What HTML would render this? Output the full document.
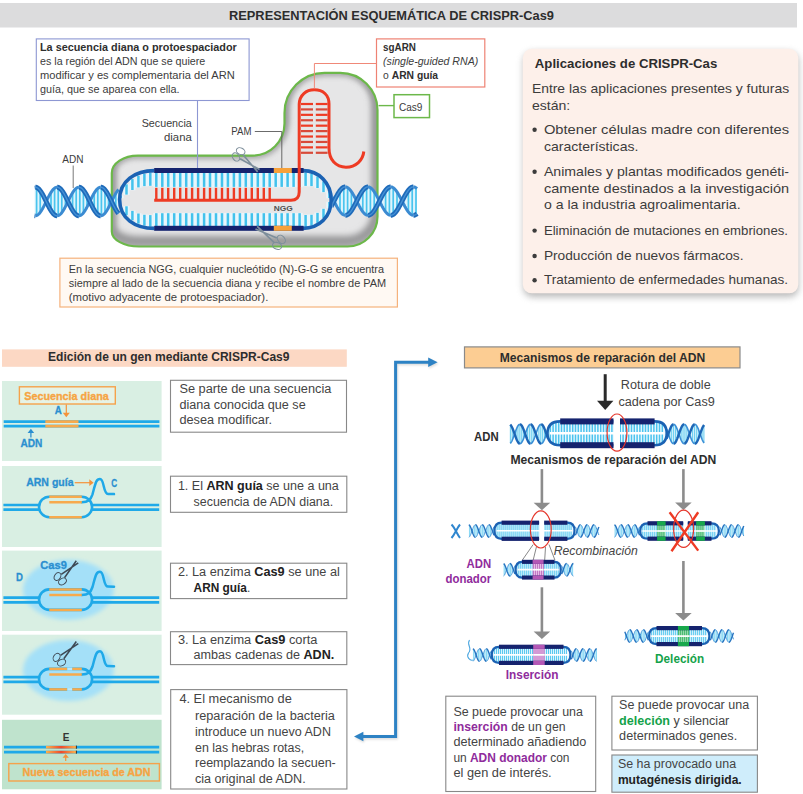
<!DOCTYPE html><html><head><meta charset="utf-8"><title>CRISPR-Cas9</title>
<style>html,body{margin:0;padding:0;background:#fff}svg{display:block}</style></head><body>
<svg width="803" height="794" viewBox="0 0 803 794" style="font-family:'Liberation Sans',sans-serif">
<defs>
<filter id="sh" x="-10%" y="-10%" width="120%" height="125%"><feGaussianBlur stdDeviation="3.6"/></filter>
<filter id="blur6" x="-20%" y="-20%" width="140%" height="140%"><feGaussianBlur stdDeviation="5"/></filter>
<filter id="blur3" x="-20%" y="-20%" width="140%" height="140%"><feGaussianBlur stdDeviation="2.5"/></filter>
<filter id="blur2" x="-20%" y="-20%" width="140%" height="140%"><feGaussianBlur stdDeviation="2"/></filter>
<filter id="blur1" x="-20%" y="-5%" width="140%" height="110%"><feGaussianBlur stdDeviation="1"/></filter>
<filter id="blurE" x="-20%" y="-20%" width="140%" height="140%"><feGaussianBlur stdDeviation="3"/></filter>
<linearGradient id="ng" x1="0" x2="1" y1="0" y2="0"><stop offset="0" stop-color="#f9b34e"/><stop offset="0.5" stop-color="#ef4a2a"/><stop offset="1" stop-color="#f9b34e"/></linearGradient>
</defs>
<rect x="0.00" y="0.00" width="803.00" height="794.00" fill="#ffffff" stroke="none" stroke-width="1" rx="0" />
<rect x="0.00" y="3.00" width="797.00" height="24.50" fill="#dcdcdd" stroke="none" stroke-width="1" rx="0" />
<text x="229.0" y="20.4" font-size="12.8" fill="#2d2d2d" text-anchor="start" font-weight="bold" font-style="normal" textLength="325.0" lengthAdjust="spacingAndGlyphs"  xml:space="preserve">REPRESENTACIÓN ESQUEMÁTICA DE CRISPR-Cas9</text>
<clipPath id="bc"><path d="M138,155.6 L252.5,155.6 A32,32 0 0 0 284.5,123.6 L284.5,113 A40,40.2 0 0 1 324.5,72.8 L340.3,72.8 A37.2,37.2 0 0 1 377.5,110 L377.5,216.5 A30,30 0 0 1 347.5,246.5 L139,246.5 A27.2,15 0 0 1 111.8,231.5 L111.8,173 A26.2,17.4 0 0 1 138,155.6 Z"/></clipPath>
<path d="M138,155.6 L252.5,155.6 A32,32 0 0 0 284.5,123.6 L284.5,113 A40,40.2 0 0 1 324.5,72.8 L340.3,72.8 A37.2,37.2 0 0 1 377.5,110 L377.5,216.5 A30,30 0 0 1 347.5,246.5 L139,246.5 A27.2,15 0 0 1 111.8,231.5 L111.8,173 A26.2,17.4 0 0 1 138,155.6 Z" fill="#e6e6e7" stroke="none" stroke-width="1" />
<g clip-path="url(#bc)"><path d="M138,155.6 L252.5,155.6 A32,32 0 0 0 284.5,123.6 L284.5,113 A40,40.2 0 0 1 324.5,72.8 L340.3,72.8 A37.2,37.2 0 0 1 377.5,110 L377.5,216.5 A30,30 0 0 1 347.5,246.5 L139,246.5 A27.2,15 0 0 1 111.8,231.5 L111.8,173 A26.2,17.4 0 0 1 138,155.6 Z" fill="none" stroke="#b9b9ba" stroke-width="8" filter="url(#blur3)"/><path d="M138,155.6 L252.5,155.6 A32,32 0 0 0 284.5,123.6 L284.5,113 A40,40.2 0 0 1 324.5,72.8 L340.3,72.8 A37.2,37.2 0 0 1 377.5,110 L377.5,216.5 A30,30 0 0 1 347.5,246.5 L139,246.5 A27.2,15 0 0 1 111.8,231.5 L111.8,173 A26.2,17.4 0 0 1 138,155.6 Z" fill="none" stroke="#969698" stroke-width="10" filter="url(#blurE)" transform="translate(-1,-5.5)"/></g>
<path d="M138,155.6 L252.5,155.6 A32,32 0 0 0 284.5,123.6 L284.5,113 A40,40.2 0 0 1 324.5,72.8 L340.3,72.8 A37.2,37.2 0 0 1 377.5,110 L377.5,216.5 A30,30 0 0 1 347.5,246.5 L139,246.5 A27.2,15 0 0 1 111.8,231.5 L111.8,173 A26.2,17.4 0 0 1 138,155.6 Z" fill="none" stroke="#6cb84a" stroke-width="2.2" />
<path d="M34.60,187.27 L35.10,187.21 L35.59,187.21 L36.09,187.29 L36.59,187.44 L37.08,187.67 L37.58,187.96 L38.08,188.33 L38.57,188.76 L39.07,189.26 L39.56,189.82 L40.06,190.44 L40.56,191.11 L41.05,191.84 L41.55,192.62 L42.05,193.44 L42.54,194.31 L43.04,195.21 L43.54,196.14 L44.03,197.11 L44.53,198.09 L45.03,199.09 L45.52,200.10 L46.02,201.13 L46.51,200.85 L47.01,199.83 L47.51,198.82 L48.00,197.82 L48.50,196.85 L49.00,195.89 L49.49,194.96 L49.99,194.07 L50.49,193.22 L50.98,192.41 L51.48,191.64 L51.98,190.93 L52.47,190.26 L52.97,189.66 L53.47,189.12 L53.96,188.64 L54.46,188.22 L54.95,187.88 L55.45,187.60 L55.95,187.40 L56.44,187.26 L56.94,187.20 L57.44,187.22 L57.93,187.30 L58.43,187.46 L58.93,187.69 L59.42,187.99 L59.92,188.36 L60.42,188.80 L60.91,189.30 L61.41,189.87 L61.90,190.49 L62.40,191.17 L62.90,191.91 L63.39,192.69 L63.89,193.52 L64.39,194.39 L64.88,195.29 L65.38,196.23 L65.88,197.19 L66.37,198.18 L66.87,199.18 L67.37,200.19 L67.86,201.22 L68.36,200.76 L68.86,199.74 L69.35,198.73 L69.85,197.74 L70.34,196.76 L70.84,195.81 L71.34,194.88 L71.83,194.00 L72.33,193.14 L72.83,192.34 L73.32,191.58 L73.82,190.86 L74.32,190.21 L74.81,189.61 L75.31,189.07 L75.81,188.60 L76.30,188.19 L76.80,187.85 L77.29,187.58 L77.79,187.38 L78.29,187.26 L78.78,187.20 L79.28,187.22 L79.78,187.31 L80.27,187.48 L80.77,187.72 L81.27,188.02 L81.76,188.40 L82.26,188.84 L82.76,189.35 L83.25,189.92 L83.75,190.55 L84.24,191.24 L84.74,191.97 L85.24,192.76 L85.73,193.59 L86.23,194.46 L86.73,195.37 L87.22,196.31 L87.72,197.28 L88.22,198.27 L88.71,199.27 L89.21,200.28 L89.71,201.31 L90.20,200.67 L90.70,199.65 L91.20,198.64 L91.69,197.65 L92.19,196.68 L92.68,195.73 L93.18,194.80 L93.68,193.92 L94.17,193.07 L94.67,192.27 L95.17,191.51 L95.66,190.80 L96.16,190.15 L96.66,189.56 L97.15,189.03 L97.65,188.56 L98.15,188.16 L98.64,187.82 L99.14,187.56 L99.63,187.37 L100.13,187.25 L100.63,187.20 L101.12,187.23 L101.62,187.33 L102.12,187.50 L102.61,187.74 L103.11,188.05 L103.61,188.44 L104.10,188.89 L104.60,189.40 L105.10,189.97 L105.59,190.61 L106.09,191.30 L106.59,192.04 L107.08,192.83 L107.58,193.67 L108.07,194.54 L108.57,195.45 L109.07,196.40 L109.56,197.36 L110.06,198.35 L110.56,199.36 L111.05,200.37 L111.55,201.40 L112.05,200.58 L112.54,199.56 L113.04,198.56 L113.54,197.56 L114.03,196.59 L114.53,195.64 L115.02,194.73 L115.52,193.84 L116.02,193.00 L116.51,192.20 L117.01,191.45 L117.51,190.74 L118.00,190.10 L118.50,189.51 L118.50,213.49 L118.00,212.90 L117.51,212.26 L117.01,211.55 L116.51,210.80 L116.02,210.00 L115.52,209.16 L115.02,208.27 L114.53,207.36 L114.03,206.41 L113.54,205.44 L113.04,204.44 L112.54,203.44 L112.05,202.42 L111.55,201.60 L111.05,202.63 L110.56,203.64 L110.06,204.65 L109.56,205.64 L109.07,206.60 L108.57,207.55 L108.07,208.46 L107.58,209.33 L107.08,210.17 L106.59,210.96 L106.09,211.70 L105.59,212.39 L105.10,213.03 L104.60,213.60 L104.10,214.11 L103.61,214.56 L103.11,214.95 L102.61,215.26 L102.12,215.50 L101.62,215.67 L101.12,215.77 L100.63,215.80 L100.13,215.75 L99.63,215.63 L99.14,215.44 L98.64,215.18 L98.15,214.84 L97.65,214.44 L97.15,213.97 L96.66,213.44 L96.16,212.85 L95.66,212.20 L95.17,211.49 L94.67,210.73 L94.17,209.93 L93.68,209.08 L93.18,208.20 L92.68,207.27 L92.19,206.32 L91.69,205.35 L91.20,204.36 L90.70,203.35 L90.20,202.33 L89.71,201.69 L89.21,202.72 L88.71,203.73 L88.22,204.73 L87.72,205.72 L87.22,206.69 L86.73,207.63 L86.23,208.54 L85.73,209.41 L85.24,210.24 L84.74,211.03 L84.24,211.76 L83.75,212.45 L83.25,213.08 L82.76,213.65 L82.26,214.16 L81.76,214.60 L81.27,214.98 L80.77,215.28 L80.27,215.52 L79.78,215.69 L79.28,215.78 L78.78,215.80 L78.29,215.74 L77.79,215.62 L77.29,215.42 L76.80,215.15 L76.30,214.81 L75.81,214.40 L75.31,213.93 L74.81,213.39 L74.32,212.79 L73.82,212.14 L73.32,211.42 L72.83,210.66 L72.33,209.86 L71.83,209.00 L71.34,208.12 L70.84,207.19 L70.34,206.24 L69.85,205.26 L69.35,204.27 L68.86,203.26 L68.36,202.24 L67.86,201.78 L67.37,202.81 L66.87,203.82 L66.37,204.82 L65.88,205.81 L65.38,206.77 L64.88,207.71 L64.39,208.61 L63.89,209.48 L63.39,210.31 L62.90,211.09 L62.40,211.83 L61.90,212.51 L61.41,213.13 L60.91,213.70 L60.42,214.20 L59.92,214.64 L59.42,215.01 L58.93,215.31 L58.43,215.54 L57.93,215.70 L57.44,215.78 L56.94,215.80 L56.44,215.74 L55.95,215.60 L55.45,215.40 L54.95,215.12 L54.46,214.78 L53.96,214.36 L53.47,213.88 L52.97,213.34 L52.47,212.74 L51.98,212.07 L51.48,211.36 L50.98,210.59 L50.49,209.78 L49.99,208.93 L49.49,208.04 L49.00,207.11 L48.50,206.15 L48.00,205.18 L47.51,204.18 L47.01,203.17 L46.51,202.15 L46.02,201.87 L45.52,202.90 L45.03,203.91 L44.53,204.91 L44.03,205.89 L43.54,206.86 L43.04,207.79 L42.54,208.69 L42.05,209.56 L41.55,210.38 L41.05,211.16 L40.56,211.89 L40.06,212.56 L39.56,213.18 L39.07,213.74 L38.57,214.24 L38.08,214.67 L37.58,215.04 L37.08,215.33 L36.59,215.56 L36.09,215.71 L35.59,215.79 L35.10,215.79 L34.60,215.73 Z" fill="#dff4fc" stroke="none" stroke-width="1" />
<g stroke="#49c4ee" stroke-width="1.7">
<line x1="36.60" y1="187.95" x2="36.60" y2="215.05"/>
<line x1="40.20" y1="191.12" x2="40.20" y2="211.88"/>
<line x1="51.00" y1="192.88" x2="51.00" y2="210.12"/>
<line x1="54.60" y1="188.62" x2="54.60" y2="214.38"/>
<line x1="58.20" y1="187.88" x2="58.20" y2="215.12"/>
<line x1="61.80" y1="190.86" x2="61.80" y2="212.14"/>
<line x1="65.40" y1="196.77" x2="65.40" y2="206.23"/>
<line x1="72.60" y1="193.20" x2="72.60" y2="209.80"/>
<line x1="76.20" y1="188.77" x2="76.20" y2="214.23"/>
<line x1="79.80" y1="187.82" x2="79.80" y2="215.18"/>
<line x1="83.40" y1="190.60" x2="83.40" y2="212.40"/>
<line x1="87.00" y1="196.39" x2="87.00" y2="206.61"/>
<line x1="94.20" y1="193.53" x2="94.20" y2="209.47"/>
<line x1="97.80" y1="188.93" x2="97.80" y2="214.07"/>
<line x1="101.40" y1="187.77" x2="101.40" y2="215.23"/>
<line x1="105.00" y1="190.36" x2="105.00" y2="212.64"/>
<line x1="108.60" y1="196.01" x2="108.60" y2="206.99"/>
<line x1="115.80" y1="193.86" x2="115.80" y2="209.14"/>
</g>
<path d="M34.60,187.27 L34.95,187.22 L35.30,187.20" fill="none" stroke="#3b8bd2" stroke-width="3.0" stroke-linecap="butt"/>
<path d="M35.30,215.80 L35.81,215.76 L36.31,215.65 L36.82,215.46 L37.33,215.19 L37.83,214.86 L38.34,214.45 L38.85,213.97 L39.36,213.43 L39.86,212.82 L40.37,212.15 L40.88,211.43 L41.38,210.65 L41.89,209.82 L42.40,208.95 L42.90,208.04 L43.41,207.09 L43.92,206.12 L44.43,205.12 L44.93,204.10 L45.44,203.06 L45.95,202.02 L46.45,200.98 L46.96,199.94 L47.47,198.90 L47.97,197.88 L48.48,196.88 L48.99,195.91 L49.50,194.96 L50.00,194.05 L50.51,193.18 L51.02,192.35 L51.52,191.57 L52.03,190.85 L52.54,190.18 L53.04,189.57 L53.55,189.03 L54.06,188.55 L54.57,188.14 L55.07,187.81 L55.58,187.54 L56.09,187.35 L56.59,187.24 L57.10,187.20" fill="none" stroke="#3b8bd2" stroke-width="3.0" stroke-linecap="butt"/>
<path d="M57.10,215.80 L57.61,215.76 L58.11,215.65 L58.62,215.46 L59.13,215.19 L59.63,214.86 L60.14,214.45 L60.65,213.97 L61.16,213.43 L61.66,212.82 L62.17,212.15 L62.68,211.43 L63.18,210.65 L63.69,209.82 L64.20,208.95 L64.70,208.04 L65.21,207.09 L65.72,206.12 L66.23,205.12 L66.73,204.10 L67.24,203.06 L67.75,202.02 L68.25,200.98 L68.76,199.94 L69.27,198.90 L69.77,197.88 L70.28,196.88 L70.79,195.91 L71.30,194.96 L71.80,194.05 L72.31,193.18 L72.82,192.35 L73.32,191.57 L73.83,190.85 L74.34,190.18 L74.84,189.57 L75.35,189.03 L75.86,188.55 L76.37,188.14 L76.87,187.81 L77.38,187.54 L77.89,187.35 L78.39,187.24 L78.90,187.20" fill="none" stroke="#3b8bd2" stroke-width="3.0" stroke-linecap="butt"/>
<path d="M78.90,215.80 L79.41,215.76 L79.91,215.65 L80.42,215.46 L80.93,215.19 L81.43,214.86 L81.94,214.45 L82.45,213.97 L82.96,213.43 L83.46,212.82 L83.97,212.15 L84.48,211.43 L84.98,210.65 L85.49,209.82 L86.00,208.95 L86.50,208.04 L87.01,207.09 L87.52,206.12 L88.03,205.12 L88.53,204.10 L89.04,203.06 L89.55,202.02 L90.05,200.98 L90.56,199.94 L91.07,198.90 L91.57,197.88 L92.08,196.88 L92.59,195.91 L93.10,194.96 L93.60,194.05 L94.11,193.18 L94.62,192.35 L95.12,191.57 L95.63,190.85 L96.14,190.18 L96.64,189.57 L97.15,189.03 L97.66,188.55 L98.17,188.14 L98.67,187.81 L99.18,187.54 L99.69,187.35 L100.19,187.24 L100.70,187.20" fill="none" stroke="#3b8bd2" stroke-width="3.0" stroke-linecap="butt"/>
<path d="M100.70,215.80 L101.21,215.76 L101.72,215.65 L102.23,215.46 L102.73,215.19 L103.24,214.85 L103.75,214.44 L104.26,213.96 L104.77,213.41 L105.28,212.80 L105.79,212.13 L106.29,211.40 L106.80,210.62 L107.31,209.79 L107.82,208.91 L108.33,207.99 L108.84,207.04 L109.35,206.06 L109.85,205.06 L110.36,204.04 L110.87,203.00 L111.38,201.95 L111.89,200.91 L112.40,199.86 L112.91,198.83 L113.41,197.80 L113.92,196.80 L114.43,195.83 L114.94,194.88 L115.45,193.97 L115.96,193.10 L116.47,192.27 L116.97,191.50 L117.48,190.78 L117.99,190.11 L118.50,189.51" fill="none" stroke="#3b8bd2" stroke-width="3.0" stroke-linecap="butt"/>
<path d="M34.60,215.73 L34.95,215.78 L35.30,215.80" fill="none" stroke="#1f6bba" stroke-width="4.8" stroke-linecap="butt"/>
<path d="M34.60,215.73 L34.95,215.78 L35.30,215.80" fill="none" stroke="#4f9bdc" stroke-width="1.344" stroke-linecap="butt" opacity="0.8"/>
<path d="M35.30,187.20 L35.81,187.24 L36.31,187.35 L36.82,187.54 L37.33,187.81 L37.83,188.14 L38.34,188.55 L38.85,189.03 L39.36,189.57 L39.86,190.18 L40.37,190.85 L40.88,191.57 L41.38,192.35 L41.89,193.18 L42.40,194.05 L42.90,194.96 L43.41,195.91 L43.92,196.88 L44.43,197.88 L44.93,198.90 L45.44,199.94 L45.95,200.98 L46.45,202.02 L46.96,203.06 L47.47,204.10 L47.97,205.12 L48.48,206.12 L48.99,207.09 L49.50,208.04 L50.00,208.95 L50.51,209.82 L51.02,210.65 L51.52,211.43 L52.03,212.15 L52.54,212.82 L53.04,213.43 L53.55,213.97 L54.06,214.45 L54.57,214.86 L55.07,215.19 L55.58,215.46 L56.09,215.65 L56.59,215.76 L57.10,215.80" fill="none" stroke="#1f6bba" stroke-width="4.8" stroke-linecap="butt"/>
<path d="M35.30,187.20 L35.81,187.24 L36.31,187.35 L36.82,187.54 L37.33,187.81 L37.83,188.14 L38.34,188.55 L38.85,189.03 L39.36,189.57 L39.86,190.18 L40.37,190.85 L40.88,191.57 L41.38,192.35 L41.89,193.18 L42.40,194.05 L42.90,194.96 L43.41,195.91 L43.92,196.88 L44.43,197.88 L44.93,198.90 L45.44,199.94 L45.95,200.98 L46.45,202.02 L46.96,203.06 L47.47,204.10 L47.97,205.12 L48.48,206.12 L48.99,207.09 L49.50,208.04 L50.00,208.95 L50.51,209.82 L51.02,210.65 L51.52,211.43 L52.03,212.15 L52.54,212.82 L53.04,213.43 L53.55,213.97 L54.06,214.45 L54.57,214.86 L55.07,215.19 L55.58,215.46 L56.09,215.65 L56.59,215.76 L57.10,215.80" fill="none" stroke="#4f9bdc" stroke-width="1.344" stroke-linecap="butt" opacity="0.8"/>
<path d="M57.10,187.20 L57.61,187.24 L58.11,187.35 L58.62,187.54 L59.13,187.81 L59.63,188.14 L60.14,188.55 L60.65,189.03 L61.16,189.57 L61.66,190.18 L62.17,190.85 L62.68,191.57 L63.18,192.35 L63.69,193.18 L64.20,194.05 L64.70,194.96 L65.21,195.91 L65.72,196.88 L66.23,197.88 L66.73,198.90 L67.24,199.94 L67.75,200.98 L68.25,202.02 L68.76,203.06 L69.27,204.10 L69.77,205.12 L70.28,206.12 L70.79,207.09 L71.30,208.04 L71.80,208.95 L72.31,209.82 L72.82,210.65 L73.32,211.43 L73.83,212.15 L74.34,212.82 L74.84,213.43 L75.35,213.97 L75.86,214.45 L76.37,214.86 L76.87,215.19 L77.38,215.46 L77.89,215.65 L78.39,215.76 L78.90,215.80" fill="none" stroke="#1f6bba" stroke-width="4.8" stroke-linecap="butt"/>
<path d="M57.10,187.20 L57.61,187.24 L58.11,187.35 L58.62,187.54 L59.13,187.81 L59.63,188.14 L60.14,188.55 L60.65,189.03 L61.16,189.57 L61.66,190.18 L62.17,190.85 L62.68,191.57 L63.18,192.35 L63.69,193.18 L64.20,194.05 L64.70,194.96 L65.21,195.91 L65.72,196.88 L66.23,197.88 L66.73,198.90 L67.24,199.94 L67.75,200.98 L68.25,202.02 L68.76,203.06 L69.27,204.10 L69.77,205.12 L70.28,206.12 L70.79,207.09 L71.30,208.04 L71.80,208.95 L72.31,209.82 L72.82,210.65 L73.32,211.43 L73.83,212.15 L74.34,212.82 L74.84,213.43 L75.35,213.97 L75.86,214.45 L76.37,214.86 L76.87,215.19 L77.38,215.46 L77.89,215.65 L78.39,215.76 L78.90,215.80" fill="none" stroke="#4f9bdc" stroke-width="1.344" stroke-linecap="butt" opacity="0.8"/>
<path d="M78.90,187.20 L79.41,187.24 L79.91,187.35 L80.42,187.54 L80.93,187.81 L81.43,188.14 L81.94,188.55 L82.45,189.03 L82.96,189.57 L83.46,190.18 L83.97,190.85 L84.48,191.57 L84.98,192.35 L85.49,193.18 L86.00,194.05 L86.50,194.96 L87.01,195.91 L87.52,196.88 L88.03,197.88 L88.53,198.90 L89.04,199.94 L89.55,200.98 L90.05,202.02 L90.56,203.06 L91.07,204.10 L91.57,205.12 L92.08,206.12 L92.59,207.09 L93.10,208.04 L93.60,208.95 L94.11,209.82 L94.62,210.65 L95.12,211.43 L95.63,212.15 L96.14,212.82 L96.64,213.43 L97.15,213.97 L97.66,214.45 L98.17,214.86 L98.67,215.19 L99.18,215.46 L99.69,215.65 L100.19,215.76 L100.70,215.80" fill="none" stroke="#1f6bba" stroke-width="4.8" stroke-linecap="butt"/>
<path d="M78.90,187.20 L79.41,187.24 L79.91,187.35 L80.42,187.54 L80.93,187.81 L81.43,188.14 L81.94,188.55 L82.45,189.03 L82.96,189.57 L83.46,190.18 L83.97,190.85 L84.48,191.57 L84.98,192.35 L85.49,193.18 L86.00,194.05 L86.50,194.96 L87.01,195.91 L87.52,196.88 L88.03,197.88 L88.53,198.90 L89.04,199.94 L89.55,200.98 L90.05,202.02 L90.56,203.06 L91.07,204.10 L91.57,205.12 L92.08,206.12 L92.59,207.09 L93.10,208.04 L93.60,208.95 L94.11,209.82 L94.62,210.65 L95.12,211.43 L95.63,212.15 L96.14,212.82 L96.64,213.43 L97.15,213.97 L97.66,214.45 L98.17,214.86 L98.67,215.19 L99.18,215.46 L99.69,215.65 L100.19,215.76 L100.70,215.80" fill="none" stroke="#4f9bdc" stroke-width="1.344" stroke-linecap="butt" opacity="0.8"/>
<path d="M100.70,187.20 L101.21,187.24 L101.72,187.35 L102.23,187.54 L102.73,187.81 L103.24,188.15 L103.75,188.56 L104.26,189.04 L104.77,189.59 L105.28,190.20 L105.79,190.87 L106.29,191.60 L106.80,192.38 L107.31,193.21 L107.82,194.09 L108.33,195.01 L108.84,195.96 L109.35,196.94 L109.85,197.94 L110.36,198.96 L110.87,200.00 L111.38,201.05 L111.89,202.09 L112.40,203.14 L112.91,204.17 L113.41,205.20 L113.92,206.20 L114.43,207.17 L114.94,208.12 L115.45,209.03 L115.96,209.90 L116.47,210.73 L116.97,211.50 L117.48,212.22 L117.99,212.89 L118.50,213.49" fill="none" stroke="#1f6bba" stroke-width="4.8" stroke-linecap="butt"/>
<path d="M100.70,187.20 L101.21,187.24 L101.72,187.35 L102.23,187.54 L102.73,187.81 L103.24,188.15 L103.75,188.56 L104.26,189.04 L104.77,189.59 L105.28,190.20 L105.79,190.87 L106.29,191.60 L106.80,192.38 L107.31,193.21 L107.82,194.09 L108.33,195.01 L108.84,195.96 L109.35,196.94 L109.85,197.94 L110.36,198.96 L110.87,200.00 L111.38,201.05 L111.89,202.09 L112.40,203.14 L112.91,204.17 L113.41,205.20 L113.92,206.20 L114.43,207.17 L114.94,208.12 L115.45,209.03 L115.96,209.90 L116.47,210.73 L116.97,211.50 L117.48,212.22 L117.99,212.89 L118.50,213.49" fill="none" stroke="#4f9bdc" stroke-width="1.344" stroke-linecap="butt" opacity="0.8"/>
<path d="M331.00,195.37 L331.49,196.27 L331.99,197.20 L332.48,198.14 L332.98,199.10 L333.47,200.06 L333.97,201.03 L334.46,200.20 L334.95,199.23 L335.45,198.27 L335.94,197.33 L336.44,196.40 L336.93,195.50 L337.43,194.62 L337.92,193.77 L338.41,192.96 L338.91,192.18 L339.40,191.45 L339.90,190.76 L340.39,190.12 L340.89,189.53 L341.38,188.99 L341.87,188.51 L342.37,188.09 L342.86,187.73 L343.36,187.44 L343.85,187.20 L344.34,187.04 L344.84,186.94 L345.33,186.90 L345.83,186.93 L346.32,187.03 L346.82,187.19 L347.31,187.42 L347.80,187.71 L348.30,188.07 L348.79,188.48 L349.29,188.96 L349.78,189.49 L350.28,190.07 L350.77,190.71 L351.26,191.40 L351.76,192.13 L352.25,192.90 L352.75,193.71 L353.24,194.56 L353.74,195.44 L354.23,196.34 L354.72,197.27 L355.22,198.21 L355.71,199.17 L356.21,200.13 L356.70,201.10 L357.20,200.13 L357.69,199.16 L358.18,198.20 L358.68,197.26 L359.17,196.34 L359.67,195.43 L360.16,194.56 L360.66,193.71 L361.15,192.90 L361.64,192.12 L362.14,191.39 L362.63,190.71 L363.13,190.07 L363.62,189.49 L364.11,188.95 L364.61,188.48 L365.10,188.06 L365.60,187.71 L366.09,187.42 L366.59,187.19 L367.08,187.03 L367.57,186.93 L368.07,186.90 L368.56,186.94 L369.06,187.04 L369.55,187.21 L370.05,187.44 L370.54,187.73 L371.03,188.09 L371.53,188.51 L372.02,188.99 L372.52,189.53 L373.01,190.12 L373.51,190.76 L374.00,191.45 L374.49,192.18 L374.99,192.96 L375.48,193.77 L375.98,194.62 L376.47,195.50 L376.97,196.41 L377.46,197.33 L377.95,198.28 L378.45,199.24 L378.94,200.20 L379.44,201.03 L379.93,200.06 L380.43,199.09 L380.92,198.14 L381.41,197.19 L381.91,196.27 L382.40,195.37 L382.90,194.49 L383.39,193.65 L383.89,192.84 L384.38,192.07 L384.87,191.34 L385.37,190.66 L385.86,190.03 L386.36,189.45 L386.85,188.92 L387.34,188.45 L387.84,188.04 L388.33,187.69 L388.83,187.40 L389.32,187.18 L389.82,187.02 L390.31,186.93 L390.80,186.90 L391.30,186.94 L391.79,187.05 L392.29,187.22 L392.78,187.46 L393.28,187.76 L393.77,188.12 L394.26,188.55 L394.76,189.03 L395.25,189.57 L395.75,190.16 L396.24,190.81 L396.74,191.50 L397.23,192.24 L397.72,193.02 L398.22,193.83 L398.71,194.68 L399.21,195.57 L399.70,196.47 L400.20,197.40 L400.69,198.35 L401.18,199.30 L401.68,200.27 L402.17,200.96 L402.67,199.99 L403.16,199.02 L403.66,198.07 L404.15,197.13 L404.64,196.20 L405.14,195.30 L405.63,194.43 L406.13,193.59 L406.62,192.78 L407.11,192.02 L407.61,191.29 L408.10,190.61 L408.60,189.98 L409.09,189.41 L409.59,188.88 L410.08,188.42 L410.57,188.01 L411.07,187.66 L411.56,187.38 L412.06,187.16 L412.55,187.01 L413.05,186.92 L413.54,186.90 L414.03,186.95 L414.53,187.06 L415.02,187.24 L415.52,187.48 L416.01,187.78 L416.51,188.15 L417.00,188.58 L417.00,213.62 L416.51,214.05 L416.01,214.42 L415.52,214.72 L415.02,214.96 L414.53,215.14 L414.03,215.25 L413.54,215.30 L413.05,215.28 L412.55,215.19 L412.06,215.04 L411.56,214.82 L411.07,214.54 L410.57,214.19 L410.08,213.78 L409.59,213.32 L409.09,212.79 L408.60,212.22 L408.10,211.59 L407.61,210.91 L407.11,210.18 L406.62,209.42 L406.13,208.61 L405.63,207.77 L405.14,206.90 L404.64,206.00 L404.15,205.07 L403.66,204.13 L403.16,203.18 L402.67,202.21 L402.17,201.24 L401.68,201.93 L401.18,202.90 L400.69,203.85 L400.20,204.80 L399.70,205.73 L399.21,206.63 L398.71,207.52 L398.22,208.37 L397.72,209.18 L397.23,209.96 L396.74,210.70 L396.24,211.39 L395.75,212.04 L395.25,212.63 L394.76,213.17 L394.26,213.65 L393.77,214.08 L393.28,214.44 L392.78,214.74 L392.29,214.98 L391.79,215.15 L391.30,215.26 L390.80,215.30 L390.31,215.27 L389.82,215.18 L389.32,215.02 L388.83,214.80 L388.33,214.51 L387.84,214.16 L387.34,213.75 L386.85,213.28 L386.36,212.75 L385.86,212.17 L385.37,211.54 L384.87,210.86 L384.38,210.13 L383.89,209.36 L383.39,208.55 L382.90,207.71 L382.40,206.83 L381.91,205.93 L381.41,205.01 L380.92,204.06 L380.43,203.11 L379.93,202.14 L379.44,201.17 L378.94,202.00 L378.45,202.96 L377.95,203.92 L377.46,204.87 L376.97,205.79 L376.47,206.70 L375.98,207.58 L375.48,208.43 L374.99,209.24 L374.49,210.02 L374.00,210.75 L373.51,211.44 L373.01,212.08 L372.52,212.67 L372.02,213.21 L371.53,213.69 L371.03,214.11 L370.54,214.47 L370.05,214.76 L369.55,214.99 L369.06,215.16 L368.56,215.26 L368.07,215.30 L367.57,215.27 L367.08,215.17 L366.59,215.01 L366.09,214.78 L365.60,214.49 L365.10,214.14 L364.61,213.72 L364.11,213.25 L363.62,212.71 L363.13,212.13 L362.63,211.49 L362.14,210.81 L361.64,210.08 L361.15,209.30 L360.66,208.49 L360.16,207.64 L359.67,206.77 L359.17,205.86 L358.68,204.94 L358.18,204.00 L357.69,203.04 L357.20,202.07 L356.70,201.10 L356.21,202.07 L355.71,203.03 L355.22,203.99 L354.72,204.93 L354.23,205.86 L353.74,206.76 L353.24,207.64 L352.75,208.49 L352.25,209.30 L351.76,210.07 L351.26,210.80 L350.77,211.49 L350.28,212.13 L349.78,212.71 L349.29,213.24 L348.79,213.72 L348.30,214.13 L347.80,214.49 L347.31,214.78 L346.82,215.01 L346.32,215.17 L345.83,215.27 L345.33,215.30 L344.84,215.26 L344.34,215.16 L343.85,215.00 L343.36,214.76 L342.86,214.47 L342.37,214.11 L341.87,213.69 L341.38,213.21 L340.89,212.67 L340.39,212.08 L339.90,211.44 L339.40,210.75 L338.91,210.02 L338.41,209.24 L337.92,208.43 L337.43,207.58 L336.93,206.70 L336.44,205.80 L335.94,204.87 L335.45,203.93 L334.95,202.97 L334.46,202.00 L333.97,201.17 L333.47,202.14 L332.98,203.10 L332.48,204.06 L331.99,205.00 L331.49,205.93 L331.00,206.83 Z" fill="#dff4fc" stroke="none" stroke-width="1" />
<g stroke="#49c4ee" stroke-width="1.7">
<line x1="340.00" y1="191.12" x2="340.00" y2="211.08"/>
<line x1="343.80" y1="187.73" x2="343.80" y2="214.47"/>
<line x1="347.60" y1="188.08" x2="347.60" y2="214.12"/>
<line x1="351.40" y1="192.09" x2="351.40" y2="210.11"/>
<line x1="362.80" y1="190.99" x2="362.80" y2="211.21"/>
<line x1="366.60" y1="187.68" x2="366.60" y2="214.52"/>
<line x1="370.40" y1="188.14" x2="370.40" y2="214.06"/>
<line x1="374.20" y1="192.24" x2="374.20" y2="209.96"/>
<line x1="385.60" y1="190.86" x2="385.60" y2="211.34"/>
<line x1="389.40" y1="187.65" x2="389.40" y2="214.55"/>
<line x1="393.20" y1="188.21" x2="393.20" y2="213.99"/>
<line x1="397.00" y1="192.39" x2="397.00" y2="209.81"/>
<line x1="408.40" y1="190.73" x2="408.40" y2="211.47"/>
<line x1="412.20" y1="187.61" x2="412.20" y2="214.59"/>
<line x1="416.00" y1="188.28" x2="416.00" y2="213.92"/>
</g>
<path d="M331.00,195.37 L331.51,196.31 L332.02,197.27 L332.54,198.25 L333.05,199.24 L333.56,200.24 L334.07,201.25 L334.59,202.25 L335.10,203.25 L335.61,204.24 L336.12,205.22 L336.64,206.17 L337.15,207.10 L337.66,207.99 L338.18,208.86 L338.69,209.68 L339.20,210.46 L339.71,211.19 L340.23,211.88 L340.74,212.50 L341.25,213.07 L341.76,213.59 L342.28,214.03 L342.79,214.42 L343.30,214.73 L343.81,214.98 L344.33,215.16 L344.84,215.26 L345.35,215.30" fill="none" stroke="#3b8bd2" stroke-width="3.0" stroke-linecap="butt"/>
<path d="M345.35,186.90 L345.85,186.93 L346.36,187.04 L346.86,187.21 L347.37,187.45 L347.87,187.76 L348.38,188.13 L348.88,188.56 L349.39,189.06 L349.89,189.61 L350.39,190.22 L350.90,190.89 L351.40,191.60 L351.91,192.36 L352.41,193.16 L352.92,194.00 L353.42,194.88 L353.93,195.78 L354.43,196.71 L354.93,197.66 L355.44,198.63 L355.94,199.62 L356.45,200.60 L356.95,201.60 L357.46,202.58 L357.96,203.57 L358.47,204.54 L358.97,205.49 L359.47,206.42 L359.98,207.32 L360.48,208.20 L360.99,209.04 L361.49,209.84 L362.00,210.60 L362.50,211.31 L363.01,211.98 L363.51,212.59 L364.01,213.14 L364.52,213.64 L365.02,214.07 L365.53,214.44 L366.03,214.75 L366.54,214.99 L367.04,215.16 L367.55,215.27 L368.05,215.30" fill="none" stroke="#3b8bd2" stroke-width="3.0" stroke-linecap="butt"/>
<path d="M368.05,186.90 L368.55,186.93 L369.06,187.04 L369.56,187.21 L370.07,187.45 L370.57,187.76 L371.08,188.13 L371.58,188.56 L372.09,189.06 L372.59,189.61 L373.09,190.22 L373.60,190.89 L374.10,191.60 L374.61,192.36 L375.11,193.16 L375.62,194.00 L376.12,194.88 L376.63,195.78 L377.13,196.71 L377.63,197.66 L378.14,198.63 L378.64,199.62 L379.15,200.60 L379.65,201.60 L380.16,202.58 L380.66,203.57 L381.17,204.54 L381.67,205.49 L382.17,206.42 L382.68,207.32 L383.18,208.20 L383.69,209.04 L384.19,209.84 L384.70,210.60 L385.20,211.31 L385.71,211.98 L386.21,212.59 L386.71,213.14 L387.22,213.64 L387.72,214.07 L388.23,214.44 L388.73,214.75 L389.24,214.99 L389.74,215.16 L390.25,215.27 L390.75,215.30" fill="none" stroke="#3b8bd2" stroke-width="3.0" stroke-linecap="butt"/>
<path d="M390.75,186.90 L391.25,186.93 L391.76,187.04 L392.26,187.21 L392.77,187.45 L393.27,187.76 L393.78,188.13 L394.28,188.56 L394.79,189.06 L395.29,189.61 L395.79,190.22 L396.30,190.89 L396.80,191.60 L397.31,192.36 L397.81,193.16 L398.32,194.00 L398.82,194.88 L399.33,195.78 L399.83,196.71 L400.33,197.66 L400.84,198.63 L401.34,199.62 L401.85,200.60 L402.35,201.60 L402.86,202.58 L403.36,203.57 L403.87,204.54 L404.37,205.49 L404.87,206.42 L405.38,207.32 L405.88,208.20 L406.39,209.04 L406.89,209.84 L407.40,210.60 L407.90,211.31 L408.41,211.98 L408.91,212.59 L409.41,213.14 L409.92,213.64 L410.42,214.07 L410.93,214.44 L411.43,214.75 L411.94,214.99 L412.44,215.16 L412.95,215.27 L413.45,215.30" fill="none" stroke="#3b8bd2" stroke-width="3.0" stroke-linecap="butt"/>
<path d="M413.45,186.90 L413.96,186.93 L414.46,187.04 L414.97,187.21 L415.48,187.46 L415.99,187.77 L416.49,188.14 L417.00,188.58" fill="none" stroke="#3b8bd2" stroke-width="3.0" stroke-linecap="butt"/>
<path d="M331.00,206.83 L331.51,205.89 L332.02,204.93 L332.54,203.95 L333.05,202.96 L333.56,201.96 L334.07,200.95 L334.59,199.95 L335.10,198.95 L335.61,197.96 L336.12,196.98 L336.64,196.03 L337.15,195.10 L337.66,194.21 L338.18,193.34 L338.69,192.52 L339.20,191.74 L339.71,191.01 L340.23,190.32 L340.74,189.70 L341.25,189.13 L341.76,188.61 L342.28,188.17 L342.79,187.78 L343.30,187.47 L343.81,187.22 L344.33,187.04 L344.84,186.94 L345.35,186.90" fill="none" stroke="#1f6bba" stroke-width="4.8" stroke-linecap="butt"/>
<path d="M331.00,206.83 L331.51,205.89 L332.02,204.93 L332.54,203.95 L333.05,202.96 L333.56,201.96 L334.07,200.95 L334.59,199.95 L335.10,198.95 L335.61,197.96 L336.12,196.98 L336.64,196.03 L337.15,195.10 L337.66,194.21 L338.18,193.34 L338.69,192.52 L339.20,191.74 L339.71,191.01 L340.23,190.32 L340.74,189.70 L341.25,189.13 L341.76,188.61 L342.28,188.17 L342.79,187.78 L343.30,187.47 L343.81,187.22 L344.33,187.04 L344.84,186.94 L345.35,186.90" fill="none" stroke="#4f9bdc" stroke-width="1.344" stroke-linecap="butt" opacity="0.8"/>
<path d="M345.35,215.30 L345.85,215.27 L346.36,215.16 L346.86,214.99 L347.37,214.75 L347.87,214.44 L348.38,214.07 L348.88,213.64 L349.39,213.14 L349.89,212.59 L350.39,211.98 L350.90,211.31 L351.40,210.60 L351.91,209.84 L352.41,209.04 L352.92,208.20 L353.42,207.32 L353.93,206.42 L354.43,205.49 L354.93,204.54 L355.44,203.57 L355.94,202.58 L356.45,201.60 L356.95,200.60 L357.46,199.62 L357.96,198.63 L358.47,197.66 L358.97,196.71 L359.47,195.78 L359.98,194.88 L360.48,194.00 L360.99,193.16 L361.49,192.36 L362.00,191.60 L362.50,190.89 L363.01,190.22 L363.51,189.61 L364.01,189.06 L364.52,188.56 L365.02,188.13 L365.53,187.76 L366.03,187.45 L366.54,187.21 L367.04,187.04 L367.55,186.93 L368.05,186.90" fill="none" stroke="#1f6bba" stroke-width="4.8" stroke-linecap="butt"/>
<path d="M345.35,215.30 L345.85,215.27 L346.36,215.16 L346.86,214.99 L347.37,214.75 L347.87,214.44 L348.38,214.07 L348.88,213.64 L349.39,213.14 L349.89,212.59 L350.39,211.98 L350.90,211.31 L351.40,210.60 L351.91,209.84 L352.41,209.04 L352.92,208.20 L353.42,207.32 L353.93,206.42 L354.43,205.49 L354.93,204.54 L355.44,203.57 L355.94,202.58 L356.45,201.60 L356.95,200.60 L357.46,199.62 L357.96,198.63 L358.47,197.66 L358.97,196.71 L359.47,195.78 L359.98,194.88 L360.48,194.00 L360.99,193.16 L361.49,192.36 L362.00,191.60 L362.50,190.89 L363.01,190.22 L363.51,189.61 L364.01,189.06 L364.52,188.56 L365.02,188.13 L365.53,187.76 L366.03,187.45 L366.54,187.21 L367.04,187.04 L367.55,186.93 L368.05,186.90" fill="none" stroke="#4f9bdc" stroke-width="1.344" stroke-linecap="butt" opacity="0.8"/>
<path d="M368.05,215.30 L368.55,215.27 L369.06,215.16 L369.56,214.99 L370.07,214.75 L370.57,214.44 L371.08,214.07 L371.58,213.64 L372.09,213.14 L372.59,212.59 L373.09,211.98 L373.60,211.31 L374.10,210.60 L374.61,209.84 L375.11,209.04 L375.62,208.20 L376.12,207.32 L376.63,206.42 L377.13,205.49 L377.63,204.54 L378.14,203.57 L378.64,202.58 L379.15,201.60 L379.65,200.60 L380.16,199.62 L380.66,198.63 L381.17,197.66 L381.67,196.71 L382.17,195.78 L382.68,194.88 L383.18,194.00 L383.69,193.16 L384.19,192.36 L384.70,191.60 L385.20,190.89 L385.71,190.22 L386.21,189.61 L386.71,189.06 L387.22,188.56 L387.72,188.13 L388.23,187.76 L388.73,187.45 L389.24,187.21 L389.74,187.04 L390.25,186.93 L390.75,186.90" fill="none" stroke="#1f6bba" stroke-width="4.8" stroke-linecap="butt"/>
<path d="M368.05,215.30 L368.55,215.27 L369.06,215.16 L369.56,214.99 L370.07,214.75 L370.57,214.44 L371.08,214.07 L371.58,213.64 L372.09,213.14 L372.59,212.59 L373.09,211.98 L373.60,211.31 L374.10,210.60 L374.61,209.84 L375.11,209.04 L375.62,208.20 L376.12,207.32 L376.63,206.42 L377.13,205.49 L377.63,204.54 L378.14,203.57 L378.64,202.58 L379.15,201.60 L379.65,200.60 L380.16,199.62 L380.66,198.63 L381.17,197.66 L381.67,196.71 L382.17,195.78 L382.68,194.88 L383.18,194.00 L383.69,193.16 L384.19,192.36 L384.70,191.60 L385.20,190.89 L385.71,190.22 L386.21,189.61 L386.71,189.06 L387.22,188.56 L387.72,188.13 L388.23,187.76 L388.73,187.45 L389.24,187.21 L389.74,187.04 L390.25,186.93 L390.75,186.90" fill="none" stroke="#4f9bdc" stroke-width="1.344" stroke-linecap="butt" opacity="0.8"/>
<path d="M390.75,215.30 L391.25,215.27 L391.76,215.16 L392.26,214.99 L392.77,214.75 L393.27,214.44 L393.78,214.07 L394.28,213.64 L394.79,213.14 L395.29,212.59 L395.79,211.98 L396.30,211.31 L396.80,210.60 L397.31,209.84 L397.81,209.04 L398.32,208.20 L398.82,207.32 L399.33,206.42 L399.83,205.49 L400.33,204.54 L400.84,203.57 L401.34,202.58 L401.85,201.60 L402.35,200.60 L402.86,199.62 L403.36,198.63 L403.87,197.66 L404.37,196.71 L404.87,195.78 L405.38,194.88 L405.88,194.00 L406.39,193.16 L406.89,192.36 L407.40,191.60 L407.90,190.89 L408.41,190.22 L408.91,189.61 L409.41,189.06 L409.92,188.56 L410.42,188.13 L410.93,187.76 L411.43,187.45 L411.94,187.21 L412.44,187.04 L412.95,186.93 L413.45,186.90" fill="none" stroke="#1f6bba" stroke-width="4.8" stroke-linecap="butt"/>
<path d="M390.75,215.30 L391.25,215.27 L391.76,215.16 L392.26,214.99 L392.77,214.75 L393.27,214.44 L393.78,214.07 L394.28,213.64 L394.79,213.14 L395.29,212.59 L395.79,211.98 L396.30,211.31 L396.80,210.60 L397.31,209.84 L397.81,209.04 L398.32,208.20 L398.82,207.32 L399.33,206.42 L399.83,205.49 L400.33,204.54 L400.84,203.57 L401.34,202.58 L401.85,201.60 L402.35,200.60 L402.86,199.62 L403.36,198.63 L403.87,197.66 L404.37,196.71 L404.87,195.78 L405.38,194.88 L405.88,194.00 L406.39,193.16 L406.89,192.36 L407.40,191.60 L407.90,190.89 L408.41,190.22 L408.91,189.61 L409.41,189.06 L409.92,188.56 L410.42,188.13 L410.93,187.76 L411.43,187.45 L411.94,187.21 L412.44,187.04 L412.95,186.93 L413.45,186.90" fill="none" stroke="#4f9bdc" stroke-width="1.344" stroke-linecap="butt" opacity="0.8"/>
<path d="M413.45,215.30 L413.96,215.27 L414.46,215.16 L414.97,214.99 L415.48,214.74 L415.99,214.43 L416.49,214.06 L417.00,213.62" fill="none" stroke="#1f6bba" stroke-width="4.8" stroke-linecap="butt"/>
<path d="M413.45,215.30 L413.96,215.27 L414.46,215.16 L414.97,214.99 L415.48,214.74 L415.99,214.43 L416.49,214.06 L417.00,213.62" fill="none" stroke="#4f9bdc" stroke-width="1.344" stroke-linecap="butt" opacity="0.8"/>
<g stroke="#42c2ec" stroke-width="2.5">
</g>
<g stroke="#e9f6fc" stroke-width="6.2">
<line x1="120.5" y1="195.4" x2="120.5" y2="198.3"/>
<line x1="126.5" y1="184.0" x2="126.5" y2="194.9"/>
<line x1="126.5" y1="206.0" x2="126.5" y2="215.4"/>
<line x1="132.4" y1="178.8" x2="132.4" y2="190.3"/>
<line x1="132.4" y1="210.6" x2="132.4" y2="220.6"/>
<line x1="138.4" y1="175.5" x2="138.4" y2="187.7"/>
<line x1="138.4" y1="213.2" x2="138.4" y2="223.9"/>
<line x1="144.4" y1="173.5" x2="144.4" y2="186.4"/>
<line x1="144.4" y1="214.5" x2="144.4" y2="225.9"/>
<line x1="150.3" y1="172.5" x2="150.3" y2="186.1"/>
<line x1="150.3" y1="214.8" x2="150.3" y2="226.9"/>
<line x1="156.3" y1="172.3" x2="156.3" y2="187.2"/>
<line x1="156.3" y1="212.9" x2="156.3" y2="226.5"/>
<line x1="162.3" y1="172.3" x2="162.3" y2="187.2"/>
<line x1="162.3" y1="212.9" x2="162.3" y2="226.5"/>
<line x1="168.2" y1="172.3" x2="168.2" y2="187.2"/>
<line x1="168.2" y1="212.9" x2="168.2" y2="226.5"/>
<line x1="174.2" y1="172.3" x2="174.2" y2="187.2"/>
<line x1="174.2" y1="212.9" x2="174.2" y2="226.5"/>
<line x1="180.2" y1="172.3" x2="180.2" y2="187.2"/>
<line x1="180.2" y1="212.9" x2="180.2" y2="226.5"/>
<line x1="186.2" y1="172.3" x2="186.2" y2="187.2"/>
<line x1="186.2" y1="212.9" x2="186.2" y2="226.5"/>
<line x1="192.1" y1="172.3" x2="192.1" y2="187.2"/>
<line x1="192.1" y1="212.9" x2="192.1" y2="226.5"/>
<line x1="198.1" y1="172.3" x2="198.1" y2="187.2"/>
<line x1="198.1" y1="212.9" x2="198.1" y2="226.5"/>
<line x1="204.1" y1="172.3" x2="204.1" y2="187.2"/>
<line x1="204.1" y1="212.9" x2="204.1" y2="226.5"/>
<line x1="210.0" y1="172.3" x2="210.0" y2="187.2"/>
<line x1="210.0" y1="212.9" x2="210.0" y2="226.5"/>
<line x1="216.0" y1="172.3" x2="216.0" y2="187.2"/>
<line x1="216.0" y1="212.9" x2="216.0" y2="226.5"/>
<line x1="222.0" y1="172.3" x2="222.0" y2="187.2"/>
<line x1="222.0" y1="212.9" x2="222.0" y2="226.5"/>
<line x1="227.9" y1="172.3" x2="227.9" y2="187.2"/>
<line x1="227.9" y1="212.9" x2="227.9" y2="226.5"/>
<line x1="233.9" y1="172.3" x2="233.9" y2="187.2"/>
<line x1="233.9" y1="212.9" x2="233.9" y2="226.5"/>
<line x1="239.9" y1="172.3" x2="239.9" y2="187.2"/>
<line x1="239.9" y1="212.9" x2="239.9" y2="226.5"/>
<line x1="245.8" y1="172.3" x2="245.8" y2="187.2"/>
<line x1="245.8" y1="212.9" x2="245.8" y2="226.5"/>
<line x1="251.8" y1="172.3" x2="251.8" y2="187.2"/>
<line x1="251.8" y1="212.9" x2="251.8" y2="226.5"/>
<line x1="257.8" y1="172.3" x2="257.8" y2="187.2"/>
<line x1="257.8" y1="212.9" x2="257.8" y2="226.5"/>
<line x1="263.8" y1="172.3" x2="263.8" y2="187.2"/>
<line x1="263.8" y1="212.9" x2="263.8" y2="226.5"/>
<line x1="269.7" y1="172.3" x2="269.7" y2="187.2"/>
<line x1="269.7" y1="212.9" x2="269.7" y2="226.5"/>
<line x1="275.7" y1="172.3" x2="275.7" y2="187.2"/>
<line x1="275.7" y1="212.9" x2="275.7" y2="226.5"/>
<line x1="281.7" y1="172.3" x2="281.7" y2="187.2"/>
<line x1="281.7" y1="212.9" x2="281.7" y2="226.5"/>
<line x1="287.6" y1="172.3" x2="287.6" y2="187.2"/>
<line x1="287.6" y1="212.9" x2="287.6" y2="226.5"/>
<line x1="293.6" y1="172.3" x2="293.6" y2="187.2"/>
<line x1="293.6" y1="212.9" x2="293.6" y2="226.5"/>
<line x1="299.6" y1="172.3" x2="299.6" y2="187.2"/>
<line x1="299.6" y1="212.9" x2="299.6" y2="226.5"/>
<line x1="305.6" y1="172.3" x2="305.6" y2="186.2"/>
<line x1="305.6" y1="214.7" x2="305.6" y2="227.1"/>
<line x1="311.5" y1="173.4" x2="311.5" y2="186.4"/>
<line x1="311.5" y1="214.5" x2="311.5" y2="226.0"/>
<line x1="317.5" y1="176.2" x2="317.5" y2="188.3"/>
<line x1="317.5" y1="212.6" x2="317.5" y2="223.2"/>
<line x1="323.5" y1="181.1" x2="323.5" y2="192.4"/>
<line x1="323.5" y1="208.5" x2="323.5" y2="218.3"/>
<line x1="329.4" y1="191.4" x2="329.4" y2="198.3"/>
<line x1="329.4" y1="201.7" x2="329.4" y2="208.0"/>
</g>
<g stroke="#42c2ec" stroke-width="2.5">
<line x1="120.5" y1="195.7" x2="120.5" y2="198.0"/>
<line x1="126.5" y1="184.3" x2="126.5" y2="194.6"/>
<line x1="126.5" y1="206.3" x2="126.5" y2="215.1"/>
<line x1="132.4" y1="179.1" x2="132.4" y2="190.0"/>
<line x1="132.4" y1="210.9" x2="132.4" y2="220.3"/>
<line x1="138.4" y1="175.8" x2="138.4" y2="187.4"/>
<line x1="138.4" y1="213.5" x2="138.4" y2="223.6"/>
<line x1="144.4" y1="173.8" x2="144.4" y2="186.1"/>
<line x1="144.4" y1="214.8" x2="144.4" y2="225.6"/>
<line x1="150.3" y1="172.8" x2="150.3" y2="185.8"/>
<line x1="150.3" y1="215.1" x2="150.3" y2="226.6"/>
<line x1="156.3" y1="172.6" x2="156.3" y2="186.9"/>
<line x1="156.3" y1="213.2" x2="156.3" y2="226.2"/>
<line x1="162.3" y1="172.6" x2="162.3" y2="186.9"/>
<line x1="162.3" y1="213.2" x2="162.3" y2="226.2"/>
<line x1="168.2" y1="172.6" x2="168.2" y2="186.9"/>
<line x1="168.2" y1="213.2" x2="168.2" y2="226.2"/>
<line x1="174.2" y1="172.6" x2="174.2" y2="186.9"/>
<line x1="174.2" y1="213.2" x2="174.2" y2="226.2"/>
<line x1="180.2" y1="172.6" x2="180.2" y2="186.9"/>
<line x1="180.2" y1="213.2" x2="180.2" y2="226.2"/>
<line x1="186.2" y1="172.6" x2="186.2" y2="186.9"/>
<line x1="186.2" y1="213.2" x2="186.2" y2="226.2"/>
<line x1="192.1" y1="172.6" x2="192.1" y2="186.9"/>
<line x1="192.1" y1="213.2" x2="192.1" y2="226.2"/>
<line x1="198.1" y1="172.6" x2="198.1" y2="186.9"/>
<line x1="198.1" y1="213.2" x2="198.1" y2="226.2"/>
<line x1="204.1" y1="172.6" x2="204.1" y2="186.9"/>
<line x1="204.1" y1="213.2" x2="204.1" y2="226.2"/>
<line x1="210.0" y1="172.6" x2="210.0" y2="186.9"/>
<line x1="210.0" y1="213.2" x2="210.0" y2="226.2"/>
<line x1="216.0" y1="172.6" x2="216.0" y2="186.9"/>
<line x1="216.0" y1="213.2" x2="216.0" y2="226.2"/>
<line x1="222.0" y1="172.6" x2="222.0" y2="186.9"/>
<line x1="222.0" y1="213.2" x2="222.0" y2="226.2"/>
<line x1="227.9" y1="172.6" x2="227.9" y2="186.9"/>
<line x1="227.9" y1="213.2" x2="227.9" y2="226.2"/>
<line x1="233.9" y1="172.6" x2="233.9" y2="186.9"/>
<line x1="233.9" y1="213.2" x2="233.9" y2="226.2"/>
<line x1="239.9" y1="172.6" x2="239.9" y2="186.9"/>
<line x1="239.9" y1="213.2" x2="239.9" y2="226.2"/>
<line x1="245.8" y1="172.6" x2="245.8" y2="186.9"/>
<line x1="245.8" y1="213.2" x2="245.8" y2="226.2"/>
<line x1="251.8" y1="172.6" x2="251.8" y2="186.9"/>
<line x1="251.8" y1="213.2" x2="251.8" y2="226.2"/>
<line x1="257.8" y1="172.6" x2="257.8" y2="186.9"/>
<line x1="257.8" y1="213.2" x2="257.8" y2="226.2"/>
<line x1="263.8" y1="172.6" x2="263.8" y2="186.9"/>
<line x1="263.8" y1="213.2" x2="263.8" y2="226.2"/>
<line x1="269.7" y1="172.6" x2="269.7" y2="186.9"/>
<line x1="269.7" y1="213.2" x2="269.7" y2="226.2"/>
<line x1="275.7" y1="172.6" x2="275.7" y2="186.9"/>
<line x1="275.7" y1="213.2" x2="275.7" y2="226.2"/>
<line x1="281.7" y1="172.6" x2="281.7" y2="186.9"/>
<line x1="281.7" y1="213.2" x2="281.7" y2="226.2"/>
<line x1="287.6" y1="172.6" x2="287.6" y2="186.9"/>
<line x1="287.6" y1="213.2" x2="287.6" y2="226.2"/>
<line x1="293.6" y1="172.6" x2="293.6" y2="186.9"/>
<line x1="293.6" y1="213.2" x2="293.6" y2="226.2"/>
<line x1="299.6" y1="172.6" x2="299.6" y2="186.9"/>
<line x1="299.6" y1="213.2" x2="299.6" y2="226.2"/>
<line x1="305.6" y1="172.6" x2="305.6" y2="185.9"/>
<line x1="305.6" y1="215.0" x2="305.6" y2="226.8"/>
<line x1="311.5" y1="173.7" x2="311.5" y2="186.1"/>
<line x1="311.5" y1="214.8" x2="311.5" y2="225.7"/>
<line x1="317.5" y1="176.5" x2="317.5" y2="188.0"/>
<line x1="317.5" y1="212.9" x2="317.5" y2="222.9"/>
<line x1="323.5" y1="181.4" x2="323.5" y2="192.1"/>
<line x1="323.5" y1="208.8" x2="323.5" y2="218.0"/>
<line x1="329.4" y1="191.7" x2="329.4" y2="198.0"/>
<line x1="329.4" y1="202.0" x2="329.4" y2="207.7"/>
</g>
<path d="M154.5,170.6 C135,170.6 119.6,181 119.6,199.6 C119.6,218.5 135,228.4 154.5,228.4" fill="none" stroke="#1b62b3" stroke-width="3.6" />
<path d="M303,170.6 C319,170.6 331.2,183 331.2,200 C331.2,217 319,228.4 303,228.4" fill="none" stroke="#1b62b3" stroke-width="3.6" />
<rect x="154.20" y="168.00" width="149.40" height="5.00" fill="#15236e" stroke="none" stroke-width="1" rx="0" />
<rect x="154.20" y="225.80" width="149.40" height="5.00" fill="#15236e" stroke="none" stroke-width="1" rx="0" />
<rect x="273.80" y="168.00" width="18.00" height="5.00" fill="#f7a13a" stroke="none" stroke-width="1" rx="0" />
<rect x="273.80" y="225.80" width="18.00" height="5.00" fill="#f7a13a" stroke="none" stroke-width="1" rx="0" />
<g stroke="#ee3b24" stroke-width="2.4">
<line x1="156.3" y1="187.8" x2="156.3" y2="200.3"/>
<line x1="162.3" y1="187.8" x2="162.3" y2="200.3"/>
<line x1="168.2" y1="187.8" x2="168.2" y2="200.3"/>
<line x1="174.2" y1="187.8" x2="174.2" y2="200.3"/>
<line x1="180.2" y1="187.8" x2="180.2" y2="200.3"/>
<line x1="186.2" y1="187.8" x2="186.2" y2="200.3"/>
<line x1="192.1" y1="187.8" x2="192.1" y2="200.3"/>
<line x1="198.1" y1="187.8" x2="198.1" y2="200.3"/>
<line x1="204.1" y1="187.8" x2="204.1" y2="200.3"/>
<line x1="210.0" y1="187.8" x2="210.0" y2="200.3"/>
<line x1="216.0" y1="187.8" x2="216.0" y2="200.3"/>
<line x1="222.0" y1="187.8" x2="222.0" y2="200.3"/>
<line x1="227.9" y1="187.8" x2="227.9" y2="200.3"/>
<line x1="233.9" y1="187.8" x2="233.9" y2="200.3"/>
<line x1="239.9" y1="187.8" x2="239.9" y2="200.3"/>
<line x1="245.8" y1="187.8" x2="245.8" y2="200.3"/>
<line x1="251.8" y1="187.8" x2="251.8" y2="200.3"/>
<line x1="257.8" y1="187.8" x2="257.8" y2="200.3"/>
<line x1="263.8" y1="187.8" x2="263.8" y2="200.3"/>
<line x1="269.7" y1="187.8" x2="269.7" y2="200.3"/>
</g>
<path d="M154.2,200.3 L291,200.3 C296.3,200.3 299.2,197.3 299.2,192 L299.2,104 C299.6,95 306,89.8 314.3,89.8 C323,89.8 329,95 329,104 L329,148 C329,160 336,167.2 346,167.2 C356,167.2 363,160 363.8,151.5" fill="none" stroke="#ee3b24" stroke-width="3.0" stroke-linecap="butt"/>
<g stroke-width="2.2">
<line x1="301" y1="104.00" x2="313" y2="104.00" stroke="#ee3b24"/><line x1="315.8" y1="104.00" x2="327.6" y2="104.00" stroke="#ee3b24"/>
<line x1="301" y1="109.42" x2="313" y2="109.42" stroke="#d84a3a"/><line x1="315.8" y1="109.42" x2="327.6" y2="109.42" stroke="#d84a3a"/>
<line x1="301" y1="114.84" x2="313" y2="114.84" stroke="#ee3b24"/><line x1="315.8" y1="114.84" x2="327.6" y2="114.84" stroke="#ee3b24"/>
<line x1="301" y1="120.26" x2="313" y2="120.26" stroke="#d84a3a"/><line x1="315.8" y1="120.26" x2="327.6" y2="120.26" stroke="#d84a3a"/>
<line x1="301" y1="125.68" x2="313" y2="125.68" stroke="#ee3b24"/><line x1="315.8" y1="125.68" x2="327.6" y2="125.68" stroke="#ee3b24"/>
<line x1="301" y1="131.10" x2="313" y2="131.10" stroke="#d84a3a"/><line x1="315.8" y1="131.10" x2="327.6" y2="131.10" stroke="#d84a3a"/>
<line x1="301" y1="136.52" x2="313" y2="136.52" stroke="#ee3b24"/><line x1="315.8" y1="136.52" x2="327.6" y2="136.52" stroke="#ee3b24"/>
<line x1="301" y1="141.94" x2="313" y2="141.94" stroke="#d84a3a"/><line x1="315.8" y1="141.94" x2="327.6" y2="141.94" stroke="#d84a3a"/>
<line x1="301" y1="147.36" x2="313" y2="147.36" stroke="#ee3b24"/><line x1="315.8" y1="147.36" x2="327.6" y2="147.36" stroke="#ee3b24"/>
<line x1="301" y1="152.78" x2="313" y2="152.78" stroke="#d84a3a"/><line x1="315.8" y1="152.78" x2="327.6" y2="152.78" stroke="#d84a3a"/>
</g>
<text x="273.8" y="211.4" font-size="7.4" fill="#505050" text-anchor="start" font-weight="bold" font-style="normal" textLength="19.0" lengthAdjust="spacingAndGlyphs"  xml:space="preserve">NGG</text>
<g transform="translate(247.0,161.2) rotate(129.3) scale(1.25)" fill="none" stroke="#7d8e9b" stroke-width="0.8">
<ellipse cx="-3" cy="9" rx="2.6" ry="3.6" transform="rotate(-15 -3 9)"/><ellipse cx="3" cy="9" rx="2.6" ry="3.6" transform="rotate(15 3 9)"/>
<path d="M-2,5.5 L1.2,-12 M2,5.5 L-1.2,-12" stroke-width="1.3"/>
</g>
<g transform="translate(269.4,236.2) rotate(-56.9) scale(1.30)" fill="none" stroke="#7d8e9b" stroke-width="0.8">
<ellipse cx="-3" cy="9" rx="2.6" ry="3.6" transform="rotate(-15 -3 9)"/><ellipse cx="3" cy="9" rx="2.6" ry="3.6" transform="rotate(15 3 9)"/>
<path d="M-2,5.5 L1.2,-12 M2,5.5 L-1.2,-12" stroke-width="1.3"/>
</g>
<rect x="36.30" y="38.90" width="212.80" height="61.60" fill="#ffffff" stroke="#8d97d3" stroke-width="1.1" rx="0" />
<text x="40.0" y="50.8" font-size="10.8" fill="#2f2f2f" text-anchor="start" font-weight="bold" font-style="normal" textLength="196.8" lengthAdjust="spacingAndGlyphs"  xml:space="preserve">La secuencia diana o protoespaciador</text>
<text x="40.0" y="64.9" font-size="10.8" fill="#3c3c3c" text-anchor="start" font-weight="normal" font-style="normal" textLength="165.3" lengthAdjust="spacingAndGlyphs"  xml:space="preserve">es la región del ADN que se quiere</text>
<text x="40.0" y="79.0" font-size="10.8" fill="#3c3c3c" text-anchor="start" font-weight="normal" font-style="normal" textLength="194.8" lengthAdjust="spacingAndGlyphs"  xml:space="preserve">modificar y es complementaria del ARN</text>
<text x="40.0" y="92.6" font-size="10.8" fill="#3c3c3c" text-anchor="start" font-weight="normal" font-style="normal" textLength="139.5" lengthAdjust="spacingAndGlyphs"  xml:space="preserve">guía, que se aparea con ella.</text>
<line x1="197.50" y1="100.50" x2="197.50" y2="168.00" stroke="#8d97d3" stroke-width="1.1" />
<text x="191.8" y="126.8" font-size="10.8" fill="#3c3c3c" text-anchor="end" font-weight="normal" font-style="normal" textLength="50.1" lengthAdjust="spacingAndGlyphs"  xml:space="preserve">Secuencia</text>
<text x="191.8" y="141.3" font-size="10.8" fill="#3c3c3c" text-anchor="end" font-weight="normal" font-style="normal" textLength="27.8" lengthAdjust="spacingAndGlyphs"  xml:space="preserve">diana</text>
<text x="231.3" y="135.0" font-size="10.8" fill="#3c3c3c" text-anchor="start" font-weight="normal" font-style="normal" textLength="20.1" lengthAdjust="spacingAndGlyphs"  xml:space="preserve">PAM</text>
<path d="M254.8,131.5 L281.8,131.5 L281.8,168" fill="none" stroke="#5a5a5a" stroke-width="0.9" />
<text x="62.3" y="162.6" font-size="10.8" fill="#3c3c3c" text-anchor="start" font-weight="normal" font-style="normal" textLength="21.2" lengthAdjust="spacingAndGlyphs"  xml:space="preserve">ADN</text>
<line x1="73.20" y1="165.50" x2="73.20" y2="188.00" stroke="#6a6a6a" stroke-width="0.9" />
<rect x="376.50" y="38.90" width="108.30" height="48.10" fill="#ffffff" stroke="#ee8273" stroke-width="1.2" rx="0" />
<text x="383.1" y="50.8" font-size="10.8" fill="#2f2f2f" text-anchor="start" font-weight="bold" font-style="normal" textLength="32.9" lengthAdjust="spacingAndGlyphs"  xml:space="preserve">sgARN</text>
<text x="383.1" y="65.3" font-size="10.8" fill="#3c3c3c" text-anchor="start" font-weight="normal" font-style="italic" textLength="95.1" lengthAdjust="spacingAndGlyphs"  xml:space="preserve">(single-guided RNA)</text>
<text x="383.1" y="79.3" font-size="10.8" fill="#3c3c3c" text-anchor="start" font-weight="normal" font-style="normal" textLength="55.0" lengthAdjust="spacingAndGlyphs"  xml:space="preserve">o <tspan font-weight="bold" fill="#2f2f2f">ARN guía</tspan></text>
<path d="M376.5,63.5 L314.4,63.5 L314.4,88.4" fill="none" stroke="#f08878" stroke-width="1.0" />
<rect x="394.00" y="94.70" width="35.50" height="22.90" fill="#ffffff" stroke="#6cb84a" stroke-width="1.5" rx="0" />
<text x="398.9" y="110.6" font-size="10.8" fill="#3c3c3c" text-anchor="start" font-weight="normal" font-style="normal" textLength="23.5" lengthAdjust="spacingAndGlyphs"  xml:space="preserve">Cas9</text>
<line x1="378.50" y1="105.60" x2="394.00" y2="105.60" stroke="#6cb84a" stroke-width="1.4" />
<rect x="59.90" y="258.20" width="337.50" height="48.80" fill="#fff9f3" stroke="#f5b27c" stroke-width="1.2" rx="0" />
<text x="68.8" y="272.6" font-size="10.3" fill="#3c3c3c" text-anchor="start" font-weight="normal" font-style="normal" textLength="315.2" lengthAdjust="spacingAndGlyphs"  xml:space="preserve">En la secuencia NGG, cualquier nucleótido (N)-G-G se encuentra</text>
<text x="68.8" y="287.0" font-size="10.3" fill="#3c3c3c" text-anchor="start" font-weight="normal" font-style="normal" textLength="317.4" lengthAdjust="spacingAndGlyphs"  xml:space="preserve">siempre al lado de la secuencia diana y recibe el nombre de PAM</text>
<text x="68.8" y="301.3" font-size="10.3" fill="#3c3c3c" text-anchor="start" font-weight="normal" font-style="normal" textLength="199.5" lengthAdjust="spacingAndGlyphs"  xml:space="preserve">(motivo adyacente de protoespaciador).</text>
<rect x="523.5" y="52" width="275" height="245" rx="9" fill="#8f8f8f" opacity="0.62" filter="url(#sh)"/>
<rect x="522.80" y="48.80" width="275.50" height="244.50" fill="#fdf0ea" stroke="none" stroke-width="1" rx="9" />
<text x="534.8" y="67.5" font-size="13" fill="#2d2d2d" text-anchor="start" font-weight="bold" font-style="normal" textLength="182.5" lengthAdjust="spacingAndGlyphs"  xml:space="preserve">Aplicaciones de CRISPR-Cas</text>
<text x="531.9" y="92.6" font-size="12.8" fill="#3c3c3c" text-anchor="start" font-weight="normal" font-style="normal" textLength="257.2" lengthAdjust="spacingAndGlyphs"  xml:space="preserve">Entre las aplicaciones presentes y futuras</text>
<text x="531.9" y="109.7" font-size="12.8" fill="#3c3c3c" text-anchor="start" font-weight="normal" font-style="normal" textLength="38.3" lengthAdjust="spacingAndGlyphs"  xml:space="preserve">están:</text>
<circle cx="534.6" cy="129.8" r="2.2" fill="#3c3c3c"/>
<text x="543.9" y="133.8" font-size="12.8" fill="#3c3c3c" text-anchor="start" font-weight="normal" font-style="normal" textLength="245.2" lengthAdjust="spacingAndGlyphs"  xml:space="preserve">Obtener células madre con diferentes</text>
<text x="543.9" y="151.2" font-size="12.8" fill="#3c3c3c" text-anchor="start" font-weight="normal" font-style="normal" textLength="94.5" lengthAdjust="spacingAndGlyphs"  xml:space="preserve">características.</text>
<circle cx="534.6" cy="171.7" r="2.2" fill="#3c3c3c"/>
<text x="543.9" y="175.7" font-size="12.8" fill="#3c3c3c" text-anchor="start" font-weight="normal" font-style="normal" textLength="245.2" lengthAdjust="spacingAndGlyphs"  xml:space="preserve">Animales y plantas modificados genéti-</text>
<text x="543.9" y="192.6" font-size="12.8" fill="#3c3c3c" text-anchor="start" font-weight="normal" font-style="normal" textLength="245.2" lengthAdjust="spacingAndGlyphs"  xml:space="preserve">camente destinados a la investigación</text>
<text x="543.9" y="209.3" font-size="12.8" fill="#3c3c3c" text-anchor="start" font-weight="normal" font-style="normal" textLength="196.7" lengthAdjust="spacingAndGlyphs"  xml:space="preserve">o a la industria agroalimentaria.</text>
<circle cx="534.6" cy="230.6" r="2.2" fill="#3c3c3c"/>
<text x="543.9" y="234.6" font-size="12.8" fill="#3c3c3c" text-anchor="start" font-weight="normal" font-style="normal" textLength="244.1" lengthAdjust="spacingAndGlyphs"  xml:space="preserve">Eliminación de mutaciones en embriones.</text>
<circle cx="534.6" cy="256.0" r="2.2" fill="#3c3c3c"/>
<text x="543.9" y="260.0" font-size="12.8" fill="#3c3c3c" text-anchor="start" font-weight="normal" font-style="normal" textLength="199.6" lengthAdjust="spacingAndGlyphs"  xml:space="preserve">Producción de nuevos fármacos.</text>
<circle cx="534.6" cy="280.2" r="2.2" fill="#3c3c3c"/>
<text x="543.9" y="284.2" font-size="12.8" fill="#3c3c3c" text-anchor="start" font-weight="normal" font-style="normal" textLength="244.1" lengthAdjust="spacingAndGlyphs"  xml:space="preserve">Tratamiento de enfermedades humanas.</text>
<rect x="2.00" y="349.40" width="344.80" height="17.40" fill="#fcd8c4" stroke="none" stroke-width="1" rx="0" />
<text x="48.0" y="360.9" font-size="12.4" fill="#2d2d2d" text-anchor="start" font-weight="bold" font-style="normal" textLength="241.5" lengthAdjust="spacingAndGlyphs"  xml:space="preserve">Edición de un gen mediante CRISPR-Cas9</text>
<rect x="2.00" y="381.00" width="159.60" height="80.00" fill="#d9efe3" stroke="none" stroke-width="1" rx="0" />
<rect x="2.00" y="466.00" width="159.60" height="81.00" fill="#d9efe3" stroke="none" stroke-width="1" rx="0" />
<rect x="2.00" y="550.60" width="159.60" height="80.40" fill="#d9efe3" stroke="none" stroke-width="1" rx="0" />
<rect x="2.00" y="634.70" width="159.60" height="80.00" fill="#d9efe3" stroke="none" stroke-width="1" rx="0" />
<rect x="2.00" y="719.80" width="159.60" height="69.50" fill="#bfe3cd" stroke="none" stroke-width="1" rx="0" />
<rect x="19.40" y="386.80" width="95.90" height="17.20" fill="#e6f3e6" stroke="#f5a24b" stroke-width="1.4" rx="0" />
<text x="24.2" y="399.8" font-size="11" fill="#f6a443" text-anchor="start" font-weight="bold" font-style="normal" textLength="84.6" lengthAdjust="spacingAndGlyphs" stroke="#f6a443" stroke-width="0.35" xml:space="preserve">Secuencia diana</text>
<text x="54.8" y="414.2" font-size="11" fill="#2b8fd0" text-anchor="start" font-weight="bold" font-style="normal" textLength="7.0" lengthAdjust="spacingAndGlyphs" stroke="#2b8fd0" stroke-width="0.3" xml:space="preserve">A</text>
<line x1="66.30" y1="404.60" x2="66.30" y2="413.50" stroke="#f5923a" stroke-width="1.2" />
<path d="M62.8,412.8 L69.8,412.8 L66.3,417.3 Z" fill="#f5923a" stroke="none" stroke-width="1" />
<line x1="3.70" y1="421.60" x2="159.40" y2="421.60" stroke="#1fa9e8" stroke-width="2.8" />
<line x1="45.30" y1="421.60" x2="78.50" y2="421.60" stroke="#f7aa4d" stroke-width="2.8" />
<line x1="3.70" y1="426.20" x2="159.40" y2="426.20" stroke="#1fa9e8" stroke-width="2.8" />
<line x1="45.30" y1="426.20" x2="78.50" y2="426.20" stroke="#f7aa4d" stroke-width="2.8" />
<line x1="30.90" y1="437.60" x2="30.90" y2="432.00" stroke="#2b8fd0" stroke-width="1.3" />
<path d="M27.6,433 L34.2,433 L30.9,428.8 Z" fill="#2b8fd0" stroke="none" stroke-width="1" />
<text x="20.4" y="446.6" font-size="11" fill="#2b8fd0" text-anchor="start" font-weight="bold" font-style="normal" textLength="21.9" lengthAdjust="spacingAndGlyphs" stroke="#2b8fd0" stroke-width="0.3" xml:space="preserve">ADN</text>
<line x1="3.40" y1="505.00" x2="39.65" y2="505.00" stroke="#1fa9e8" stroke-width="2.7" />
<line x1="91.45" y1="505.00" x2="159.20" y2="505.00" stroke="#1fa9e8" stroke-width="2.7" />
<line x1="3.40" y1="509.60" x2="39.65" y2="509.60" stroke="#1fa9e8" stroke-width="2.7" />
<line x1="91.45" y1="509.60" x2="159.20" y2="509.60" stroke="#1fa9e8" stroke-width="2.7" />
<path d="M49.30,496.70 L81.80,496.70 A10.25,10.25 0 0 1 81.80,517.20 L49.30,517.20 A10.25,10.25 0 0 1 49.30,496.70 Z" fill="none" stroke="#1fa9e8" stroke-width="2.6" />
<path d="M81.80,502.20 C88,502.20 90.5,500.30 92.5,494.30 C95.5,483.30 96,479.10 100,479.10 C104.5,479.10 103,493.90 108,493.90 L114,494.10" fill="none" stroke="#1fa9e8" stroke-width="2.5" stroke-linecap="round"/>
<line x1="49.30" y1="496.70" x2="81.80" y2="496.70" stroke="#f7aa4d" stroke-width="2.5" />
<line x1="49.30" y1="517.20" x2="81.80" y2="517.20" stroke="#f7aa4d" stroke-width="2.5" />
<line x1="49.30" y1="502.20" x2="81.80" y2="502.20" stroke="#f7aa4d" stroke-width="2.5" />
<text x="26.2" y="486.0" font-size="11" fill="#2b8fd0" text-anchor="start" font-weight="bold" font-style="normal" textLength="47.3" lengthAdjust="spacingAndGlyphs" stroke="#2b8fd0" stroke-width="0.3" xml:space="preserve">ARN guía</text>
<line x1="74.70" y1="482.70" x2="90.00" y2="482.70" stroke="#f5923a" stroke-width="1.2" />
<path d="M89.3,479.3 L89.3,486.1 L93.6,482.7 Z" fill="#f5923a" stroke="none" stroke-width="1" />
<text x="111.3" y="487.2" font-size="11" fill="#2b8fd0" text-anchor="start" font-weight="bold" font-style="normal" textLength="5.9" lengthAdjust="spacingAndGlyphs" stroke="#2b8fd0" stroke-width="0.3" xml:space="preserve">C</text>
<ellipse cx="68.4" cy="589.8" rx="45.5" ry="30" fill="#a4e0f8" filter="url(#blur2)"/>
<line x1="3.40" y1="597.70" x2="39.65" y2="597.70" stroke="#1fa9e8" stroke-width="2.7" />
<line x1="91.45" y1="597.70" x2="159.20" y2="597.70" stroke="#1fa9e8" stroke-width="2.7" />
<line x1="3.40" y1="602.30" x2="39.65" y2="602.30" stroke="#1fa9e8" stroke-width="2.7" />
<line x1="91.45" y1="602.30" x2="159.20" y2="602.30" stroke="#1fa9e8" stroke-width="2.7" />
<path d="M49.30,589.40 L81.80,589.40 A10.25,10.25 0 0 1 81.80,609.90 L49.30,609.90 A10.25,10.25 0 0 1 49.30,589.40 Z" fill="none" stroke="#1fa9e8" stroke-width="2.6" />
<path d="M81.80,594.90 C88,594.90 90.5,593.00 92.5,587.00 C95.5,576.00 96,571.80 100,571.80 C104.5,571.80 103,586.60 108,586.60 L114,586.80" fill="none" stroke="#1fa9e8" stroke-width="2.5" stroke-linecap="round"/>
<line x1="49.30" y1="589.40" x2="81.80" y2="589.40" stroke="#f7aa4d" stroke-width="2.5" />
<line x1="49.30" y1="609.90" x2="81.80" y2="609.90" stroke="#f7aa4d" stroke-width="2.5" />
<line x1="49.30" y1="594.90" x2="81.80" y2="594.90" stroke="#f7aa4d" stroke-width="2.5" />
<text x="40.3" y="568.5" font-size="11" fill="#2b8fd0" text-anchor="start" font-weight="bold" font-style="normal" textLength="26.5" lengthAdjust="spacingAndGlyphs" stroke="#2b8fd0" stroke-width="0.3" xml:space="preserve">Cas9</text>
<text x="16.1" y="581.3" font-size="11" fill="#2b8fd0" text-anchor="start" font-weight="bold" font-style="normal" textLength="6.9" lengthAdjust="spacingAndGlyphs" stroke="#2b8fd0" stroke-width="0.3" xml:space="preserve">D</text>
<g transform="translate(67.4,571.6) rotate(45.2) scale(1.16)" fill="none" stroke="#3f4a55" stroke-width="0.8">
<ellipse cx="-3" cy="9" rx="2.6" ry="3.6" transform="rotate(-15 -3 9)"/><ellipse cx="3" cy="9" rx="2.6" ry="3.6" transform="rotate(15 3 9)"/>
<path d="M-2,5.5 L1.2,-12 M2,5.5 L-1.2,-12" stroke-width="1.3"/>
</g>
<clipPath id="p4"><rect x="2" y="634.7" width="159.6" height="80"/></clipPath>
<g clip-path="url(#p4)"><ellipse cx="68.4" cy="670.5" rx="45.5" ry="30.5" fill="#a4e0f8" filter="url(#blur2)"/></g>
<line x1="3.40" y1="677.20" x2="39.65" y2="677.20" stroke="#1fa9e8" stroke-width="2.7" />
<line x1="91.45" y1="677.20" x2="159.20" y2="677.20" stroke="#1fa9e8" stroke-width="2.7" />
<line x1="3.40" y1="681.80" x2="39.65" y2="681.80" stroke="#1fa9e8" stroke-width="2.7" />
<line x1="91.45" y1="681.80" x2="159.20" y2="681.80" stroke="#1fa9e8" stroke-width="2.7" />
<path d="M49.30,668.90 L81.80,668.90 A10.25,10.25 0 0 1 81.80,689.40 L49.30,689.40 A10.25,10.25 0 0 1 49.30,668.90 Z" fill="none" stroke="#1fa9e8" stroke-width="2.6" />
<path d="M81.80,674.40 C88,674.40 90.5,672.50 92.5,666.50 C95.5,655.50 96,651.30 100,651.30 C104.5,651.30 103,666.10 108,666.10 L114,666.30" fill="none" stroke="#1fa9e8" stroke-width="2.5" stroke-linecap="round"/>
<line x1="49.30" y1="668.90" x2="67.20" y2="668.90" stroke="#f7aa4d" stroke-width="2.5" />
<line x1="72.20" y1="668.90" x2="81.80" y2="668.90" stroke="#f7aa4d" stroke-width="2.5" />
<line x1="67.20" y1="668.90" x2="72.20" y2="668.90" stroke="#bfe9f8" stroke-width="2.7" />
<line x1="49.30" y1="689.40" x2="67.20" y2="689.40" stroke="#f7aa4d" stroke-width="2.5" />
<line x1="72.20" y1="689.40" x2="81.80" y2="689.40" stroke="#f7aa4d" stroke-width="2.5" />
<line x1="67.20" y1="689.40" x2="72.20" y2="689.40" stroke="#bfe9f8" stroke-width="2.7" />
<line x1="49.30" y1="674.40" x2="81.80" y2="674.40" stroke="#f7aa4d" stroke-width="2.5" />
<g transform="translate(66.9,652.5) rotate(46.3) scale(1.20)" fill="none" stroke="#3f4a55" stroke-width="0.8">
<ellipse cx="-3" cy="9" rx="2.6" ry="3.6" transform="rotate(-15 -3 9)"/><ellipse cx="3" cy="9" rx="2.6" ry="3.6" transform="rotate(15 3 9)"/>
<path d="M-2,5.5 L1.2,-12 M2,5.5 L-1.2,-12" stroke-width="1.3"/>
</g>
<text x="62.8" y="741.1" font-size="10.5" fill="#333" text-anchor="start" font-weight="bold" font-style="normal" textLength="6.7" lengthAdjust="spacingAndGlyphs"  xml:space="preserve">E</text>
<line x1="4.00" y1="747.20" x2="159.20" y2="747.20" stroke="#1fa9e8" stroke-width="2.8" />
<rect x="46" y="745.90" width="30.2" height="2.6" fill="url(#ng)"/>
<line x1="4.00" y1="752.10" x2="159.20" y2="752.10" stroke="#1fa9e8" stroke-width="2.8" />
<rect x="46" y="750.80" width="30.2" height="2.6" fill="url(#ng)"/>
<line x1="76.40" y1="745.60" x2="76.40" y2="748.80" stroke="#333" stroke-width="1" />
<line x1="76.40" y1="750.60" x2="76.40" y2="753.70" stroke="#333" stroke-width="1" />
<line x1="65.70" y1="761.00" x2="65.70" y2="757.00" stroke="#f5923a" stroke-width="1.2" />
<path d="M62.6,757.8 L68.8,757.8 L65.7,754 Z" fill="#f5923a" stroke="none" stroke-width="1" />
<rect x="8.80" y="763.60" width="150.60" height="17.40" fill="none" stroke="#f5a24b" stroke-width="1.4" rx="0" />
<text x="22.4" y="775.6" font-size="11" fill="#f6a443" text-anchor="start" font-weight="bold" font-style="normal" textLength="128.2" lengthAdjust="spacingAndGlyphs" stroke="#f6a443" stroke-width="0.35" xml:space="preserve">Nueva secuencia de ADN</text>
<rect x="170.50" y="380.30" width="176.00" height="51.90" fill="#fff" stroke="#888888" stroke-width="1.1" rx="0" />
<text x="179.4" y="393.0" font-size="12" fill="#444444" text-anchor="start" font-weight="normal" font-style="normal" textLength="152.0" lengthAdjust="spacingAndGlyphs"  xml:space="preserve">Se parte de una secuencia</text>
<text x="179.4" y="408.5" font-size="12" fill="#444444" text-anchor="start" font-weight="normal" font-style="normal" textLength="126.3" lengthAdjust="spacingAndGlyphs"  xml:space="preserve">diana conocida que se</text>
<text x="179.4" y="424.0" font-size="12" fill="#444444" text-anchor="start" font-weight="normal" font-style="normal" textLength="92.6" lengthAdjust="spacingAndGlyphs"  xml:space="preserve">desea modificar.</text>
<rect x="170.50" y="476.20" width="176.30" height="36.10" fill="#fff" stroke="#888888" stroke-width="1.1" rx="0" />
<text x="177.9" y="490.4" font-size="12" fill="#444444" text-anchor="start" font-weight="normal" font-style="normal" textLength="160.9" lengthAdjust="spacingAndGlyphs"  xml:space="preserve">1. El <tspan font-weight="bold" fill="#222222">ARN guía</tspan> se une a una</text>
<text x="193.6" y="506.1" font-size="12" fill="#444444" text-anchor="start" font-weight="normal" font-style="normal" textLength="139.5" lengthAdjust="spacingAndGlyphs"  xml:space="preserve">secuencia de ADN diana.</text>
<rect x="170.50" y="563.20" width="176.30" height="35.40" fill="#fff" stroke="#888888" stroke-width="1.1" rx="0" />
<text x="177.9" y="576.2" font-size="12" fill="#444444" text-anchor="start" font-weight="normal" font-style="normal" textLength="161.9" lengthAdjust="spacingAndGlyphs"  xml:space="preserve">2. La enzima <tspan font-weight="bold" fill="#222222">Cas9</tspan> se une al</text>
<text x="193.6" y="591.9" font-size="12" fill="#444444" text-anchor="start" font-weight="normal" font-style="normal" textLength="56.6" lengthAdjust="spacingAndGlyphs"  xml:space="preserve"><tspan font-weight="bold" fill="#222222">ARN guía</tspan>.</text>
<rect x="170.50" y="631.70" width="176.30" height="32.90" fill="#fff" stroke="#888888" stroke-width="1.1" rx="0" />
<text x="177.9" y="643.9" font-size="12" fill="#444444" text-anchor="start" font-weight="normal" font-style="normal" textLength="139.5" lengthAdjust="spacingAndGlyphs"  xml:space="preserve">3. La enzima <tspan font-weight="bold" fill="#222222">Cas9</tspan> corta</text>
<text x="193.6" y="659.1" font-size="12" fill="#444444" text-anchor="start" font-weight="normal" font-style="normal" textLength="140.7" lengthAdjust="spacingAndGlyphs"  xml:space="preserve">ambas cadenas de <tspan font-weight="bold" fill="#222222">ADN.</tspan></text>
<rect x="170.70" y="689.60" width="176.20" height="99.40" fill="#fff" stroke="#888888" stroke-width="1.1" rx="0" />
<text x="179.4" y="703.2" font-size="12" fill="#444444" text-anchor="start" font-weight="normal" font-style="normal" textLength="112.4" lengthAdjust="spacingAndGlyphs"  xml:space="preserve">4. El mecanismo de</text>
<text x="195.0" y="719.5" font-size="12" fill="#444444" text-anchor="start" font-weight="normal" font-style="normal" textLength="139.9" lengthAdjust="spacingAndGlyphs"  xml:space="preserve">reparación de la bacteria</text>
<text x="195.0" y="735.7" font-size="12" fill="#444444" text-anchor="start" font-weight="normal" font-style="normal" textLength="136.0" lengthAdjust="spacingAndGlyphs"  xml:space="preserve">introduce un nuevo ADN</text>
<text x="195.0" y="751.8" font-size="12" fill="#444444" text-anchor="start" font-weight="normal" font-style="normal" textLength="109.1" lengthAdjust="spacingAndGlyphs"  xml:space="preserve">en las hebras rotas,</text>
<text x="195.0" y="767.0" font-size="12" fill="#444444" text-anchor="start" font-weight="normal" font-style="normal" textLength="140.8" lengthAdjust="spacingAndGlyphs"  xml:space="preserve">reemplazando la secuen-</text>
<text x="195.0" y="782.8" font-size="12" fill="#444444" text-anchor="start" font-weight="normal" font-style="normal" textLength="110.7" lengthAdjust="spacingAndGlyphs"  xml:space="preserve">cia original de ADN.</text>
<use href="#conn" transform="translate(0.8,1.6)" opacity="0.28" filter="url(#blur1)" style="filter:url(#blur1) grayscale(1)"/>
<g id="conn">
<path d="M361,736.5 L395.6,736.5 L395.6,362.2 L431,362.2" fill="none" stroke="#2d82c4" stroke-width="3.0" stroke-linejoin="miter"/>
<path d="M354.0,736.5 L363.4,731.8 L363.4,741.2 Z" fill="#2d82c4" stroke="none" stroke-width="1" />
<path d="M437.6,362.2 L428.2,357.5 L428.2,366.9 Z" fill="#2d82c4" stroke="none" stroke-width="1" />
</g>
<rect x="464.50" y="346.90" width="275.50" height="21.00" fill="#fccd93" stroke="#8a8a8a" stroke-width="1.2" rx="0" />
<text x="499.7" y="361.9" font-size="12.4" fill="#2d2d2d" text-anchor="start" font-weight="bold" font-style="normal" textLength="205.5" lengthAdjust="spacingAndGlyphs"  xml:space="preserve">Mecanismos de reparación del ADN</text>
<line x1="605.20" y1="374.20" x2="605.20" y2="401.70" stroke="#2a2a2a" stroke-width="3.0" />
<path d="M597.00,400.70 L613.40,400.70 L605.20,409.90 Z" fill="#2a2a2a" stroke="none" stroke-width="1" />
<text x="620.8" y="389.3" font-size="12" fill="#444444" text-anchor="start" font-weight="normal" font-style="normal" textLength="89.9" lengthAdjust="spacingAndGlyphs"  xml:space="preserve">Rotura de doble</text>
<text x="618.4" y="405.8" font-size="12" fill="#444444" text-anchor="start" font-weight="normal" font-style="normal" textLength="96.4" lengthAdjust="spacingAndGlyphs"  xml:space="preserve">cadena por Cas9</text>
<text x="474.0" y="440.9" font-size="12" fill="#2d2d2d" text-anchor="start" font-weight="bold" font-style="normal" textLength="24.6" lengthAdjust="spacingAndGlyphs"  xml:space="preserve">ADN</text>
<path d="M510.20,424.64 L510.69,425.11 L511.18,425.77 L511.67,426.60 L512.16,427.59 L512.65,428.71 L513.15,429.95 L513.64,431.27 L514.13,432.65 L514.62,433.95 L515.11,432.54 L515.60,431.17 L516.09,429.85 L516.58,428.62 L517.07,427.51 L517.56,426.53 L518.05,425.72 L518.55,425.07 L519.04,424.62 L519.53,424.36 L520.02,424.31 L520.51,424.46 L521.00,424.81 L521.49,425.36 L521.98,426.09 L522.47,426.99 L522.96,428.03 L523.45,429.20 L523.95,430.48 L524.44,431.82 L524.93,433.22 L525.42,433.37 L525.91,431.98 L526.40,430.62 L526.89,429.34 L527.38,428.16 L527.87,427.10 L528.36,426.18 L528.85,425.43 L529.35,424.86 L529.84,424.49 L530.33,424.31 L530.82,424.34 L531.31,424.58 L531.80,425.01 L532.29,425.63 L532.78,426.43 L533.27,427.40 L533.76,428.49 L534.25,429.71 L534.75,431.02 L535.24,432.39 L535.73,433.79 L536.22,432.80 L536.71,431.42 L537.20,430.09 L537.69,428.84 L538.18,427.71 L538.67,426.70 L539.16,425.85 L539.65,425.18 L540.15,424.69 L540.64,424.39 L541.13,424.30 L541.62,424.41 L542.11,424.73 L542.60,425.24 L543.09,425.94 L543.58,426.81 L544.07,427.83 L544.56,428.98 L545.05,430.23 L545.55,431.57 L546.04,432.96 L546.53,433.63 L547.02,432.23 L547.51,430.87 L548.00,429.57 L548.00,438.43 L547.51,437.13 L547.02,435.77 L546.53,434.37 L546.04,435.04 L545.55,436.43 L545.05,437.77 L544.56,439.02 L544.07,440.17 L543.58,441.19 L543.09,442.06 L542.60,442.76 L542.11,443.27 L541.62,443.59 L541.13,443.70 L540.64,443.61 L540.15,443.31 L539.65,442.82 L539.16,442.15 L538.67,441.30 L538.18,440.29 L537.69,439.16 L537.20,437.91 L536.71,436.58 L536.22,435.20 L535.73,434.21 L535.24,435.61 L534.75,436.98 L534.25,438.29 L533.76,439.51 L533.27,440.60 L532.78,441.57 L532.29,442.37 L531.80,442.99 L531.31,443.42 L530.82,443.66 L530.33,443.69 L529.84,443.51 L529.35,443.14 L528.85,442.57 L528.36,441.82 L527.87,440.90 L527.38,439.84 L526.89,438.66 L526.40,437.38 L525.91,436.02 L525.42,434.63 L524.93,434.78 L524.44,436.18 L523.95,437.52 L523.45,438.80 L522.96,439.97 L522.47,441.01 L521.98,441.91 L521.49,442.64 L521.00,443.19 L520.51,443.54 L520.02,443.69 L519.53,443.64 L519.04,443.38 L518.55,442.93 L518.05,442.28 L517.56,441.47 L517.07,440.49 L516.58,439.38 L516.09,438.15 L515.60,436.83 L515.11,435.46 L514.62,434.05 L514.13,435.35 L513.64,436.73 L513.15,438.05 L512.65,439.29 L512.16,440.41 L511.67,441.40 L511.18,442.23 L510.69,442.89 L510.20,443.36 Z" fill="#dff4fc" stroke="none" stroke-width="1" />
<g stroke="#49c4ee" stroke-width="0.8">
<line x1="510.35" y1="425.27" x2="510.35" y2="442.73"/>
<line x1="512.25" y1="428.28" x2="512.25" y2="439.72"/>
<line x1="516.05" y1="430.46" x2="516.05" y2="437.54"/>
<line x1="517.95" y1="426.38" x2="517.95" y2="441.62"/>
<line x1="519.85" y1="424.80" x2="519.85" y2="443.20"/>
<line x1="521.75" y1="426.22" x2="521.75" y2="441.78"/>
<line x1="523.65" y1="430.20" x2="523.65" y2="437.80"/>
<line x1="527.45" y1="428.50" x2="527.45" y2="439.50"/>
<line x1="529.35" y1="425.36" x2="529.35" y2="442.64"/>
<line x1="531.25" y1="425.04" x2="531.25" y2="442.96"/>
<line x1="533.15" y1="427.64" x2="533.15" y2="440.36"/>
<line x1="538.85" y1="426.88" x2="538.85" y2="441.12"/>
<line x1="540.75" y1="424.85" x2="540.75" y2="443.15"/>
<line x1="542.65" y1="425.81" x2="542.65" y2="442.19"/>
<line x1="544.55" y1="429.44" x2="544.55" y2="438.56"/>
</g>
<path d="M510.20,443.36 L510.71,442.86 L511.22,442.17 L511.73,441.29 L512.24,440.24 L512.75,439.05 L513.26,437.74 L513.77,436.35 L514.28,434.91 L514.79,433.44 L515.31,431.99 L515.82,430.58 L516.33,429.25 L516.84,428.03 L517.35,426.95 L517.86,426.02 L518.37,425.28 L518.88,424.74 L519.39,424.41 L519.90,424.30" fill="none" stroke="#3a8fd6" stroke-width="1.6" stroke-linecap="butt"/>
<path d="M519.90,443.70 L520.40,443.59 L520.91,443.27 L521.41,442.74 L521.92,442.01 L522.42,441.11 L522.93,440.05 L523.43,438.85 L523.94,437.54 L524.44,436.16 L524.95,434.72 L525.45,433.28 L525.96,431.84 L526.46,430.46 L526.97,429.15 L527.47,427.95 L527.98,426.89 L528.48,425.99 L528.99,425.26 L529.49,424.73 L530.00,424.41 L530.50,424.30" fill="none" stroke="#3a8fd6" stroke-width="1.6" stroke-linecap="butt"/>
<path d="M530.50,443.70 L531.00,443.59 L531.51,443.27 L532.01,442.74 L532.52,442.01 L533.02,441.11 L533.53,440.05 L534.03,438.85 L534.54,437.54 L535.04,436.16 L535.55,434.72 L536.05,433.28 L536.56,431.84 L537.06,430.46 L537.57,429.15 L538.07,427.95 L538.58,426.89 L539.08,425.99 L539.59,425.26 L540.09,424.73 L540.60,424.41 L541.10,424.30" fill="none" stroke="#3a8fd6" stroke-width="1.6" stroke-linecap="butt"/>
<path d="M541.10,443.70 L541.63,443.58 L542.16,443.22 L542.69,442.64 L543.22,441.84 L543.75,440.85 L544.28,439.69 L544.82,438.39 L545.35,436.98 L545.88,435.50 L546.41,433.98 L546.94,432.46 L547.47,430.98 L548.00,429.57" fill="none" stroke="#3a8fd6" stroke-width="1.6" stroke-linecap="butt"/>
<path d="M510.20,424.64 L510.71,425.14 L511.22,425.83 L511.73,426.71 L512.24,427.76 L512.75,428.95 L513.26,430.26 L513.77,431.65 L514.28,433.09 L514.79,434.56 L515.31,436.01 L515.82,437.42 L516.33,438.75 L516.84,439.97 L517.35,441.05 L517.86,441.98 L518.37,442.72 L518.88,443.26 L519.39,443.59 L519.90,443.70" fill="none" stroke="#1d66b6" stroke-width="2.4" stroke-linecap="butt"/>
<path d="M519.90,424.30 L520.40,424.41 L520.91,424.73 L521.41,425.26 L521.92,425.99 L522.42,426.89 L522.93,427.95 L523.43,429.15 L523.94,430.46 L524.44,431.84 L524.95,433.28 L525.45,434.72 L525.96,436.16 L526.46,437.54 L526.97,438.85 L527.47,440.05 L527.98,441.11 L528.48,442.01 L528.99,442.74 L529.49,443.27 L530.00,443.59 L530.50,443.70" fill="none" stroke="#1d66b6" stroke-width="2.4" stroke-linecap="butt"/>
<path d="M530.50,424.30 L531.00,424.41 L531.51,424.73 L532.01,425.26 L532.52,425.99 L533.02,426.89 L533.53,427.95 L534.03,429.15 L534.54,430.46 L535.04,431.84 L535.55,433.28 L536.05,434.72 L536.56,436.16 L537.06,437.54 L537.57,438.85 L538.07,440.05 L538.58,441.11 L539.08,442.01 L539.59,442.74 L540.09,443.27 L540.60,443.59 L541.10,443.70" fill="none" stroke="#1d66b6" stroke-width="2.4" stroke-linecap="butt"/>
<path d="M541.10,424.30 L541.63,424.42 L542.16,424.78 L542.69,425.36 L543.22,426.16 L543.75,427.15 L544.28,428.31 L544.82,429.61 L545.35,431.02 L545.88,432.50 L546.41,434.02 L546.94,435.54 L547.47,437.02 L548.00,438.43" fill="none" stroke="#1d66b6" stroke-width="2.4" stroke-linecap="butt"/>
<path d="M666.50,429.07 L666.99,430.32 L667.48,431.66 L667.96,433.04 L668.45,433.56 L668.94,432.17 L669.43,430.81 L669.92,429.52 L670.41,428.33 L670.89,427.25 L671.38,426.32 L671.87,425.55 L672.36,424.95 L672.85,424.54 L673.34,424.33 L673.82,424.32 L674.31,424.52 L674.80,424.91 L675.29,425.49 L675.78,426.25 L676.27,427.17 L676.75,428.24 L677.24,429.43 L677.73,430.71 L678.22,432.06 L678.71,433.45 L679.20,433.15 L679.68,431.77 L680.17,430.43 L680.66,429.16 L681.15,428.00 L681.64,426.97 L682.13,426.08 L682.61,425.35 L683.10,424.81 L683.59,424.46 L684.08,424.31 L684.57,424.36 L685.06,424.61 L685.54,425.06 L686.03,425.70 L686.52,426.51 L687.01,427.47 L687.50,428.57 L687.99,429.79 L688.47,431.10 L688.96,432.46 L689.45,433.86 L689.94,432.74 L690.43,431.37 L690.92,430.05 L691.40,428.81 L691.89,427.68 L692.38,426.69 L692.87,425.85 L693.36,425.17 L693.85,424.69 L694.33,424.39 L694.82,424.30 L695.31,424.41 L695.80,424.72 L696.29,425.23 L696.78,425.92 L697.26,426.77 L697.75,427.78 L698.24,428.92 L698.73,430.17 L699.22,431.49 L699.71,432.87 L700.19,433.73 L700.68,432.34 L701.17,430.97 L701.66,429.68 L702.15,428.47 L702.64,427.38 L703.12,426.43 L703.61,425.63 L704.10,425.01 L704.10,442.99 L703.61,442.37 L703.12,441.57 L702.64,440.62 L702.15,439.53 L701.66,438.32 L701.17,437.03 L700.68,435.66 L700.19,434.27 L699.71,435.13 L699.22,436.51 L698.73,437.83 L698.24,439.08 L697.75,440.22 L697.26,441.23 L696.78,442.08 L696.29,442.77 L695.80,443.28 L695.31,443.59 L694.82,443.70 L694.33,443.61 L693.85,443.31 L693.36,442.83 L692.87,442.15 L692.38,441.31 L691.89,440.32 L691.40,439.19 L690.92,437.95 L690.43,436.63 L689.94,435.26 L689.45,434.14 L688.96,435.54 L688.47,436.90 L687.99,438.21 L687.50,439.43 L687.01,440.53 L686.52,441.49 L686.03,442.30 L685.54,442.94 L685.06,443.39 L684.57,443.64 L684.08,443.69 L683.59,443.54 L683.10,443.19 L682.61,442.65 L682.13,441.92 L681.64,441.03 L681.15,440.00 L680.66,438.84 L680.17,437.57 L679.68,436.23 L679.20,434.85 L678.71,434.55 L678.22,435.94 L677.73,437.29 L677.24,438.57 L676.75,439.76 L676.27,440.83 L675.78,441.75 L675.29,442.51 L674.80,443.09 L674.31,443.48 L673.82,443.68 L673.34,443.67 L672.85,443.46 L672.36,443.05 L671.87,442.45 L671.38,441.68 L670.89,440.75 L670.41,439.67 L669.92,438.48 L669.43,437.19 L668.94,435.83 L668.45,434.44 L667.96,434.96 L667.48,436.34 L666.99,437.68 L666.50,438.93 Z" fill="#dff4fc" stroke="none" stroke-width="1" />
<g stroke="#49c4ee" stroke-width="0.8">
<line x1="669.75" y1="430.46" x2="669.75" y2="437.54"/>
<line x1="671.65" y1="426.38" x2="671.65" y2="441.62"/>
<line x1="673.55" y1="424.80" x2="673.55" y2="443.20"/>
<line x1="675.45" y1="426.22" x2="675.45" y2="441.78"/>
<line x1="677.35" y1="430.20" x2="677.35" y2="437.80"/>
<line x1="681.15" y1="428.50" x2="681.15" y2="439.50"/>
<line x1="683.05" y1="425.36" x2="683.05" y2="442.64"/>
<line x1="684.95" y1="425.04" x2="684.95" y2="442.96"/>
<line x1="686.85" y1="427.64" x2="686.85" y2="440.36"/>
<line x1="692.55" y1="426.88" x2="692.55" y2="441.12"/>
<line x1="694.45" y1="424.85" x2="694.45" y2="443.15"/>
<line x1="696.35" y1="425.81" x2="696.35" y2="442.19"/>
<line x1="698.25" y1="429.44" x2="698.25" y2="438.56"/>
<line x1="702.05" y1="429.20" x2="702.05" y2="438.80"/>
<line x1="703.95" y1="425.68" x2="703.95" y2="442.32"/>
</g>
<path d="M666.50,429.07 L667.01,430.37 L667.51,431.76 L668.02,433.20 L668.53,434.66 L669.04,436.10 L669.54,437.49 L670.05,438.81 L670.56,440.02 L671.06,441.09 L671.57,442.00 L672.08,442.73 L672.59,443.27 L673.09,443.59 L673.60,443.70" fill="none" stroke="#3a8fd6" stroke-width="1.6" stroke-linecap="butt"/>
<path d="M673.60,424.30 L674.10,424.41 L674.61,424.73 L675.11,425.26 L675.62,425.99 L676.12,426.89 L676.63,427.95 L677.13,429.15 L677.64,430.46 L678.14,431.84 L678.65,433.28 L679.15,434.72 L679.66,436.16 L680.16,437.54 L680.67,438.85 L681.17,440.05 L681.68,441.11 L682.18,442.01 L682.69,442.74 L683.19,443.27 L683.70,443.59 L684.20,443.70" fill="none" stroke="#3a8fd6" stroke-width="1.6" stroke-linecap="butt"/>
<path d="M684.20,424.30 L684.70,424.41 L685.21,424.73 L685.71,425.26 L686.22,425.99 L686.72,426.89 L687.23,427.95 L687.73,429.15 L688.24,430.46 L688.74,431.84 L689.25,433.28 L689.75,434.72 L690.26,436.16 L690.76,437.54 L691.27,438.85 L691.77,440.05 L692.28,441.11 L692.78,442.01 L693.29,442.74 L693.79,443.27 L694.30,443.59 L694.80,443.70" fill="none" stroke="#3a8fd6" stroke-width="1.6" stroke-linecap="butt"/>
<path d="M694.80,424.30 L695.32,424.41 L695.83,424.75 L696.35,425.31 L696.87,426.06 L697.38,427.01 L697.90,428.11 L698.42,429.36 L698.93,430.71 L699.45,432.14 L699.97,433.62 L700.48,435.10 L701.00,436.56 L701.52,437.95 L702.03,439.26 L702.55,440.44 L703.07,441.47 L703.58,442.33 L704.10,442.99" fill="none" stroke="#3a8fd6" stroke-width="1.6" stroke-linecap="butt"/>
<path d="M666.50,438.93 L667.01,437.63 L667.51,436.24 L668.02,434.80 L668.53,433.34 L669.04,431.90 L669.54,430.51 L670.05,429.19 L670.56,427.98 L671.06,426.91 L671.57,426.00 L672.08,425.27 L672.59,424.73 L673.09,424.41 L673.60,424.30" fill="none" stroke="#1d66b6" stroke-width="2.4" stroke-linecap="butt"/>
<path d="M673.60,443.70 L674.10,443.59 L674.61,443.27 L675.11,442.74 L675.62,442.01 L676.12,441.11 L676.63,440.05 L677.13,438.85 L677.64,437.54 L678.14,436.16 L678.65,434.72 L679.15,433.28 L679.66,431.84 L680.16,430.46 L680.67,429.15 L681.17,427.95 L681.68,426.89 L682.18,425.99 L682.69,425.26 L683.19,424.73 L683.70,424.41 L684.20,424.30" fill="none" stroke="#1d66b6" stroke-width="2.4" stroke-linecap="butt"/>
<path d="M684.20,443.70 L684.70,443.59 L685.21,443.27 L685.71,442.74 L686.22,442.01 L686.72,441.11 L687.23,440.05 L687.73,438.85 L688.24,437.54 L688.74,436.16 L689.25,434.72 L689.75,433.28 L690.26,431.84 L690.76,430.46 L691.27,429.15 L691.77,427.95 L692.28,426.89 L692.78,425.99 L693.29,425.26 L693.79,424.73 L694.30,424.41 L694.80,424.30" fill="none" stroke="#1d66b6" stroke-width="2.4" stroke-linecap="butt"/>
<path d="M694.80,443.70 L695.32,443.59 L695.83,443.25 L696.35,442.69 L696.87,441.94 L697.38,440.99 L697.90,439.89 L698.42,438.64 L698.93,437.29 L699.45,435.86 L699.97,434.38 L700.48,432.90 L701.00,431.44 L701.52,430.05 L702.03,428.74 L702.55,427.56 L703.07,426.53 L703.58,425.67 L704.10,425.01" fill="none" stroke="#1d66b6" stroke-width="2.4" stroke-linecap="butt"/>
<path d="M560.20,421.40 L654.60,421.40 C663.00,421.40 666.70,425.10 666.70,433.30 C666.70,441.49 663.00,445.20 654.60,445.20 L560.20,445.20 C551.80,445.20 547.50,441.49 547.50,433.30 C547.50,425.10 551.80,421.40 560.20,421.40 Z" fill="#ecf9fe" stroke="none" stroke-width="1" />
<g stroke="#4cc3ee" stroke-width="1.5">
<line x1="550.30" y1="425.39" x2="550.30" y2="441.21"/>
<line x1="553.10" y1="423.54" x2="553.10" y2="443.06"/>
<line x1="555.90" y1="422.48" x2="555.90" y2="444.12"/>
<line x1="558.70" y1="421.97" x2="558.70" y2="444.63"/>
<line x1="561.50" y1="421.90" x2="561.50" y2="444.70"/>
<line x1="564.30" y1="421.90" x2="564.30" y2="444.70"/>
<line x1="567.10" y1="421.90" x2="567.10" y2="444.70"/>
<line x1="569.90" y1="421.90" x2="569.90" y2="444.70"/>
<line x1="572.70" y1="421.90" x2="572.70" y2="444.70"/>
<line x1="575.50" y1="421.90" x2="575.50" y2="444.70"/>
<line x1="578.30" y1="421.90" x2="578.30" y2="444.70"/>
<line x1="581.10" y1="421.90" x2="581.10" y2="444.70"/>
<line x1="583.90" y1="421.90" x2="583.90" y2="444.70"/>
<line x1="586.70" y1="421.90" x2="586.70" y2="444.70"/>
<line x1="589.50" y1="421.90" x2="589.50" y2="444.70"/>
<line x1="592.30" y1="421.90" x2="592.30" y2="444.70"/>
<line x1="595.10" y1="421.90" x2="595.10" y2="444.70"/>
<line x1="597.90" y1="421.90" x2="597.90" y2="444.70"/>
<line x1="600.70" y1="421.90" x2="600.70" y2="444.70"/>
<line x1="603.50" y1="421.90" x2="603.50" y2="444.70"/>
<line x1="606.30" y1="421.90" x2="606.30" y2="444.70"/>
<line x1="609.10" y1="421.90" x2="609.10" y2="444.70"/>
<line x1="611.90" y1="421.90" x2="611.90" y2="444.70"/>
<line x1="614.70" y1="421.90" x2="614.70" y2="444.70"/>
<line x1="617.50" y1="421.90" x2="617.50" y2="444.70"/>
<line x1="620.30" y1="421.90" x2="620.30" y2="444.70"/>
<line x1="623.10" y1="421.90" x2="623.10" y2="444.70"/>
<line x1="625.90" y1="421.90" x2="625.90" y2="444.70"/>
<line x1="628.70" y1="421.90" x2="628.70" y2="444.70"/>
<line x1="631.50" y1="421.90" x2="631.50" y2="444.70"/>
<line x1="634.30" y1="421.90" x2="634.30" y2="444.70"/>
<line x1="637.10" y1="421.90" x2="637.10" y2="444.70"/>
<line x1="639.90" y1="421.90" x2="639.90" y2="444.70"/>
<line x1="642.70" y1="421.90" x2="642.70" y2="444.70"/>
<line x1="645.50" y1="421.90" x2="645.50" y2="444.70"/>
<line x1="648.30" y1="421.90" x2="648.30" y2="444.70"/>
<line x1="651.10" y1="421.90" x2="651.10" y2="444.70"/>
<line x1="653.90" y1="421.90" x2="653.90" y2="444.70"/>
<line x1="656.70" y1="422.12" x2="656.70" y2="444.48"/>
<line x1="659.50" y1="422.86" x2="659.50" y2="443.74"/>
<line x1="662.30" y1="424.22" x2="662.30" y2="442.38"/>
</g>
<line x1="549.80" y1="433.30" x2="664.40" y2="433.30" stroke="#ffffff" stroke-width="2.6" />
<path d="M560.20,421.40 L654.60,421.40 C663.00,421.40 666.70,425.10 666.70,433.30 C666.70,441.49 663.00,445.20 654.60,445.20 L560.20,445.20 C551.80,445.20 547.50,441.49 547.50,433.30 C547.50,425.10 551.80,421.40 560.20,421.40 Z" fill="none" stroke="#1b62b3" stroke-width="2.6" />
<rect x="560.20" y="418.40" width="53.50" height="6.00" fill="#15236e" stroke="none" stroke-width="1" rx="0" />
<rect x="560.20" y="442.20" width="53.50" height="6.00" fill="#15236e" stroke="none" stroke-width="1" rx="0" />
<rect x="620.00" y="418.40" width="34.60" height="6.00" fill="#15236e" stroke="none" stroke-width="1" rx="0" />
<rect x="620.00" y="442.20" width="34.60" height="6.00" fill="#15236e" stroke="none" stroke-width="1" rx="0" />
<rect x="613.70" y="417.90" width="6.30" height="30.80" fill="#ffffff" stroke="none" stroke-width="1" rx="0" />
<ellipse cx="617" cy="432.6" rx="9.9" ry="18.6" fill="none" stroke="#e5352a" stroke-width="1.2"/>
<text x="510.4" y="464.0" font-size="12.4" fill="#2d2d2d" text-anchor="start" font-weight="bold" font-style="normal" textLength="206.0" lengthAdjust="spacingAndGlyphs"  xml:space="preserve">Mecanismos de reparación del ADN</text>
<line x1="541.90" y1="469.10" x2="541.90" y2="503.70" stroke="#8c8c8c" stroke-width="2.6" />
<path d="M533.60,502.70 L550.20,502.70 L541.90,510.20 Z" fill="#8c8c8c" stroke="none" stroke-width="1" />
<line x1="683.40" y1="469.10" x2="683.40" y2="503.60" stroke="#8c8c8c" stroke-width="2.6" />
<path d="M675.10,502.60 L691.70,502.60 L683.40,510.10 Z" fill="#8c8c8c" stroke="none" stroke-width="1" />
<path d="M451.5,524.5 C455,528 457,534 460,538 M460,524.5 C457,528 455,534 451.5,538" fill="none" stroke="#2f86cf" stroke-width="2.0" />
<path d="M468.80,524.73 L469.28,525.01 L469.77,525.60 L470.25,526.45 L470.74,527.53 L471.22,528.79 L471.71,530.15 L472.19,530.44 L472.68,529.06 L473.16,527.78 L473.65,526.66 L474.13,525.75 L474.62,525.11 L475.10,524.76 L475.58,524.72 L476.07,525.00 L476.55,525.57 L477.04,526.42 L477.52,527.50 L478.01,528.75 L478.49,530.11 L478.98,530.49 L479.46,529.10 L479.95,527.82 L480.43,526.69 L480.92,525.78 L481.40,525.13 L481.88,524.77 L482.37,524.72 L482.85,524.99 L483.34,525.55 L483.82,526.39 L484.31,527.46 L484.79,528.70 L485.28,530.06 L485.76,530.53 L486.25,529.15 L486.73,527.86 L487.22,526.72 L487.70,525.80 L488.18,525.14 L488.67,524.77 L489.15,524.72 L489.64,524.97 L490.12,525.53 L490.61,526.36 L491.09,527.42 L491.58,528.66 L492.06,530.02 L492.55,530.57 L493.03,529.19 L493.52,527.90 L494.00,526.76 L494.00,535.24 L493.52,534.10 L493.03,532.81 L492.55,531.43 L492.06,531.98 L491.58,533.34 L491.09,534.58 L490.61,535.64 L490.12,536.47 L489.64,537.03 L489.15,537.28 L488.67,537.23 L488.18,536.86 L487.70,536.20 L487.22,535.28 L486.73,534.14 L486.25,532.85 L485.76,531.47 L485.28,531.94 L484.79,533.30 L484.31,534.54 L483.82,535.61 L483.34,536.45 L482.85,537.01 L482.37,537.28 L481.88,537.23 L481.40,536.87 L480.92,536.22 L480.43,535.31 L479.95,534.18 L479.46,532.90 L478.98,531.51 L478.49,531.89 L478.01,533.25 L477.52,534.50 L477.04,535.58 L476.55,536.43 L476.07,537.00 L475.58,537.28 L475.10,537.24 L474.62,536.89 L474.13,536.25 L473.65,535.34 L473.16,534.22 L472.68,532.94 L472.19,531.56 L471.71,531.85 L471.22,533.21 L470.74,534.47 L470.25,535.55 L469.77,536.40 L469.28,536.99 L468.80,537.27 Z" fill="#dff4fc" stroke="none" stroke-width="1" />
<g stroke="#49c4ee" stroke-width="0.6">
<line x1="469.60" y1="525.86" x2="469.60" y2="536.14"/>
<line x1="471.20" y1="529.22" x2="471.20" y2="532.78"/>
<line x1="472.80" y1="529.22" x2="472.80" y2="532.78"/>
<line x1="474.40" y1="525.86" x2="474.40" y2="536.14"/>
<line x1="476.00" y1="525.44" x2="476.00" y2="536.56"/>
<line x1="477.60" y1="528.18" x2="477.60" y2="533.82"/>
<line x1="480.80" y1="526.47" x2="480.80" y2="535.53"/>
<line x1="482.40" y1="525.23" x2="482.40" y2="536.77"/>
<line x1="484.00" y1="527.26" x2="484.00" y2="534.74"/>
<line x1="487.20" y1="527.26" x2="487.20" y2="534.74"/>
<line x1="488.80" y1="525.23" x2="488.80" y2="536.77"/>
<line x1="490.40" y1="526.47" x2="490.40" y2="535.53"/>
<line x1="493.60" y1="528.18" x2="493.60" y2="533.82"/>
</g>
<path d="M468.80,537.27 L469.31,536.97 L469.82,536.33 L470.32,535.41 L470.83,534.24 L471.34,532.90 L471.85,531.45 L472.35,529.97 L472.86,528.56 L473.37,527.28 L473.88,526.20 L474.38,525.38 L474.89,524.87 L475.40,524.70" fill="none" stroke="#4a9cdc" stroke-width="1.0" stroke-linecap="butt"/>
<path d="M475.40,537.30 L475.92,537.12 L476.45,536.58 L476.97,535.72 L477.49,534.58 L478.02,533.23 L478.54,531.76 L479.06,530.24 L479.58,528.77 L480.11,527.42 L480.63,526.28 L481.15,525.42 L481.68,524.88 L482.20,524.70" fill="none" stroke="#4a9cdc" stroke-width="1.0" stroke-linecap="butt"/>
<path d="M482.20,537.30 L482.72,537.12 L483.25,536.58 L483.77,535.72 L484.29,534.58 L484.82,533.23 L485.34,531.76 L485.86,530.24 L486.38,528.77 L486.91,527.42 L487.43,526.28 L487.95,525.42 L488.48,524.88 L489.00,524.70" fill="none" stroke="#4a9cdc" stroke-width="1.0" stroke-linecap="butt"/>
<path d="M489.00,537.30 L489.50,537.13 L490.00,536.64 L490.50,535.85 L491.00,534.80 L491.50,533.54 L492.00,532.16 L492.50,530.71 L493.00,529.28 L493.50,527.93 L494.00,526.76" fill="none" stroke="#4a9cdc" stroke-width="1.0" stroke-linecap="butt"/>
<path d="M468.80,524.73 L469.31,525.03 L469.82,525.67 L470.32,526.59 L470.83,527.76 L471.34,529.10 L471.85,530.55 L472.35,532.03 L472.86,533.44 L473.37,534.72 L473.88,535.80 L474.38,536.62 L474.89,537.13 L475.40,537.30" fill="none" stroke="#2673c0" stroke-width="1.4" stroke-linecap="butt"/>
<path d="M475.40,524.70 L475.92,524.88 L476.45,525.42 L476.97,526.28 L477.49,527.42 L478.02,528.77 L478.54,530.24 L479.06,531.76 L479.58,533.23 L480.11,534.58 L480.63,535.72 L481.15,536.58 L481.68,537.12 L482.20,537.30" fill="none" stroke="#2673c0" stroke-width="1.4" stroke-linecap="butt"/>
<path d="M482.20,524.70 L482.72,524.88 L483.25,525.42 L483.77,526.28 L484.29,527.42 L484.82,528.77 L485.34,530.24 L485.86,531.76 L486.38,533.23 L486.91,534.58 L487.43,535.72 L487.95,536.58 L488.48,537.12 L489.00,537.30" fill="none" stroke="#2673c0" stroke-width="1.4" stroke-linecap="butt"/>
<path d="M489.00,524.70 L489.50,524.87 L490.00,525.36 L490.50,526.15 L491.00,527.20 L491.50,528.46 L492.00,529.84 L492.50,531.29 L493.00,532.72 L493.50,534.07 L494.00,535.24" fill="none" stroke="#2673c0" stroke-width="1.4" stroke-linecap="butt"/>
<path d="M575.40,526.76 L575.88,527.88 L576.36,529.16 L576.84,530.53 L577.32,530.08 L577.80,528.73 L578.28,527.49 L578.76,526.43 L579.24,525.59 L579.72,525.01 L580.20,524.73 L580.68,524.75 L581.16,525.08 L581.63,525.70 L582.11,526.57 L582.59,527.67 L583.07,528.92 L583.55,530.28 L584.03,530.32 L584.51,528.96 L584.99,527.70 L585.47,526.60 L585.95,525.72 L586.43,525.09 L586.91,524.76 L587.39,524.72 L587.87,525.00 L588.35,525.57 L588.83,526.40 L589.31,527.46 L589.79,528.69 L590.27,530.04 L590.75,530.57 L591.23,529.20 L591.71,527.92 L592.19,526.79 L592.67,525.86 L593.14,525.19 L593.62,524.79 L594.10,524.71 L594.58,524.93 L595.06,525.44 L595.54,526.23 L596.02,527.26 L596.50,528.46 L596.98,529.79 L597.46,530.82 L597.94,529.44 L598.42,528.14 L598.90,526.98 L598.90,535.02 L598.42,533.86 L597.94,532.56 L597.46,531.18 L596.98,532.21 L596.50,533.54 L596.02,534.74 L595.54,535.77 L595.06,536.56 L594.58,537.07 L594.10,537.29 L593.62,537.21 L593.14,536.81 L592.67,536.14 L592.19,535.21 L591.71,534.08 L591.23,532.80 L590.75,531.43 L590.27,531.96 L589.79,533.31 L589.31,534.54 L588.83,535.60 L588.35,536.43 L587.87,537.00 L587.39,537.28 L586.91,537.24 L586.43,536.91 L585.95,536.28 L585.47,535.40 L584.99,534.30 L584.51,533.04 L584.03,531.68 L583.55,531.72 L583.07,533.08 L582.59,534.33 L582.11,535.43 L581.63,536.30 L581.16,536.92 L580.68,537.25 L580.20,537.27 L579.72,536.99 L579.24,536.41 L578.76,535.57 L578.28,534.51 L577.80,533.27 L577.32,531.92 L576.84,531.47 L576.36,532.84 L575.88,534.12 L575.40,535.24 Z" fill="#dff4fc" stroke="none" stroke-width="1" />
<g stroke="#49c4ee" stroke-width="0.6">
<line x1="578.20" y1="528.18" x2="578.20" y2="533.82"/>
<line x1="579.80" y1="525.44" x2="579.80" y2="536.56"/>
<line x1="581.40" y1="525.86" x2="581.40" y2="536.14"/>
<line x1="583.00" y1="529.22" x2="583.00" y2="532.78"/>
<line x1="584.60" y1="529.22" x2="584.60" y2="532.78"/>
<line x1="586.20" y1="525.86" x2="586.20" y2="536.14"/>
<line x1="587.80" y1="525.44" x2="587.80" y2="536.56"/>
<line x1="589.40" y1="528.18" x2="589.40" y2="533.82"/>
<line x1="592.60" y1="526.47" x2="592.60" y2="535.53"/>
<line x1="594.20" y1="525.23" x2="594.20" y2="536.77"/>
<line x1="595.80" y1="527.26" x2="595.80" y2="534.74"/>
</g>
<path d="M575.40,526.76 L575.90,527.93 L576.40,529.28 L576.90,530.71 L577.40,532.16 L577.90,533.54 L578.40,534.80 L578.90,535.85 L579.40,536.64 L579.90,537.13 L580.40,537.30" fill="none" stroke="#4a9cdc" stroke-width="1.0" stroke-linecap="butt"/>
<path d="M580.40,524.70 L580.92,524.88 L581.45,525.42 L581.97,526.28 L582.49,527.42 L583.02,528.77 L583.54,530.24 L584.06,531.76 L584.58,533.23 L585.11,534.58 L585.63,535.72 L586.15,536.58 L586.68,537.12 L587.20,537.30" fill="none" stroke="#4a9cdc" stroke-width="1.0" stroke-linecap="butt"/>
<path d="M587.20,524.70 L587.72,524.88 L588.25,525.42 L588.77,526.28 L589.29,527.42 L589.82,528.77 L590.34,530.24 L590.86,531.76 L591.38,533.23 L591.91,534.58 L592.43,535.72 L592.95,536.58 L593.48,537.12 L594.00,537.30" fill="none" stroke="#4a9cdc" stroke-width="1.0" stroke-linecap="butt"/>
<path d="M594.00,524.70 L594.54,524.90 L595.09,525.48 L595.63,526.41 L596.18,527.63 L596.72,529.06 L597.27,530.61 L597.81,532.19 L598.36,533.69 L598.90,535.02" fill="none" stroke="#4a9cdc" stroke-width="1.0" stroke-linecap="butt"/>
<path d="M575.40,535.24 L575.90,534.07 L576.40,532.72 L576.90,531.29 L577.40,529.84 L577.90,528.46 L578.40,527.20 L578.90,526.15 L579.40,525.36 L579.90,524.87 L580.40,524.70" fill="none" stroke="#2673c0" stroke-width="1.4" stroke-linecap="butt"/>
<path d="M580.40,537.30 L580.92,537.12 L581.45,536.58 L581.97,535.72 L582.49,534.58 L583.02,533.23 L583.54,531.76 L584.06,530.24 L584.58,528.77 L585.11,527.42 L585.63,526.28 L586.15,525.42 L586.68,524.88 L587.20,524.70" fill="none" stroke="#2673c0" stroke-width="1.4" stroke-linecap="butt"/>
<path d="M587.20,537.30 L587.72,537.12 L588.25,536.58 L588.77,535.72 L589.29,534.58 L589.82,533.23 L590.34,531.76 L590.86,530.24 L591.38,528.77 L591.91,527.42 L592.43,526.28 L592.95,525.42 L593.48,524.88 L594.00,524.70" fill="none" stroke="#2673c0" stroke-width="1.4" stroke-linecap="butt"/>
<path d="M594.00,537.30 L594.54,537.10 L595.09,536.52 L595.63,535.59 L596.18,534.37 L596.72,532.94 L597.27,531.39 L597.81,529.81 L598.36,528.31 L598.90,526.98" fill="none" stroke="#2673c0" stroke-width="1.4" stroke-linecap="butt"/>
<path d="M501.60,522.70 L567.40,522.70 C572.32,522.70 574.50,525.17 574.50,530.75 C574.50,536.33 572.32,538.80 567.40,538.80 L501.60,538.80 C496.68,538.80 494.50,536.33 494.50,530.75 C494.50,525.17 496.68,522.70 501.60,522.70 Z" fill="#ecf9fe" stroke="none" stroke-width="1" />
<g stroke="#4cc3ee" stroke-width="1.0">
<line x1="497.10" y1="524.52" x2="497.10" y2="536.98"/>
<line x1="499.10" y1="523.58" x2="499.10" y2="537.92"/>
<line x1="501.10" y1="523.21" x2="501.10" y2="538.29"/>
<line x1="503.10" y1="523.20" x2="503.10" y2="538.30"/>
<line x1="505.10" y1="523.20" x2="505.10" y2="538.30"/>
<line x1="507.10" y1="523.20" x2="507.10" y2="538.30"/>
<line x1="509.10" y1="523.20" x2="509.10" y2="538.30"/>
<line x1="511.10" y1="523.20" x2="511.10" y2="538.30"/>
<line x1="513.10" y1="523.20" x2="513.10" y2="538.30"/>
<line x1="515.10" y1="523.20" x2="515.10" y2="538.30"/>
<line x1="517.10" y1="523.20" x2="517.10" y2="538.30"/>
<line x1="519.10" y1="523.20" x2="519.10" y2="538.30"/>
<line x1="521.10" y1="523.20" x2="521.10" y2="538.30"/>
<line x1="523.10" y1="523.20" x2="523.10" y2="538.30"/>
<line x1="525.10" y1="523.20" x2="525.10" y2="538.30"/>
<line x1="527.10" y1="523.20" x2="527.10" y2="538.30"/>
<line x1="529.10" y1="523.20" x2="529.10" y2="538.30"/>
<line x1="531.10" y1="523.20" x2="531.10" y2="538.30"/>
<line x1="533.10" y1="523.20" x2="533.10" y2="538.30"/>
<line x1="535.10" y1="523.20" x2="535.10" y2="538.30"/>
<line x1="537.10" y1="523.20" x2="537.10" y2="538.30"/>
<line x1="539.10" y1="523.20" x2="539.10" y2="538.30"/>
<line x1="541.10" y1="523.20" x2="541.10" y2="538.30"/>
<line x1="543.10" y1="523.20" x2="543.10" y2="538.30"/>
<line x1="545.10" y1="523.20" x2="545.10" y2="538.30"/>
<line x1="547.10" y1="523.20" x2="547.10" y2="538.30"/>
<line x1="549.10" y1="523.20" x2="549.10" y2="538.30"/>
<line x1="551.10" y1="523.20" x2="551.10" y2="538.30"/>
<line x1="553.10" y1="523.20" x2="553.10" y2="538.30"/>
<line x1="555.10" y1="523.20" x2="555.10" y2="538.30"/>
<line x1="557.10" y1="523.20" x2="557.10" y2="538.30"/>
<line x1="559.10" y1="523.20" x2="559.10" y2="538.30"/>
<line x1="561.10" y1="523.20" x2="561.10" y2="538.30"/>
<line x1="563.10" y1="523.20" x2="563.10" y2="538.30"/>
<line x1="565.10" y1="523.20" x2="565.10" y2="538.30"/>
<line x1="567.10" y1="523.20" x2="567.10" y2="538.30"/>
<line x1="569.10" y1="523.37" x2="569.10" y2="538.13"/>
<line x1="571.10" y1="524.07" x2="571.10" y2="537.43"/>
</g>
<line x1="496.60" y1="530.75" x2="572.40" y2="530.75" stroke="#ffffff" stroke-width="1.7" />
<path d="M501.60,522.70 L567.40,522.70 C572.32,522.70 574.50,525.17 574.50,530.75 C574.50,536.33 572.32,538.80 567.40,538.80 L501.60,538.80 C496.68,538.80 494.50,536.33 494.50,530.75 C494.50,525.17 496.68,522.70 501.60,522.70 Z" fill="none" stroke="#1b62b3" stroke-width="2.2" />
<rect x="501.60" y="520.60" width="37.60" height="4.20" fill="#15236e" stroke="none" stroke-width="1" rx="0" />
<rect x="501.60" y="536.70" width="37.60" height="4.20" fill="#15236e" stroke="none" stroke-width="1" rx="0" />
<rect x="544.10" y="520.60" width="23.30" height="4.20" fill="#15236e" stroke="none" stroke-width="1" rx="0" />
<rect x="544.10" y="536.70" width="23.30" height="4.20" fill="#15236e" stroke="none" stroke-width="1" rx="0" />
<rect x="539.20" y="520.10" width="4.90" height="21.30" fill="#ffffff" stroke="none" stroke-width="1" rx="0" />
<ellipse cx="540.8" cy="529.4" rx="10.4" ry="18.6" fill="none" stroke="#e5352a" stroke-width="1.2"/>
<g stroke="#555" stroke-width="0.7"><line x1="533.2" y1="544.5" x2="522.2" y2="560.3"/><line x1="536.4" y1="547" x2="533.2" y2="560"/><line x1="545.5" y1="547" x2="544.7" y2="560"/><line x1="549" y1="544.5" x2="555" y2="560.3"/></g>
<text x="553.7" y="555.3" font-size="12.4" fill="#444444" text-anchor="start" font-weight="normal" font-style="italic" textLength="84.1" lengthAdjust="spacingAndGlyphs"  xml:space="preserve">Recombinación</text>
<text x="491.2" y="568.4" font-size="12.4" fill="#8f2b9c" text-anchor="end" font-weight="bold" font-style="normal" textLength="24.6" lengthAdjust="spacingAndGlyphs"  xml:space="preserve">ADN</text>
<text x="491.2" y="582.5" font-size="12.4" fill="#8f2b9c" text-anchor="end" font-weight="bold" font-style="normal" textLength="45.7" lengthAdjust="spacingAndGlyphs"  xml:space="preserve">donador</text>
<path d="M503.60,563.61 L504.08,564.01 L504.55,564.69 L505.03,565.61 L505.50,566.73 L505.98,568.01 L506.45,569.36 L506.93,568.86 L507.40,567.52 L507.88,566.30 L508.35,565.24 L508.82,564.41 L509.30,563.83 L509.78,563.53 L510.25,563.54 L510.73,563.85 L511.20,564.44 L511.68,565.29 L512.15,566.36 L512.62,567.59 L513.10,568.93 L513.58,569.29 L514.05,567.94 L514.52,566.67 L515.00,565.56 L515.00,574.04 L514.52,572.93 L514.05,571.66 L513.58,570.31 L513.10,570.67 L512.62,572.01 L512.15,573.24 L511.68,574.31 L511.20,575.16 L510.73,575.75 L510.25,576.06 L509.78,576.07 L509.30,575.77 L508.82,575.19 L508.35,574.36 L507.88,573.30 L507.40,572.08 L506.93,570.74 L506.45,570.24 L505.98,571.59 L505.50,572.87 L505.03,573.99 L504.55,574.91 L504.08,575.59 L503.60,575.99 Z" fill="#dff4fc" stroke="none" stroke-width="1" />
<g stroke="#49c4ee" stroke-width="0.6">
<line x1="504.20" y1="564.66" x2="504.20" y2="574.94"/>
<line x1="505.80" y1="568.02" x2="505.80" y2="571.58"/>
<line x1="507.40" y1="568.02" x2="507.40" y2="571.58"/>
<line x1="509.00" y1="564.66" x2="509.00" y2="574.94"/>
<line x1="510.60" y1="564.24" x2="510.60" y2="575.36"/>
<line x1="512.20" y1="566.98" x2="512.20" y2="572.62"/>
</g>
<path d="M503.60,575.99 L504.13,575.52 L504.67,574.71 L505.20,573.60 L505.73,572.26 L506.27,570.77 L506.80,569.22 L507.33,567.71 L507.87,566.32 L508.40,565.14 L508.93,564.25 L509.47,563.69 L510.00,563.50" fill="none" stroke="#4a9cdc" stroke-width="1.0" stroke-linecap="butt"/>
<path d="M510.00,576.10 L510.50,575.93 L511.00,575.44 L511.50,574.65 L512.00,573.60 L512.50,572.34 L513.00,570.96 L513.50,569.51 L514.00,568.08 L514.50,566.73 L515.00,565.56" fill="none" stroke="#4a9cdc" stroke-width="1.0" stroke-linecap="butt"/>
<path d="M503.60,563.61 L504.13,564.08 L504.67,564.89 L505.20,566.00 L505.73,567.34 L506.27,568.83 L506.80,570.38 L507.33,571.89 L507.87,573.28 L508.40,574.46 L508.93,575.35 L509.47,575.91 L510.00,576.10" fill="none" stroke="#2673c0" stroke-width="1.4" stroke-linecap="butt"/>
<path d="M510.00,563.50 L510.50,563.67 L511.00,564.16 L511.50,564.95 L512.00,566.00 L512.50,567.26 L513.00,568.64 L513.50,570.09 L514.00,571.52 L514.50,572.87 L515.00,574.04" fill="none" stroke="#2673c0" stroke-width="1.4" stroke-linecap="butt"/>
<path d="M561.60,565.56 L562.07,566.66 L562.54,567.92 L563.02,569.27 L563.49,568.96 L563.96,567.63 L564.43,566.40 L564.90,565.34 L565.38,564.48 L565.85,563.88 L566.32,563.55 L566.79,563.52 L567.26,563.79 L567.74,564.35 L568.21,565.16 L568.68,566.19 L569.15,567.39 L569.62,568.71 L570.10,569.52 L570.57,568.17 L571.04,566.89 L571.51,565.75 L571.98,564.80 L572.46,564.09 L572.93,563.65 L573.40,563.50 L573.40,576.10 L572.93,575.95 L572.46,575.51 L571.98,574.80 L571.51,573.85 L571.04,572.71 L570.57,571.43 L570.10,570.08 L569.62,570.89 L569.15,572.21 L568.68,573.41 L568.21,574.44 L567.74,575.25 L567.26,575.81 L566.79,576.08 L566.32,576.05 L565.85,575.72 L565.38,575.12 L564.90,574.26 L564.43,573.20 L563.96,571.97 L563.49,570.64 L563.02,570.33 L562.54,571.68 L562.07,572.94 L561.60,574.04 Z" fill="#dff4fc" stroke="none" stroke-width="1" />
<g stroke="#49c4ee" stroke-width="0.6">
<line x1="564.40" y1="566.98" x2="564.40" y2="572.62"/>
<line x1="566.00" y1="564.24" x2="566.00" y2="575.36"/>
<line x1="567.60" y1="564.66" x2="567.60" y2="574.94"/>
<line x1="569.20" y1="568.02" x2="569.20" y2="571.58"/>
<line x1="570.80" y1="568.02" x2="570.80" y2="571.58"/>
<line x1="572.40" y1="564.66" x2="572.40" y2="574.94"/>
</g>
<path d="M561.60,565.56 L562.10,566.73 L562.60,568.08 L563.10,569.51 L563.60,570.96 L564.10,572.34 L564.60,573.60 L565.10,574.65 L565.60,575.44 L566.10,575.93 L566.60,576.10" fill="none" stroke="#4a9cdc" stroke-width="1.0" stroke-linecap="butt"/>
<path d="M566.60,563.50 L567.12,563.68 L567.65,564.22 L568.17,565.08 L568.69,566.22 L569.22,567.57 L569.74,569.04 L570.26,570.56 L570.78,572.03 L571.31,573.38 L571.83,574.52 L572.35,575.38 L572.88,575.92 L573.40,576.10" fill="none" stroke="#4a9cdc" stroke-width="1.0" stroke-linecap="butt"/>
<path d="M561.60,574.04 L562.10,572.87 L562.60,571.52 L563.10,570.09 L563.60,568.64 L564.10,567.26 L564.60,566.00 L565.10,564.95 L565.60,564.16 L566.10,563.67 L566.60,563.50" fill="none" stroke="#2673c0" stroke-width="1.4" stroke-linecap="butt"/>
<path d="M566.60,576.10 L567.12,575.92 L567.65,575.38 L568.17,574.52 L568.69,573.38 L569.22,572.03 L569.74,570.56 L570.26,569.04 L570.78,567.57 L571.31,566.22 L571.83,565.08 L572.35,564.22 L572.88,563.68 L573.40,563.50" fill="none" stroke="#2673c0" stroke-width="1.4" stroke-linecap="butt"/>
<path d="M522.00,561.85 L554.50,561.85 C559.00,561.85 560.80,564.25 560.80,569.70 C560.80,575.15 559.00,577.55 554.50,577.55 L522.00,577.55 C517.50,577.55 515.60,575.15 515.60,569.70 C515.60,564.25 517.50,561.85 522.00,561.85 Z" fill="#ecf9fe" stroke="none" stroke-width="1" />
<g stroke="#4cc3ee" stroke-width="1.0">
<line x1="518.20" y1="563.43" x2="518.20" y2="575.97"/>
<line x1="520.20" y1="562.58" x2="520.20" y2="576.82"/>
<line x1="522.20" y1="562.35" x2="522.20" y2="577.05"/>
<line x1="524.20" y1="562.35" x2="524.20" y2="577.05"/>
<line x1="526.20" y1="562.35" x2="526.20" y2="577.05"/>
<line x1="528.20" y1="562.35" x2="528.20" y2="577.05"/>
<line x1="530.20" y1="562.35" x2="530.20" y2="577.05"/>
<line x1="532.20" y1="562.35" x2="532.20" y2="577.05"/>
<line x1="534.20" y1="562.35" x2="534.20" y2="577.05"/>
<line x1="536.20" y1="562.35" x2="536.20" y2="577.05"/>
<line x1="538.20" y1="562.35" x2="538.20" y2="577.05"/>
<line x1="540.20" y1="562.35" x2="540.20" y2="577.05"/>
<line x1="542.20" y1="562.35" x2="542.20" y2="577.05"/>
<line x1="544.20" y1="562.35" x2="544.20" y2="577.05"/>
<line x1="546.20" y1="562.35" x2="546.20" y2="577.05"/>
<line x1="548.20" y1="562.35" x2="548.20" y2="577.05"/>
<line x1="550.20" y1="562.35" x2="550.20" y2="577.05"/>
<line x1="552.20" y1="562.35" x2="552.20" y2="577.05"/>
<line x1="554.20" y1="562.35" x2="554.20" y2="577.05"/>
<line x1="556.20" y1="562.58" x2="556.20" y2="576.82"/>
<line x1="558.20" y1="563.43" x2="558.20" y2="575.97"/>
</g>
<line x1="517.70" y1="569.70" x2="558.70" y2="569.70" stroke="#ffffff" stroke-width="1.7" />
<rect x="532.60" y="561.85" width="11.00" height="15.70" fill="#efd0ef" stroke="none" stroke-width="1" rx="0" />
<g stroke="#b458b6" stroke-width="1.2" opacity="0.75">
<line x1="533.40" y1="561.85" x2="533.40" y2="577.55"/>
<line x1="535.40" y1="561.85" x2="535.40" y2="577.55"/>
<line x1="537.40" y1="561.85" x2="537.40" y2="577.55"/>
<line x1="539.40" y1="561.85" x2="539.40" y2="577.55"/>
<line x1="541.40" y1="561.85" x2="541.40" y2="577.55"/>
<line x1="543.40" y1="561.85" x2="543.40" y2="577.55"/>
</g>
<line x1="532.60" y1="569.70" x2="543.60" y2="569.70" stroke="#ffffff" stroke-width="1.7" />
<path d="M522.00,561.85 L554.50,561.85 C559.00,561.85 560.80,564.25 560.80,569.70 C560.80,575.15 559.00,577.55 554.50,577.55 L522.00,577.55 C517.50,577.55 515.60,575.15 515.60,569.70 C515.60,564.25 517.50,561.85 522.00,561.85 Z" fill="none" stroke="#1b62b3" stroke-width="2.2" />
<rect x="522.00" y="559.80" width="32.50" height="4.10" fill="#15236e" stroke="none" stroke-width="1" rx="0" />
<rect x="522.00" y="575.50" width="32.50" height="4.10" fill="#15236e" stroke="none" stroke-width="1" rx="0" />
<rect x="532.60" y="559.80" width="11.00" height="4.10" fill="#b458b6" stroke="none" stroke-width="1" rx="0" />
<rect x="532.60" y="575.50" width="11.00" height="4.10" fill="#b458b6" stroke="none" stroke-width="1" rx="0" />
<path d="M614.40,524.73 L614.88,525.01 L615.37,525.60 L615.85,526.45 L616.34,527.53 L616.82,528.79 L617.31,530.15 L617.79,530.44 L618.28,529.06 L618.76,527.78 L619.25,526.66 L619.73,525.75 L620.22,525.11 L620.70,524.76 L621.18,524.72 L621.67,525.00 L622.15,525.57 L622.64,526.42 L623.12,527.50 L623.61,528.75 L624.09,530.11 L624.58,530.49 L625.06,529.10 L625.55,527.82 L626.03,526.69 L626.52,525.78 L627.00,525.13 L627.48,524.77 L627.97,524.72 L628.45,524.99 L628.94,525.55 L629.42,526.39 L629.91,527.46 L630.39,528.70 L630.88,530.06 L631.36,530.53 L631.85,529.15 L632.33,527.86 L632.82,526.72 L633.30,525.80 L633.78,525.14 L634.27,524.77 L634.75,524.72 L635.24,524.97 L635.72,525.53 L636.21,526.36 L636.69,527.42 L637.18,528.66 L637.66,530.02 L638.15,530.57 L638.63,529.19 L639.12,527.90 L639.60,526.76 L639.60,535.24 L639.12,534.10 L638.63,532.81 L638.15,531.43 L637.66,531.98 L637.18,533.34 L636.69,534.58 L636.21,535.64 L635.72,536.47 L635.24,537.03 L634.75,537.28 L634.27,537.23 L633.78,536.86 L633.30,536.20 L632.82,535.28 L632.33,534.14 L631.85,532.85 L631.36,531.47 L630.88,531.94 L630.39,533.30 L629.91,534.54 L629.42,535.61 L628.94,536.45 L628.45,537.01 L627.97,537.28 L627.48,537.23 L627.00,536.87 L626.52,536.22 L626.03,535.31 L625.55,534.18 L625.06,532.90 L624.58,531.51 L624.09,531.89 L623.61,533.25 L623.12,534.50 L622.64,535.58 L622.15,536.43 L621.67,537.00 L621.18,537.28 L620.70,537.24 L620.22,536.89 L619.73,536.25 L619.25,535.34 L618.76,534.22 L618.28,532.94 L617.79,531.56 L617.31,531.85 L616.82,533.21 L616.34,534.47 L615.85,535.55 L615.37,536.40 L614.88,536.99 L614.40,537.27 Z" fill="#dff4fc" stroke="none" stroke-width="1" />
<g stroke="#49c4ee" stroke-width="0.6">
<line x1="615.20" y1="525.86" x2="615.20" y2="536.14"/>
<line x1="616.80" y1="529.22" x2="616.80" y2="532.78"/>
<line x1="618.40" y1="529.22" x2="618.40" y2="532.78"/>
<line x1="620.00" y1="525.86" x2="620.00" y2="536.14"/>
<line x1="621.60" y1="525.44" x2="621.60" y2="536.56"/>
<line x1="623.20" y1="528.18" x2="623.20" y2="533.82"/>
<line x1="626.40" y1="526.47" x2="626.40" y2="535.53"/>
<line x1="628.00" y1="525.23" x2="628.00" y2="536.77"/>
<line x1="629.60" y1="527.26" x2="629.60" y2="534.74"/>
<line x1="632.80" y1="527.26" x2="632.80" y2="534.74"/>
<line x1="634.40" y1="525.23" x2="634.40" y2="536.77"/>
<line x1="636.00" y1="526.47" x2="636.00" y2="535.53"/>
<line x1="639.20" y1="528.18" x2="639.20" y2="533.82"/>
</g>
<path d="M614.40,537.27 L614.91,536.97 L615.42,536.33 L615.92,535.41 L616.43,534.24 L616.94,532.90 L617.45,531.45 L617.95,529.97 L618.46,528.56 L618.97,527.28 L619.48,526.20 L619.98,525.38 L620.49,524.87 L621.00,524.70" fill="none" stroke="#4a9cdc" stroke-width="1.0" stroke-linecap="butt"/>
<path d="M621.00,537.30 L621.52,537.12 L622.05,536.58 L622.57,535.72 L623.09,534.58 L623.62,533.23 L624.14,531.76 L624.66,530.24 L625.18,528.77 L625.71,527.42 L626.23,526.28 L626.75,525.42 L627.28,524.88 L627.80,524.70" fill="none" stroke="#4a9cdc" stroke-width="1.0" stroke-linecap="butt"/>
<path d="M627.80,537.30 L628.32,537.12 L628.85,536.58 L629.37,535.72 L629.89,534.58 L630.42,533.23 L630.94,531.76 L631.46,530.24 L631.98,528.77 L632.51,527.42 L633.03,526.28 L633.55,525.42 L634.08,524.88 L634.60,524.70" fill="none" stroke="#4a9cdc" stroke-width="1.0" stroke-linecap="butt"/>
<path d="M634.60,537.30 L635.10,537.13 L635.60,536.64 L636.10,535.85 L636.60,534.80 L637.10,533.54 L637.60,532.16 L638.10,530.71 L638.60,529.28 L639.10,527.93 L639.60,526.76" fill="none" stroke="#4a9cdc" stroke-width="1.0" stroke-linecap="butt"/>
<path d="M614.40,524.73 L614.91,525.03 L615.42,525.67 L615.92,526.59 L616.43,527.76 L616.94,529.10 L617.45,530.55 L617.95,532.03 L618.46,533.44 L618.97,534.72 L619.48,535.80 L619.98,536.62 L620.49,537.13 L621.00,537.30" fill="none" stroke="#2673c0" stroke-width="1.4" stroke-linecap="butt"/>
<path d="M621.00,524.70 L621.52,524.88 L622.05,525.42 L622.57,526.28 L623.09,527.42 L623.62,528.77 L624.14,530.24 L624.66,531.76 L625.18,533.23 L625.71,534.58 L626.23,535.72 L626.75,536.58 L627.28,537.12 L627.80,537.30" fill="none" stroke="#2673c0" stroke-width="1.4" stroke-linecap="butt"/>
<path d="M627.80,524.70 L628.32,524.88 L628.85,525.42 L629.37,526.28 L629.89,527.42 L630.42,528.77 L630.94,530.24 L631.46,531.76 L631.98,533.23 L632.51,534.58 L633.03,535.72 L633.55,536.58 L634.08,537.12 L634.60,537.30" fill="none" stroke="#2673c0" stroke-width="1.4" stroke-linecap="butt"/>
<path d="M634.60,524.70 L635.10,524.87 L635.60,525.36 L636.10,526.15 L636.60,527.20 L637.10,528.46 L637.60,529.84 L638.10,531.29 L638.60,532.72 L639.10,534.07 L639.60,535.24" fill="none" stroke="#2673c0" stroke-width="1.4" stroke-linecap="butt"/>
<path d="M719.80,526.76 L720.28,527.88 L720.76,529.16 L721.24,530.53 L721.72,530.07 L722.20,528.72 L722.68,527.49 L723.16,526.42 L723.64,525.58 L724.12,525.01 L724.60,524.73 L725.08,524.75 L725.56,525.08 L726.04,525.71 L726.52,526.59 L727.00,527.68 L727.48,528.94 L727.96,530.30 L728.44,530.30 L728.92,528.94 L729.40,527.68 L729.88,526.59 L730.36,525.71 L730.84,525.08 L731.32,524.75 L731.80,524.73 L732.28,525.01 L732.76,525.58 L733.24,526.42 L733.72,527.49 L734.20,528.72 L734.68,530.07 L735.16,530.53 L735.64,529.16 L736.12,527.88 L736.60,526.76 L737.08,525.84 L737.56,525.17 L738.04,524.79 L738.52,524.71 L739.00,524.94 L739.48,525.47 L739.96,526.27 L740.44,527.30 L740.92,528.51 L741.40,529.84 L741.88,530.77 L742.36,529.39 L742.84,528.09 L743.32,526.93 L743.80,525.97 L743.80,536.03 L743.32,535.07 L742.84,533.91 L742.36,532.61 L741.88,531.23 L741.40,532.16 L740.92,533.49 L740.44,534.70 L739.96,535.73 L739.48,536.53 L739.00,537.06 L738.52,537.29 L738.04,537.21 L737.56,536.83 L737.08,536.16 L736.60,535.24 L736.12,534.12 L735.64,532.84 L735.16,531.47 L734.68,531.93 L734.20,533.28 L733.72,534.51 L733.24,535.58 L732.76,536.42 L732.28,536.99 L731.80,537.27 L731.32,537.25 L730.84,536.92 L730.36,536.29 L729.88,535.41 L729.40,534.32 L728.92,533.06 L728.44,531.70 L727.96,531.70 L727.48,533.06 L727.00,534.32 L726.52,535.41 L726.04,536.29 L725.56,536.92 L725.08,537.25 L724.60,537.27 L724.12,536.99 L723.64,536.42 L723.16,535.58 L722.68,534.51 L722.20,533.28 L721.72,531.93 L721.24,531.47 L720.76,532.84 L720.28,534.12 L719.80,535.24 Z" fill="#dff4fc" stroke="none" stroke-width="1" />
<g stroke="#49c4ee" stroke-width="0.6">
<line x1="722.60" y1="528.18" x2="722.60" y2="533.82"/>
<line x1="724.20" y1="525.44" x2="724.20" y2="536.56"/>
<line x1="725.80" y1="525.86" x2="725.80" y2="536.14"/>
<line x1="727.40" y1="529.22" x2="727.40" y2="532.78"/>
<line x1="729.00" y1="529.22" x2="729.00" y2="532.78"/>
<line x1="730.60" y1="525.86" x2="730.60" y2="536.14"/>
<line x1="732.20" y1="525.44" x2="732.20" y2="536.56"/>
<line x1="733.80" y1="528.18" x2="733.80" y2="533.82"/>
<line x1="737.00" y1="526.47" x2="737.00" y2="535.53"/>
<line x1="738.60" y1="525.23" x2="738.60" y2="536.77"/>
<line x1="740.20" y1="527.26" x2="740.20" y2="534.74"/>
<line x1="743.40" y1="527.26" x2="743.40" y2="534.74"/>
</g>
<path d="M719.80,526.76 L720.30,527.93 L720.80,529.28 L721.30,530.71 L721.80,532.16 L722.30,533.54 L722.80,534.80 L723.30,535.85 L723.80,536.64 L724.30,537.13 L724.80,537.30" fill="none" stroke="#4a9cdc" stroke-width="1.0" stroke-linecap="butt"/>
<path d="M724.80,524.70 L725.32,524.88 L725.85,525.42 L726.37,526.28 L726.89,527.42 L727.42,528.77 L727.94,530.24 L728.46,531.76 L728.98,533.23 L729.51,534.58 L730.03,535.72 L730.55,536.58 L731.08,537.12 L731.60,537.30" fill="none" stroke="#4a9cdc" stroke-width="1.0" stroke-linecap="butt"/>
<path d="M731.60,524.70 L732.12,524.88 L732.65,525.42 L733.17,526.28 L733.69,527.42 L734.22,528.77 L734.74,530.24 L735.26,531.76 L735.78,533.23 L736.31,534.58 L736.83,535.72 L737.35,536.58 L737.88,537.12 L738.40,537.30" fill="none" stroke="#4a9cdc" stroke-width="1.0" stroke-linecap="butt"/>
<path d="M738.40,524.70 L738.94,524.90 L739.48,525.47 L740.02,526.38 L740.56,527.59 L741.10,529.00 L741.64,530.53 L742.18,532.10 L742.72,533.60 L743.26,534.93 L743.80,536.03" fill="none" stroke="#4a9cdc" stroke-width="1.0" stroke-linecap="butt"/>
<path d="M719.80,535.24 L720.30,534.07 L720.80,532.72 L721.30,531.29 L721.80,529.84 L722.30,528.46 L722.80,527.20 L723.30,526.15 L723.80,525.36 L724.30,524.87 L724.80,524.70" fill="none" stroke="#2673c0" stroke-width="1.4" stroke-linecap="butt"/>
<path d="M724.80,537.30 L725.32,537.12 L725.85,536.58 L726.37,535.72 L726.89,534.58 L727.42,533.23 L727.94,531.76 L728.46,530.24 L728.98,528.77 L729.51,527.42 L730.03,526.28 L730.55,525.42 L731.08,524.88 L731.60,524.70" fill="none" stroke="#2673c0" stroke-width="1.4" stroke-linecap="butt"/>
<path d="M731.60,537.30 L732.12,537.12 L732.65,536.58 L733.17,535.72 L733.69,534.58 L734.22,533.23 L734.74,531.76 L735.26,530.24 L735.78,528.77 L736.31,527.42 L736.83,526.28 L737.35,525.42 L737.88,524.88 L738.40,524.70" fill="none" stroke="#2673c0" stroke-width="1.4" stroke-linecap="butt"/>
<path d="M738.40,537.30 L738.94,537.10 L739.48,536.53 L740.02,535.62 L740.56,534.41 L741.10,533.00 L741.64,531.47 L742.18,529.90 L742.72,528.40 L743.26,527.07 L743.80,525.97" fill="none" stroke="#2673c0" stroke-width="1.4" stroke-linecap="butt"/>
<path d="M647.50,523.30 L711.50,523.30 C716.54,523.30 718.90,525.61 718.90,531.00 C718.90,536.39 716.54,538.70 711.50,538.70 L647.50,538.70 C642.46,538.70 640.20,536.39 640.20,531.00 C640.20,525.61 642.46,523.30 647.50,523.30 Z" fill="#ecf9fe" stroke="none" stroke-width="1" />
<g stroke="#4cc3ee" stroke-width="1.0">
<line x1="642.80" y1="525.12" x2="642.80" y2="536.88"/>
<line x1="644.80" y1="524.21" x2="644.80" y2="537.79"/>
<line x1="646.80" y1="523.83" x2="646.80" y2="538.17"/>
<line x1="648.80" y1="523.80" x2="648.80" y2="538.20"/>
<line x1="650.80" y1="523.80" x2="650.80" y2="538.20"/>
<line x1="652.80" y1="523.80" x2="652.80" y2="538.20"/>
<line x1="654.80" y1="523.80" x2="654.80" y2="538.20"/>
<line x1="656.80" y1="523.80" x2="656.80" y2="538.20"/>
<line x1="658.80" y1="523.80" x2="658.80" y2="538.20"/>
<line x1="660.80" y1="523.80" x2="660.80" y2="538.20"/>
<line x1="662.80" y1="523.80" x2="662.80" y2="538.20"/>
<line x1="664.80" y1="523.80" x2="664.80" y2="538.20"/>
<line x1="666.80" y1="523.80" x2="666.80" y2="538.20"/>
<line x1="668.80" y1="523.80" x2="668.80" y2="538.20"/>
<line x1="670.80" y1="523.80" x2="670.80" y2="538.20"/>
<line x1="672.80" y1="523.80" x2="672.80" y2="538.20"/>
<line x1="674.80" y1="523.80" x2="674.80" y2="538.20"/>
<line x1="676.80" y1="523.80" x2="676.80" y2="538.20"/>
<line x1="678.80" y1="523.80" x2="678.80" y2="538.20"/>
<line x1="680.80" y1="523.80" x2="680.80" y2="538.20"/>
<line x1="682.80" y1="523.80" x2="682.80" y2="538.20"/>
<line x1="684.80" y1="523.80" x2="684.80" y2="538.20"/>
<line x1="686.80" y1="523.80" x2="686.80" y2="538.20"/>
<line x1="688.80" y1="523.80" x2="688.80" y2="538.20"/>
<line x1="690.80" y1="523.80" x2="690.80" y2="538.20"/>
<line x1="692.80" y1="523.80" x2="692.80" y2="538.20"/>
<line x1="694.80" y1="523.80" x2="694.80" y2="538.20"/>
<line x1="696.80" y1="523.80" x2="696.80" y2="538.20"/>
<line x1="698.80" y1="523.80" x2="698.80" y2="538.20"/>
<line x1="700.80" y1="523.80" x2="700.80" y2="538.20"/>
<line x1="702.80" y1="523.80" x2="702.80" y2="538.20"/>
<line x1="704.80" y1="523.80" x2="704.80" y2="538.20"/>
<line x1="706.80" y1="523.80" x2="706.80" y2="538.20"/>
<line x1="708.80" y1="523.80" x2="708.80" y2="538.20"/>
<line x1="710.80" y1="523.80" x2="710.80" y2="538.20"/>
<line x1="712.80" y1="523.88" x2="712.80" y2="538.12"/>
<line x1="714.80" y1="524.38" x2="714.80" y2="537.62"/>
</g>
<line x1="642.30" y1="531.00" x2="716.80" y2="531.00" stroke="#ffffff" stroke-width="1.7" />
<rect x="657.10" y="523.30" width="8.50" height="15.40" fill="#b9e6c8" stroke="none" stroke-width="1" rx="0" />
<g stroke="#18a84c" stroke-width="1.2" opacity="0.75">
<line x1="657.90" y1="523.30" x2="657.90" y2="538.70"/>
<line x1="659.90" y1="523.30" x2="659.90" y2="538.70"/>
<line x1="661.90" y1="523.30" x2="661.90" y2="538.70"/>
<line x1="663.90" y1="523.30" x2="663.90" y2="538.70"/>
</g>
<line x1="657.10" y1="531.00" x2="665.60" y2="531.00" stroke="#ffffff" stroke-width="1.7" />
<rect x="696.10" y="523.30" width="8.80" height="15.40" fill="#b9e6c8" stroke="none" stroke-width="1" rx="0" />
<g stroke="#18a84c" stroke-width="1.2" opacity="0.75">
<line x1="696.90" y1="523.30" x2="696.90" y2="538.70"/>
<line x1="698.90" y1="523.30" x2="698.90" y2="538.70"/>
<line x1="700.90" y1="523.30" x2="700.90" y2="538.70"/>
<line x1="702.90" y1="523.30" x2="702.90" y2="538.70"/>
</g>
<line x1="696.10" y1="531.00" x2="704.90" y2="531.00" stroke="#ffffff" stroke-width="1.7" />
<path d="M647.50,523.30 L711.50,523.30 C716.54,523.30 718.90,525.61 718.90,531.00 C718.90,536.39 716.54,538.70 711.50,538.70 L647.50,538.70 C642.46,538.70 640.20,536.39 640.20,531.00 C640.20,525.61 642.46,523.30 647.50,523.30 Z" fill="none" stroke="#1b62b3" stroke-width="2.2" />
<rect x="647.50" y="521.20" width="35.90" height="4.20" fill="#15236e" stroke="none" stroke-width="1" rx="0" />
<rect x="647.50" y="536.60" width="35.90" height="4.20" fill="#15236e" stroke="none" stroke-width="1" rx="0" />
<rect x="687.60" y="521.20" width="23.90" height="4.20" fill="#15236e" stroke="none" stroke-width="1" rx="0" />
<rect x="687.60" y="536.60" width="23.90" height="4.20" fill="#15236e" stroke="none" stroke-width="1" rx="0" />
<rect x="657.10" y="521.20" width="8.50" height="4.20" fill="#18a84c" stroke="none" stroke-width="1" rx="0" />
<rect x="657.10" y="536.60" width="8.50" height="4.20" fill="#18a84c" stroke="none" stroke-width="1" rx="0" />
<rect x="696.10" y="521.20" width="8.80" height="4.20" fill="#18a84c" stroke="none" stroke-width="1" rx="0" />
<rect x="696.10" y="536.60" width="8.80" height="4.20" fill="#18a84c" stroke="none" stroke-width="1" rx="0" />
<rect x="683.40" y="520.70" width="4.20" height="20.60" fill="#ffffff" stroke="none" stroke-width="1" rx="0" />
<ellipse cx="683.6" cy="528.8" rx="10" ry="18.6" fill="none" stroke="#e5352a" stroke-width="1.2"/>
<path d="M669.6,512.2 L698.2,550.6 M698.2,512.2 L671.5,551.2" fill="none" stroke="#ee3b24" stroke-width="2.4" />
<line x1="541.90" y1="587.30" x2="541.90" y2="632.50" stroke="#8c8c8c" stroke-width="2.6" />
<path d="M533.60,631.50 L550.20,631.50 L541.90,639.00 Z" fill="#8c8c8c" stroke="none" stroke-width="1" />
<line x1="683.40" y1="561.00" x2="683.40" y2="613.90" stroke="#8c8c8c" stroke-width="2.6" />
<path d="M675.10,612.90 L691.70,612.90 L683.40,620.40 Z" fill="#8c8c8c" stroke="none" stroke-width="1" />
<path d="M469.5,640 C466,645 473,648 468.5,653 C466,657 470,661 473,660" fill="none" stroke="#4aa6e0" stroke-width="1.1" />
<path d="M472.90,648.73 L473.38,649.01 L473.87,649.60 L474.35,650.45 L474.84,651.53 L475.32,652.78 L475.81,654.14 L476.29,654.45 L476.77,653.07 L477.26,651.79 L477.74,650.67 L478.23,649.76 L478.71,649.11 L479.19,648.76 L479.68,648.72 L480.16,648.99 L480.65,649.56 L481.13,650.41 L481.62,651.48 L482.10,652.72 L482.58,654.08 L483.07,654.51 L483.55,653.13 L484.04,651.84 L484.52,650.71 L485.01,649.79 L485.49,649.14 L485.97,648.77 L486.46,648.72 L486.94,648.98 L487.43,649.53 L487.91,650.36 L488.39,651.43 L488.88,652.67 L489.36,654.02 L489.85,654.57 L490.33,653.19 L490.82,651.89 L491.30,650.76 L491.30,659.24 L490.82,658.11 L490.33,656.81 L489.85,655.43 L489.36,655.98 L488.88,657.33 L488.39,658.57 L487.91,659.64 L487.43,660.47 L486.94,661.02 L486.46,661.28 L485.97,661.23 L485.49,660.86 L485.01,660.21 L484.52,659.29 L484.04,658.16 L483.55,656.87 L483.07,655.49 L482.58,655.92 L482.10,657.28 L481.62,658.52 L481.13,659.59 L480.65,660.44 L480.16,661.01 L479.68,661.28 L479.19,661.24 L478.71,660.89 L478.23,660.24 L477.74,659.33 L477.26,658.21 L476.77,656.93 L476.29,655.55 L475.81,655.86 L475.32,657.22 L474.84,658.47 L474.35,659.55 L473.87,660.40 L473.38,660.99 L472.90,661.27 Z" fill="#dff4fc" stroke="none" stroke-width="1" />
<g stroke="#49c4ee" stroke-width="0.6">
<line x1="473.70" y1="649.86" x2="473.70" y2="660.14"/>
<line x1="475.30" y1="653.22" x2="475.30" y2="656.78"/>
<line x1="476.90" y1="653.22" x2="476.90" y2="656.78"/>
<line x1="478.50" y1="649.86" x2="478.50" y2="660.14"/>
<line x1="480.10" y1="649.44" x2="480.10" y2="660.56"/>
<line x1="481.70" y1="652.18" x2="481.70" y2="657.82"/>
<line x1="484.90" y1="650.47" x2="484.90" y2="659.53"/>
<line x1="486.50" y1="649.23" x2="486.50" y2="660.77"/>
<line x1="488.10" y1="651.26" x2="488.10" y2="658.74"/>
</g>
<path d="M472.90,661.27 L473.41,660.97 L473.92,660.33 L474.42,659.41 L474.93,658.24 L475.44,656.90 L475.95,655.45 L476.45,653.97 L476.96,652.56 L477.47,651.28 L477.98,650.20 L478.48,649.38 L478.99,648.87 L479.50,648.70" fill="none" stroke="#4a9cdc" stroke-width="1.0" stroke-linecap="butt"/>
<path d="M479.50,661.30 L480.02,661.12 L480.55,660.58 L481.07,659.72 L481.59,658.58 L482.12,657.23 L482.64,655.76 L483.16,654.24 L483.68,652.77 L484.21,651.42 L484.73,650.28 L485.25,649.42 L485.78,648.88 L486.30,648.70" fill="none" stroke="#4a9cdc" stroke-width="1.0" stroke-linecap="butt"/>
<path d="M486.30,661.30 L486.80,661.13 L487.30,660.64 L487.80,659.85 L488.30,658.80 L488.80,657.54 L489.30,656.16 L489.80,654.71 L490.30,653.28 L490.80,651.93 L491.30,650.76" fill="none" stroke="#4a9cdc" stroke-width="1.0" stroke-linecap="butt"/>
<path d="M472.90,648.73 L473.41,649.03 L473.92,649.67 L474.42,650.59 L474.93,651.76 L475.44,653.10 L475.95,654.55 L476.45,656.03 L476.96,657.44 L477.47,658.72 L477.98,659.80 L478.48,660.62 L478.99,661.13 L479.50,661.30" fill="none" stroke="#2673c0" stroke-width="1.4" stroke-linecap="butt"/>
<path d="M479.50,648.70 L480.02,648.88 L480.55,649.42 L481.07,650.28 L481.59,651.42 L482.12,652.77 L482.64,654.24 L483.16,655.76 L483.68,657.23 L484.21,658.58 L484.73,659.72 L485.25,660.58 L485.78,661.12 L486.30,661.30" fill="none" stroke="#2673c0" stroke-width="1.4" stroke-linecap="butt"/>
<path d="M486.30,648.70 L486.80,648.87 L487.30,649.36 L487.80,650.15 L488.30,651.20 L488.80,652.46 L489.30,653.84 L489.80,655.29 L490.30,656.72 L490.80,658.07 L491.30,659.24" fill="none" stroke="#2673c0" stroke-width="1.4" stroke-linecap="butt"/>
<path d="M571.30,650.76 L571.79,651.91 L572.28,653.21 L572.77,654.61 L573.25,653.97 L573.74,652.61 L574.23,651.37 L574.72,650.31 L575.21,649.49 L575.70,648.94 L576.18,648.71 L576.67,648.79 L577.16,649.19 L577.65,649.89 L578.14,650.84 L578.63,652.00 L579.12,653.32 L579.60,654.72 L580.09,653.86 L580.58,652.51 L581.07,651.28 L581.56,650.23 L582.05,649.43 L582.53,648.91 L583.02,648.70 L583.51,648.81 L584.00,649.24 L584.49,649.95 L584.98,650.92 L585.47,652.10 L585.95,653.43 L586.44,654.83 L586.93,653.75 L587.42,652.40 L587.91,651.19 L588.40,650.16 L588.88,649.38 L589.37,648.89 L589.86,648.70 L590.35,648.84 L590.84,649.28 L591.33,650.02 L591.82,651.01 L592.30,652.20 L592.79,653.54 L593.28,654.94 L593.77,653.64 L594.26,652.30 L594.75,651.10 L595.23,650.09 L595.72,649.33 L596.21,648.86 L596.70,648.70 L596.70,661.30 L596.21,661.14 L595.72,660.67 L595.23,659.91 L594.75,658.90 L594.26,657.70 L593.77,656.36 L593.28,655.06 L592.79,656.46 L592.30,657.80 L591.82,658.99 L591.33,659.98 L590.84,660.72 L590.35,661.16 L589.86,661.30 L589.37,661.11 L588.88,660.62 L588.40,659.84 L587.91,658.81 L587.42,657.60 L586.93,656.25 L586.44,655.17 L585.95,656.57 L585.47,657.90 L584.98,659.08 L584.49,660.05 L584.00,660.76 L583.51,661.19 L583.02,661.30 L582.53,661.09 L582.05,660.57 L581.56,659.77 L581.07,658.72 L580.58,657.49 L580.09,656.14 L579.60,655.28 L579.12,656.68 L578.63,658.00 L578.14,659.16 L577.65,660.11 L577.16,660.81 L576.67,661.21 L576.18,661.29 L575.70,661.06 L575.21,660.51 L574.72,659.69 L574.23,658.63 L573.74,657.39 L573.25,656.03 L572.77,655.39 L572.28,656.79 L571.79,658.09 L571.30,659.24 Z" fill="#dff4fc" stroke="none" stroke-width="1" />
<g stroke="#49c4ee" stroke-width="0.6">
<line x1="574.10" y1="652.18" x2="574.10" y2="657.82"/>
<line x1="575.70" y1="649.44" x2="575.70" y2="660.56"/>
<line x1="577.30" y1="649.86" x2="577.30" y2="660.14"/>
<line x1="578.90" y1="653.22" x2="578.90" y2="656.78"/>
<line x1="580.50" y1="653.22" x2="580.50" y2="656.78"/>
<line x1="582.10" y1="649.86" x2="582.10" y2="660.14"/>
<line x1="583.70" y1="649.44" x2="583.70" y2="660.56"/>
<line x1="585.30" y1="652.18" x2="585.30" y2="657.82"/>
<line x1="588.50" y1="650.47" x2="588.50" y2="659.53"/>
<line x1="590.10" y1="649.23" x2="590.10" y2="660.77"/>
<line x1="591.70" y1="651.26" x2="591.70" y2="658.74"/>
<line x1="594.90" y1="651.26" x2="594.90" y2="658.74"/>
<line x1="596.50" y1="649.23" x2="596.50" y2="660.77"/>
</g>
<path d="M571.30,650.76 L571.80,651.93 L572.30,653.28 L572.80,654.71 L573.30,656.16 L573.80,657.54 L574.30,658.80 L574.80,659.85 L575.30,660.64 L575.80,661.13 L576.30,661.30" fill="none" stroke="#4a9cdc" stroke-width="1.0" stroke-linecap="butt"/>
<path d="M576.30,648.70 L576.82,648.88 L577.35,649.42 L577.87,650.28 L578.39,651.42 L578.92,652.77 L579.44,654.24 L579.96,655.76 L580.48,657.23 L581.01,658.58 L581.53,659.72 L582.05,660.58 L582.58,661.12 L583.10,661.30" fill="none" stroke="#4a9cdc" stroke-width="1.0" stroke-linecap="butt"/>
<path d="M583.10,648.70 L583.62,648.88 L584.15,649.42 L584.67,650.28 L585.19,651.42 L585.72,652.77 L586.24,654.24 L586.76,655.76 L587.28,657.23 L587.81,658.58 L588.33,659.72 L588.85,660.58 L589.38,661.12 L589.90,661.30" fill="none" stroke="#4a9cdc" stroke-width="1.0" stroke-linecap="butt"/>
<path d="M589.90,648.70 L590.42,648.88 L590.95,649.42 L591.47,650.28 L591.99,651.42 L592.52,652.77 L593.04,654.24 L593.56,655.76 L594.08,657.23 L594.61,658.58 L595.13,659.72 L595.65,660.58 L596.18,661.12 L596.70,661.30" fill="none" stroke="#4a9cdc" stroke-width="1.0" stroke-linecap="butt"/>
<path d="M596.70,648.70 L596.70,648.70 L596.70,648.70" fill="none" stroke="#4a9cdc" stroke-width="1.0" stroke-linecap="butt"/>
<path d="M571.30,659.24 L571.80,658.07 L572.30,656.72 L572.80,655.29 L573.30,653.84 L573.80,652.46 L574.30,651.20 L574.80,650.15 L575.30,649.36 L575.80,648.87 L576.30,648.70" fill="none" stroke="#2673c0" stroke-width="1.4" stroke-linecap="butt"/>
<path d="M576.30,661.30 L576.82,661.12 L577.35,660.58 L577.87,659.72 L578.39,658.58 L578.92,657.23 L579.44,655.76 L579.96,654.24 L580.48,652.77 L581.01,651.42 L581.53,650.28 L582.05,649.42 L582.58,648.88 L583.10,648.70" fill="none" stroke="#2673c0" stroke-width="1.4" stroke-linecap="butt"/>
<path d="M583.10,661.30 L583.62,661.12 L584.15,660.58 L584.67,659.72 L585.19,658.58 L585.72,657.23 L586.24,655.76 L586.76,654.24 L587.28,652.77 L587.81,651.42 L588.33,650.28 L588.85,649.42 L589.38,648.88 L589.90,648.70" fill="none" stroke="#2673c0" stroke-width="1.4" stroke-linecap="butt"/>
<path d="M589.90,661.30 L590.42,661.12 L590.95,660.58 L591.47,659.72 L591.99,658.58 L592.52,657.23 L593.04,655.76 L593.56,654.24 L594.08,652.77 L594.61,651.42 L595.13,650.28 L595.65,649.42 L596.18,648.88 L596.70,648.70" fill="none" stroke="#2673c0" stroke-width="1.4" stroke-linecap="butt"/>
<path d="M596.70,661.30 L596.70,661.30 L596.70,661.30" fill="none" stroke="#2673c0" stroke-width="1.4" stroke-linecap="butt"/>
<path d="M499.00,646.80 L563.50,646.80 C568.48,646.80 570.40,649.27 570.40,654.85 C570.40,660.43 568.48,662.90 563.50,662.90 L499.00,662.90 C494.02,662.90 491.80,660.43 491.80,654.85 C491.80,649.27 494.02,646.80 499.00,646.80 Z" fill="#ecf9fe" stroke="none" stroke-width="1" />
<g stroke="#4cc3ee" stroke-width="1.0">
<line x1="494.40" y1="648.65" x2="494.40" y2="661.05"/>
<line x1="496.40" y1="647.71" x2="496.40" y2="661.99"/>
<line x1="498.40" y1="647.32" x2="498.40" y2="662.38"/>
<line x1="500.40" y1="647.30" x2="500.40" y2="662.40"/>
<line x1="502.40" y1="647.30" x2="502.40" y2="662.40"/>
<line x1="504.40" y1="647.30" x2="504.40" y2="662.40"/>
<line x1="506.40" y1="647.30" x2="506.40" y2="662.40"/>
<line x1="508.40" y1="647.30" x2="508.40" y2="662.40"/>
<line x1="510.40" y1="647.30" x2="510.40" y2="662.40"/>
<line x1="512.40" y1="647.30" x2="512.40" y2="662.40"/>
<line x1="514.40" y1="647.30" x2="514.40" y2="662.40"/>
<line x1="516.40" y1="647.30" x2="516.40" y2="662.40"/>
<line x1="518.40" y1="647.30" x2="518.40" y2="662.40"/>
<line x1="520.40" y1="647.30" x2="520.40" y2="662.40"/>
<line x1="522.40" y1="647.30" x2="522.40" y2="662.40"/>
<line x1="524.40" y1="647.30" x2="524.40" y2="662.40"/>
<line x1="526.40" y1="647.30" x2="526.40" y2="662.40"/>
<line x1="528.40" y1="647.30" x2="528.40" y2="662.40"/>
<line x1="530.40" y1="647.30" x2="530.40" y2="662.40"/>
<line x1="532.40" y1="647.30" x2="532.40" y2="662.40"/>
<line x1="534.40" y1="647.30" x2="534.40" y2="662.40"/>
<line x1="536.40" y1="647.30" x2="536.40" y2="662.40"/>
<line x1="538.40" y1="647.30" x2="538.40" y2="662.40"/>
<line x1="540.40" y1="647.30" x2="540.40" y2="662.40"/>
<line x1="542.40" y1="647.30" x2="542.40" y2="662.40"/>
<line x1="544.40" y1="647.30" x2="544.40" y2="662.40"/>
<line x1="546.40" y1="647.30" x2="546.40" y2="662.40"/>
<line x1="548.40" y1="647.30" x2="548.40" y2="662.40"/>
<line x1="550.40" y1="647.30" x2="550.40" y2="662.40"/>
<line x1="552.40" y1="647.30" x2="552.40" y2="662.40"/>
<line x1="554.40" y1="647.30" x2="554.40" y2="662.40"/>
<line x1="556.40" y1="647.30" x2="556.40" y2="662.40"/>
<line x1="558.40" y1="647.30" x2="558.40" y2="662.40"/>
<line x1="560.40" y1="647.30" x2="560.40" y2="662.40"/>
<line x1="562.40" y1="647.30" x2="562.40" y2="662.40"/>
<line x1="564.40" y1="647.38" x2="564.40" y2="662.32"/>
<line x1="566.40" y1="647.92" x2="566.40" y2="661.78"/>
</g>
<line x1="493.90" y1="654.85" x2="568.30" y2="654.85" stroke="#ffffff" stroke-width="1.7" />
<rect x="533.20" y="646.80" width="11.50" height="16.10" fill="#efd0ef" stroke="none" stroke-width="1" rx="0" />
<g stroke="#b458b6" stroke-width="1.2" opacity="0.75">
<line x1="534.00" y1="646.80" x2="534.00" y2="662.90"/>
<line x1="536.00" y1="646.80" x2="536.00" y2="662.90"/>
<line x1="538.00" y1="646.80" x2="538.00" y2="662.90"/>
<line x1="540.00" y1="646.80" x2="540.00" y2="662.90"/>
<line x1="542.00" y1="646.80" x2="542.00" y2="662.90"/>
<line x1="544.00" y1="646.80" x2="544.00" y2="662.90"/>
</g>
<line x1="533.20" y1="654.85" x2="544.70" y2="654.85" stroke="#ffffff" stroke-width="1.7" />
<path d="M499.00,646.80 L563.50,646.80 C568.48,646.80 570.40,649.27 570.40,654.85 C570.40,660.43 568.48,662.90 563.50,662.90 L499.00,662.90 C494.02,662.90 491.80,660.43 491.80,654.85 C491.80,649.27 494.02,646.80 499.00,646.80 Z" fill="none" stroke="#1b62b3" stroke-width="2.2" />
<rect x="499.00" y="644.70" width="64.50" height="4.20" fill="#15236e" stroke="none" stroke-width="1" rx="0" />
<rect x="499.00" y="660.80" width="64.50" height="4.20" fill="#15236e" stroke="none" stroke-width="1" rx="0" />
<rect x="533.20" y="644.70" width="11.50" height="4.20" fill="#b458b6" stroke="none" stroke-width="1" rx="0" />
<rect x="533.20" y="660.80" width="11.50" height="4.20" fill="#b458b6" stroke="none" stroke-width="1" rx="0" />
<text x="505.8" y="679.2" font-size="12.4" fill="#8f2b9c" text-anchor="start" font-weight="bold" font-style="normal" textLength="52.6" lengthAdjust="spacingAndGlyphs"  xml:space="preserve">Inserción</text>
<path d="M624.80,631.76 L625.28,632.89 L625.76,634.17 L626.24,635.55 L626.73,635.05 L627.21,633.70 L627.69,632.46 L628.17,631.40 L628.65,630.56 L629.13,630.00 L629.62,629.72 L630.10,629.76 L630.58,630.10 L631.06,630.74 L631.54,631.63 L632.02,632.74 L632.51,634.01 L632.99,635.38 L633.47,635.22 L633.95,633.86 L634.43,632.60 L634.91,631.52 L635.40,630.65 L635.88,630.05 L636.36,629.74 L636.84,629.74 L637.32,630.05 L637.80,630.65 L638.29,631.52 L638.77,632.60 L639.25,633.86 L639.73,635.22 L640.21,635.38 L640.69,634.01 L641.18,632.74 L641.66,631.63 L642.14,630.74 L642.62,630.10 L643.10,629.76 L643.58,629.72 L644.07,630.00 L644.55,630.56 L645.03,631.40 L645.51,632.46 L645.99,633.70 L646.47,635.05 L646.96,635.55 L647.44,634.17 L647.92,632.89 L648.40,631.76 L648.40,640.24 L647.92,639.11 L647.44,637.83 L646.96,636.45 L646.47,636.95 L645.99,638.30 L645.51,639.54 L645.03,640.60 L644.55,641.44 L644.07,642.00 L643.58,642.28 L643.10,642.24 L642.62,641.90 L642.14,641.26 L641.66,640.37 L641.18,639.26 L640.69,637.99 L640.21,636.62 L639.73,636.78 L639.25,638.14 L638.77,639.40 L638.29,640.48 L637.80,641.35 L637.32,641.95 L636.84,642.26 L636.36,642.26 L635.88,641.95 L635.40,641.35 L634.91,640.48 L634.43,639.40 L633.95,638.14 L633.47,636.78 L632.99,636.62 L632.51,637.99 L632.02,639.26 L631.54,640.37 L631.06,641.26 L630.58,641.90 L630.10,642.24 L629.62,642.28 L629.13,642.00 L628.65,641.44 L628.17,640.60 L627.69,639.54 L627.21,638.30 L626.73,636.95 L626.24,636.45 L625.76,637.83 L625.28,639.11 L624.80,640.24 Z" fill="#dff4fc" stroke="none" stroke-width="1" />
<g stroke="#49c4ee" stroke-width="0.6">
<line x1="625.60" y1="634.22" x2="625.60" y2="637.78"/>
<line x1="627.20" y1="634.22" x2="627.20" y2="637.78"/>
<line x1="628.80" y1="630.86" x2="628.80" y2="641.14"/>
<line x1="630.40" y1="630.44" x2="630.40" y2="641.56"/>
<line x1="632.00" y1="633.18" x2="632.00" y2="638.82"/>
<line x1="635.20" y1="631.47" x2="635.20" y2="640.53"/>
<line x1="636.80" y1="630.23" x2="636.80" y2="641.77"/>
<line x1="638.40" y1="632.26" x2="638.40" y2="639.74"/>
<line x1="641.60" y1="632.26" x2="641.60" y2="639.74"/>
<line x1="643.20" y1="630.23" x2="643.20" y2="641.77"/>
<line x1="644.80" y1="631.47" x2="644.80" y2="640.53"/>
<line x1="648.00" y1="633.18" x2="648.00" y2="638.82"/>
</g>
<path d="M624.80,640.24 L625.30,639.07 L625.80,637.72 L626.30,636.29 L626.80,634.84 L627.30,633.46 L627.80,632.20 L628.30,631.15 L628.80,630.36 L629.30,629.87 L629.80,629.70" fill="none" stroke="#4a9cdc" stroke-width="1.0" stroke-linecap="butt"/>
<path d="M629.80,642.30 L630.32,642.12 L630.85,641.58 L631.37,640.72 L631.89,639.58 L632.42,638.23 L632.94,636.76 L633.46,635.24 L633.98,633.77 L634.51,632.42 L635.03,631.28 L635.55,630.42 L636.08,629.88 L636.60,629.70" fill="none" stroke="#4a9cdc" stroke-width="1.0" stroke-linecap="butt"/>
<path d="M636.60,642.30 L637.12,642.12 L637.65,641.58 L638.17,640.72 L638.69,639.58 L639.22,638.23 L639.74,636.76 L640.26,635.24 L640.78,633.77 L641.31,632.42 L641.83,631.28 L642.35,630.42 L642.88,629.88 L643.40,629.70" fill="none" stroke="#4a9cdc" stroke-width="1.0" stroke-linecap="butt"/>
<path d="M643.40,642.30 L643.90,642.13 L644.40,641.64 L644.90,640.85 L645.40,639.80 L645.90,638.54 L646.40,637.16 L646.90,635.71 L647.40,634.28 L647.90,632.93 L648.40,631.76" fill="none" stroke="#4a9cdc" stroke-width="1.0" stroke-linecap="butt"/>
<path d="M624.80,631.76 L625.30,632.93 L625.80,634.28 L626.30,635.71 L626.80,637.16 L627.30,638.54 L627.80,639.80 L628.30,640.85 L628.80,641.64 L629.30,642.13 L629.80,642.30" fill="none" stroke="#2673c0" stroke-width="1.4" stroke-linecap="butt"/>
<path d="M629.80,629.70 L630.32,629.88 L630.85,630.42 L631.37,631.28 L631.89,632.42 L632.42,633.77 L632.94,635.24 L633.46,636.76 L633.98,638.23 L634.51,639.58 L635.03,640.72 L635.55,641.58 L636.08,642.12 L636.60,642.30" fill="none" stroke="#2673c0" stroke-width="1.4" stroke-linecap="butt"/>
<path d="M636.60,629.70 L637.12,629.88 L637.65,630.42 L638.17,631.28 L638.69,632.42 L639.22,633.77 L639.74,635.24 L640.26,636.76 L640.78,638.23 L641.31,639.58 L641.83,640.72 L642.35,641.58 L642.88,642.12 L643.40,642.30" fill="none" stroke="#2673c0" stroke-width="1.4" stroke-linecap="butt"/>
<path d="M643.40,629.70 L643.90,629.87 L644.40,630.36 L644.90,631.15 L645.40,632.20 L645.90,633.46 L646.40,634.84 L646.90,636.29 L647.40,637.72 L647.90,639.07 L648.40,640.24" fill="none" stroke="#2673c0" stroke-width="1.4" stroke-linecap="butt"/>
<path d="M710.30,631.76 L710.78,632.89 L711.27,634.18 L711.75,635.56 L712.23,635.03 L712.72,633.68 L713.20,632.44 L713.68,631.38 L714.17,630.54 L714.65,629.98 L715.13,629.72 L715.62,629.77 L716.10,630.13 L716.58,630.78 L717.07,631.68 L717.55,632.81 L718.03,634.09 L718.52,635.47 L719.00,635.13 L719.48,633.77 L719.97,632.52 L720.45,631.44 L720.93,630.59 L721.42,630.01 L721.90,629.73 L722.38,629.75 L722.87,630.09 L723.35,630.72 L723.83,631.61 L724.32,632.72 L724.80,634.00 L725.28,635.37 L725.77,635.23 L726.25,633.86 L726.73,632.60 L727.22,631.51 L727.70,630.64 L728.18,630.04 L728.67,629.74 L729.15,629.74 L729.63,630.06 L730.12,630.67 L730.60,631.55 L731.08,632.64 L731.57,633.91 L732.05,635.27 L732.53,635.32 L733.02,633.95 L733.50,632.68 L733.50,639.32 L733.02,638.05 L732.53,636.68 L732.05,636.73 L731.57,638.09 L731.08,639.36 L730.60,640.45 L730.12,641.33 L729.63,641.94 L729.15,642.26 L728.67,642.26 L728.18,641.96 L727.70,641.36 L727.22,640.49 L726.73,639.40 L726.25,638.14 L725.77,636.77 L725.28,636.63 L724.80,638.00 L724.32,639.28 L723.83,640.39 L723.35,641.28 L722.87,641.91 L722.38,642.25 L721.90,642.27 L721.42,641.99 L720.93,641.41 L720.45,640.56 L719.97,639.48 L719.48,638.23 L719.00,636.87 L718.52,636.53 L718.03,637.91 L717.55,639.19 L717.07,640.32 L716.58,641.22 L716.10,641.87 L715.62,642.23 L715.13,642.28 L714.65,642.02 L714.17,641.46 L713.68,640.62 L713.20,639.56 L712.72,638.32 L712.23,636.97 L711.75,636.44 L711.27,637.82 L710.78,639.11 L710.30,640.24 Z" fill="#dff4fc" stroke="none" stroke-width="1" />
<g stroke="#49c4ee" stroke-width="0.6">
<line x1="713.10" y1="633.18" x2="713.10" y2="638.82"/>
<line x1="714.70" y1="630.44" x2="714.70" y2="641.56"/>
<line x1="716.30" y1="630.86" x2="716.30" y2="641.14"/>
<line x1="717.90" y1="634.22" x2="717.90" y2="637.78"/>
<line x1="719.50" y1="634.22" x2="719.50" y2="637.78"/>
<line x1="721.10" y1="630.86" x2="721.10" y2="641.14"/>
<line x1="722.70" y1="630.44" x2="722.70" y2="641.56"/>
<line x1="724.30" y1="633.18" x2="724.30" y2="638.82"/>
<line x1="727.50" y1="631.47" x2="727.50" y2="640.53"/>
<line x1="729.10" y1="630.23" x2="729.10" y2="641.77"/>
<line x1="730.70" y1="632.26" x2="730.70" y2="639.74"/>
</g>
<path d="M710.30,631.76 L710.80,632.93 L711.30,634.28 L711.80,635.71 L712.30,637.16 L712.80,638.54 L713.30,639.80 L713.80,640.85 L714.30,641.64 L714.80,642.13 L715.30,642.30" fill="none" stroke="#4a9cdc" stroke-width="1.0" stroke-linecap="butt"/>
<path d="M715.30,629.70 L715.82,629.88 L716.35,630.42 L716.87,631.28 L717.39,632.42 L717.92,633.77 L718.44,635.24 L718.96,636.76 L719.48,638.23 L720.01,639.58 L720.53,640.72 L721.05,641.58 L721.58,642.12 L722.10,642.30" fill="none" stroke="#4a9cdc" stroke-width="1.0" stroke-linecap="butt"/>
<path d="M722.10,629.70 L722.62,629.88 L723.15,630.42 L723.67,631.28 L724.19,632.42 L724.72,633.77 L725.24,635.24 L725.76,636.76 L726.28,638.23 L726.81,639.58 L727.33,640.72 L727.85,641.58 L728.38,642.12 L728.90,642.30" fill="none" stroke="#4a9cdc" stroke-width="1.0" stroke-linecap="butt"/>
<path d="M728.90,629.70 L729.41,629.87 L729.92,630.39 L730.43,631.22 L730.94,632.31 L731.46,633.60 L731.97,635.03 L732.48,636.52 L732.99,637.97 L733.50,639.32" fill="none" stroke="#4a9cdc" stroke-width="1.0" stroke-linecap="butt"/>
<path d="M710.30,640.24 L710.80,639.07 L711.30,637.72 L711.80,636.29 L712.30,634.84 L712.80,633.46 L713.30,632.20 L713.80,631.15 L714.30,630.36 L714.80,629.87 L715.30,629.70" fill="none" stroke="#2673c0" stroke-width="1.4" stroke-linecap="butt"/>
<path d="M715.30,642.30 L715.82,642.12 L716.35,641.58 L716.87,640.72 L717.39,639.58 L717.92,638.23 L718.44,636.76 L718.96,635.24 L719.48,633.77 L720.01,632.42 L720.53,631.28 L721.05,630.42 L721.58,629.88 L722.10,629.70" fill="none" stroke="#2673c0" stroke-width="1.4" stroke-linecap="butt"/>
<path d="M722.10,642.30 L722.62,642.12 L723.15,641.58 L723.67,640.72 L724.19,639.58 L724.72,638.23 L725.24,636.76 L725.76,635.24 L726.28,633.77 L726.81,632.42 L727.33,631.28 L727.85,630.42 L728.38,629.88 L728.90,629.70" fill="none" stroke="#2673c0" stroke-width="1.4" stroke-linecap="butt"/>
<path d="M728.90,642.30 L729.41,642.13 L729.92,641.61 L730.43,640.78 L730.94,639.69 L731.46,638.40 L731.97,636.97 L732.48,635.48 L732.99,634.03 L733.50,632.68" fill="none" stroke="#2673c0" stroke-width="1.4" stroke-linecap="butt"/>
<path d="M656.50,628.10 L702.00,628.10 C707.10,628.10 709.40,630.54 709.40,636.10 C709.40,641.66 707.10,644.10 702.00,644.10 L656.50,644.10 C651.40,644.10 649.10,641.66 649.10,636.10 C649.10,630.54 651.40,628.10 656.50,628.10 Z" fill="#ecf9fe" stroke="none" stroke-width="1" />
<g stroke="#4cc3ee" stroke-width="1.0">
<line x1="651.70" y1="630.00" x2="651.70" y2="642.20"/>
<line x1="653.70" y1="629.05" x2="653.70" y2="643.15"/>
<line x1="655.70" y1="628.64" x2="655.70" y2="643.56"/>
<line x1="657.70" y1="628.60" x2="657.70" y2="643.60"/>
<line x1="659.70" y1="628.60" x2="659.70" y2="643.60"/>
<line x1="661.70" y1="628.60" x2="661.70" y2="643.60"/>
<line x1="663.70" y1="628.60" x2="663.70" y2="643.60"/>
<line x1="665.70" y1="628.60" x2="665.70" y2="643.60"/>
<line x1="667.70" y1="628.60" x2="667.70" y2="643.60"/>
<line x1="669.70" y1="628.60" x2="669.70" y2="643.60"/>
<line x1="671.70" y1="628.60" x2="671.70" y2="643.60"/>
<line x1="673.70" y1="628.60" x2="673.70" y2="643.60"/>
<line x1="675.70" y1="628.60" x2="675.70" y2="643.60"/>
<line x1="677.70" y1="628.60" x2="677.70" y2="643.60"/>
<line x1="679.70" y1="628.60" x2="679.70" y2="643.60"/>
<line x1="681.70" y1="628.60" x2="681.70" y2="643.60"/>
<line x1="683.70" y1="628.60" x2="683.70" y2="643.60"/>
<line x1="685.70" y1="628.60" x2="685.70" y2="643.60"/>
<line x1="687.70" y1="628.60" x2="687.70" y2="643.60"/>
<line x1="689.70" y1="628.60" x2="689.70" y2="643.60"/>
<line x1="691.70" y1="628.60" x2="691.70" y2="643.60"/>
<line x1="693.70" y1="628.60" x2="693.70" y2="643.60"/>
<line x1="695.70" y1="628.60" x2="695.70" y2="643.60"/>
<line x1="697.70" y1="628.60" x2="697.70" y2="643.60"/>
<line x1="699.70" y1="628.60" x2="699.70" y2="643.60"/>
<line x1="701.70" y1="628.60" x2="701.70" y2="643.60"/>
<line x1="703.70" y1="628.76" x2="703.70" y2="643.44"/>
<line x1="705.70" y1="629.40" x2="705.70" y2="642.80"/>
</g>
<line x1="651.20" y1="636.10" x2="707.30" y2="636.10" stroke="#ffffff" stroke-width="1.7" />
<rect x="677.90" y="628.10" width="11.10" height="16.00" fill="#b9e6c8" stroke="none" stroke-width="1" rx="0" />
<g stroke="#18a84c" stroke-width="1.2" opacity="0.75">
<line x1="678.70" y1="628.10" x2="678.70" y2="644.10"/>
<line x1="680.70" y1="628.10" x2="680.70" y2="644.10"/>
<line x1="682.70" y1="628.10" x2="682.70" y2="644.10"/>
<line x1="684.70" y1="628.10" x2="684.70" y2="644.10"/>
<line x1="686.70" y1="628.10" x2="686.70" y2="644.10"/>
<line x1="688.70" y1="628.10" x2="688.70" y2="644.10"/>
</g>
<line x1="677.90" y1="636.10" x2="689.00" y2="636.10" stroke="#ffffff" stroke-width="1.7" />
<path d="M656.50,628.10 L702.00,628.10 C707.10,628.10 709.40,630.54 709.40,636.10 C709.40,641.66 707.10,644.10 702.00,644.10 L656.50,644.10 C651.40,644.10 649.10,641.66 649.10,636.10 C649.10,630.54 651.40,628.10 656.50,628.10 Z" fill="none" stroke="#1b62b3" stroke-width="2.2" />
<rect x="656.50" y="626.00" width="45.50" height="4.20" fill="#15236e" stroke="none" stroke-width="1" rx="0" />
<rect x="656.50" y="642.00" width="45.50" height="4.20" fill="#15236e" stroke="none" stroke-width="1" rx="0" />
<rect x="677.90" y="626.00" width="11.10" height="4.20" fill="#18a84c" stroke="none" stroke-width="1" rx="0" />
<rect x="677.90" y="642.00" width="11.10" height="4.20" fill="#18a84c" stroke="none" stroke-width="1" rx="0" />
<text x="655.1" y="662.8" font-size="12.4" fill="#14a24a" text-anchor="start" font-weight="bold" font-style="normal" textLength="49.0" lengthAdjust="spacingAndGlyphs"  xml:space="preserve">Deleción</text>
<rect x="445.80" y="696.20" width="149.90" height="95.30" fill="#fff" stroke="#888888" stroke-width="1.1" rx="0" />
<text x="453.4" y="715.7" font-size="12" fill="#444444" text-anchor="start" font-weight="normal" font-style="normal" textLength="129.6" lengthAdjust="spacingAndGlyphs"  xml:space="preserve">Se puede provocar una</text>
<text x="453.4" y="730.8" font-size="12" fill="#444444" text-anchor="start" font-weight="normal" font-style="normal" textLength="112.1" lengthAdjust="spacingAndGlyphs"  xml:space="preserve"><tspan font-weight="bold" fill="#8f2b9c">inserción</tspan> de un gen</text>
<text x="453.4" y="746.2" font-size="12" fill="#444444" text-anchor="start" font-weight="normal" font-style="normal" textLength="132.9" lengthAdjust="spacingAndGlyphs"  xml:space="preserve">determinado añadiendo</text>
<text x="453.4" y="761.7" font-size="12" fill="#444444" text-anchor="start" font-weight="normal" font-style="normal" textLength="116.1" lengthAdjust="spacingAndGlyphs"  xml:space="preserve">un <tspan font-weight="bold" fill="#8f2b9c">ADN donador</tspan> con</text>
<text x="453.4" y="777.4" font-size="12" fill="#444444" text-anchor="start" font-weight="normal" font-style="normal" textLength="98.2" lengthAdjust="spacingAndGlyphs"  xml:space="preserve">el gen de interés.</text>
<rect x="611.90" y="696.20" width="145.50" height="53.80" fill="#fff" stroke="#888888" stroke-width="1.1" rx="0" />
<text x="619.1" y="709.0" font-size="12" fill="#444444" text-anchor="start" font-weight="normal" font-style="normal" textLength="130.0" lengthAdjust="spacingAndGlyphs"  xml:space="preserve">Se puede provocar una</text>
<text x="619.1" y="724.9" font-size="12" fill="#444444" text-anchor="start" font-weight="normal" font-style="normal" textLength="110.2" lengthAdjust="spacingAndGlyphs"  xml:space="preserve"><tspan font-weight="bold" fill="#14a24a">deleción</tspan> y silenciar</text>
<text x="619.1" y="739.9" font-size="12" fill="#444444" text-anchor="start" font-weight="normal" font-style="normal" textLength="118.1" lengthAdjust="spacingAndGlyphs"  xml:space="preserve">determinados genes.</text>
<rect x="611.90" y="755.00" width="145.50" height="37.20" fill="#cfedfb" stroke="#888888" stroke-width="1.1" rx="0" />
<text x="617.9" y="768.4" font-size="12" fill="#444444" text-anchor="start" font-weight="normal" font-style="normal" textLength="118.2" lengthAdjust="spacingAndGlyphs"  xml:space="preserve">Se ha provocado una</text>
<text x="617.9" y="783.6" font-size="12" fill="#222222" text-anchor="start" font-weight="bold" font-style="normal" textLength="123.8" lengthAdjust="spacingAndGlyphs"  xml:space="preserve">mutagénesis dirigida.</text>
</svg></body></html>
